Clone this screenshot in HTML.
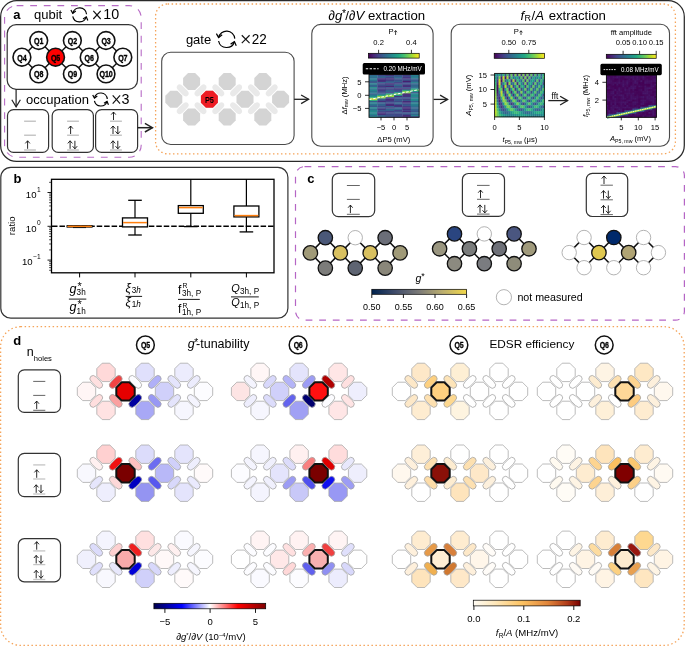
<!DOCTYPE html>
<html><head><meta charset="utf-8"><style>
html,body{margin:0;padding:0;background:#fff;}
svg{display:block;will-change:transform;}
text{font-family:"Liberation Sans", sans-serif;}
</style></head><body>
<svg width="685" height="646" viewBox="0 0 685 646" font-family='"Liberation Sans", sans-serif'>
<defs>
<linearGradient id="gvir" x1="0" y1="0" x2="1" y2="0"><stop offset="0" stop-color="#440154"/><stop offset="0.1" stop-color="#482475"/><stop offset="0.2" stop-color="#414487"/><stop offset="0.3" stop-color="#355f8d"/><stop offset="0.4" stop-color="#2a788e"/><stop offset="0.5" stop-color="#21918c"/><stop offset="0.6" stop-color="#22a884"/><stop offset="0.7" stop-color="#44bf70"/><stop offset="0.8" stop-color="#7ad151"/><stop offset="0.9" stop-color="#bddf26"/><stop offset="1" stop-color="#fde725"/></linearGradient>
<linearGradient id="gseis" x1="0" y1="0" x2="1" y2="0"><stop offset="0" stop-color="#00004c"/><stop offset="0.25" stop-color="#0000ff"/><stop offset="0.5" stop-color="#ffffff"/><stop offset="0.75" stop-color="#ff0000"/><stop offset="1" stop-color="#800000"/></linearGradient>
<linearGradient id="gciv" x1="0" y1="0" x2="1" y2="0"><stop offset="0" stop-color="#00224e"/><stop offset="0.25" stop-color="#414d6b"/><stop offset="0.5" stop-color="#7c7b78"/><stop offset="0.75" stop-color="#bcaf6f"/><stop offset="1" stop-color="#f2d84a"/></linearGradient>
<linearGradient id="gorb" x1="0" y1="0" x2="1" y2="0"><stop offset="0" stop-color="#fffcf4"/><stop offset="0.2" stop-color="#fee8bc"/><stop offset="0.45" stop-color="#fdc464"/><stop offset="0.7" stop-color="#e0843a"/><stop offset="0.88" stop-color="#b03a18"/><stop offset="1" stop-color="#7a0000"/></linearGradient>
</defs>
<rect width="685" height="646" fill="#fff"/>
<rect x="0.65" y="0.65" width="683.65" height="160.75" rx="16" fill="none" stroke="#2a2a2a" stroke-width="1.25"/>
<rect x="4.6" y="5.6" width="136.6" height="151.6" rx="12" fill="none" stroke="#b86cc6" stroke-width="1.1" stroke-dasharray="6.8 6.8"/>
<text x="13.3" y="18.7" font-size="13" font-weight="bold" fill="#000">a</text>
<text x="34" y="19.3" font-size="13" fill="#000">qubit</text>
<path d="M86.57,14.19 A7.0,7.0 0 0 0 72.75,13.34" stroke="#000" stroke-width="1.2" fill="none"/>
<path d="M70.9,9.94 L72.75,13.34 L75.83,10.99" stroke="#000" stroke-width="1.2" fill="none"/>
<path d="M72.75,16.26 A7.0,7.0 0 0 0 86.29,16.85" stroke="#000" stroke-width="1.2" fill="none"/>
<path d="M87.84,20.39 L86.29,16.85 L83.02,18.92" stroke="#000" stroke-width="1.2" fill="none"/>
<line x1="93.3" y1="10.8" x2="100.7" y2="19" stroke="#111" stroke-width="1.15"/>
<line x1="93.3" y1="19" x2="100.7" y2="10.8" stroke="#111" stroke-width="1.15"/>
<text x="103.3" y="18.9" font-size="14.3" fill="#000">10</text>
<rect x="7.2" y="24.6" width="130.3" height="64.7" rx="9" fill="none" stroke="#333" stroke-width="1.2"/>
<line x1="21.9" y1="57.2" x2="38.72" y2="40.5" stroke="#111" stroke-width="1.4"/>
<line x1="21.9" y1="57.2" x2="38.72" y2="73.9" stroke="#111" stroke-width="1.4"/>
<line x1="38.72" y1="40.5" x2="55.54" y2="57.2" stroke="#111" stroke-width="1.4"/>
<line x1="38.72" y1="73.9" x2="55.54" y2="57.2" stroke="#111" stroke-width="1.4"/>
<line x1="55.54" y1="57.2" x2="72.36" y2="40.5" stroke="#111" stroke-width="1.4"/>
<line x1="55.54" y1="57.2" x2="72.36" y2="73.9" stroke="#111" stroke-width="1.4"/>
<line x1="72.36" y1="40.5" x2="89.18" y2="57.2" stroke="#111" stroke-width="1.4"/>
<line x1="72.36" y1="73.9" x2="89.18" y2="57.2" stroke="#111" stroke-width="1.4"/>
<line x1="89.18" y1="57.2" x2="106" y2="40.5" stroke="#111" stroke-width="1.4"/>
<line x1="89.18" y1="57.2" x2="106" y2="73.9" stroke="#111" stroke-width="1.4"/>
<line x1="106" y1="40.5" x2="122.82" y2="57.2" stroke="#111" stroke-width="1.4"/>
<line x1="106" y1="73.9" x2="122.82" y2="57.2" stroke="#111" stroke-width="1.4"/>
<circle cx="21.9" cy="57.2" r="8.9" fill="#fff" stroke="#111" stroke-width="1.6"/>
<text x="21.9" y="60.6" font-size="9.6" font-weight="bold" text-anchor="middle" stroke="#000" stroke-width="0.35" transform="translate(21.9 0) scale(0.74 1) translate(-21.9 0)" letter-spacing="-0.2">Q4</text>
<circle cx="38.72" cy="40.5" r="8.9" fill="#fff" stroke="#111" stroke-width="1.6"/>
<text x="38.72" y="43.9" font-size="9.6" font-weight="bold" text-anchor="middle" stroke="#000" stroke-width="0.35" transform="translate(38.72 0) scale(0.74 1) translate(-38.72 0)" letter-spacing="-0.2">Q1</text>
<circle cx="38.72" cy="73.9" r="8.9" fill="#fff" stroke="#111" stroke-width="1.6"/>
<text x="38.72" y="77.3" font-size="9.6" font-weight="bold" text-anchor="middle" stroke="#000" stroke-width="0.35" transform="translate(38.72 0) scale(0.74 1) translate(-38.72 0)" letter-spacing="-0.2">Q8</text>
<circle cx="55.54" cy="57.2" r="8.9" fill="#ff0000" stroke="#111" stroke-width="1.6"/>
<text x="55.54" y="60.6" font-size="9.6" font-weight="bold" text-anchor="middle" stroke="#000" stroke-width="0.35" transform="translate(55.54 0) scale(0.74 1) translate(-55.54 0)" letter-spacing="-0.2">Q5</text>
<circle cx="72.36" cy="40.5" r="8.9" fill="#fff" stroke="#111" stroke-width="1.6"/>
<text x="72.36" y="43.9" font-size="9.6" font-weight="bold" text-anchor="middle" stroke="#000" stroke-width="0.35" transform="translate(72.36 0) scale(0.74 1) translate(-72.36 0)" letter-spacing="-0.2">Q2</text>
<circle cx="72.36" cy="73.9" r="8.9" fill="#fff" stroke="#111" stroke-width="1.6"/>
<text x="72.36" y="77.3" font-size="9.6" font-weight="bold" text-anchor="middle" stroke="#000" stroke-width="0.35" transform="translate(72.36 0) scale(0.74 1) translate(-72.36 0)" letter-spacing="-0.2">Q9</text>
<circle cx="89.18" cy="57.2" r="8.9" fill="#fff" stroke="#111" stroke-width="1.6"/>
<text x="89.18" y="60.6" font-size="9.6" font-weight="bold" text-anchor="middle" stroke="#000" stroke-width="0.35" transform="translate(89.18 0) scale(0.74 1) translate(-89.18 0)" letter-spacing="-0.2">Q6</text>
<circle cx="106" cy="40.5" r="8.9" fill="#fff" stroke="#111" stroke-width="1.6"/>
<text x="106" y="43.9" font-size="9.6" font-weight="bold" text-anchor="middle" stroke="#000" stroke-width="0.35" transform="translate(106 0) scale(0.74 1) translate(-106 0)" letter-spacing="-0.2">Q3</text>
<circle cx="106" cy="73.9" r="8.9" fill="#fff" stroke="#111" stroke-width="1.6"/>
<text x="106" y="77.3" font-size="9.6" font-weight="bold" text-anchor="middle" stroke="#000" stroke-width="0.35" transform="translate(106 0) scale(0.74 1) translate(-106 0)" letter-spacing="-0.2">Q10</text>
<circle cx="122.82" cy="57.2" r="8.9" fill="#fff" stroke="#111" stroke-width="1.6"/>
<text x="122.82" y="60.6" font-size="9.6" font-weight="bold" text-anchor="middle" stroke="#000" stroke-width="0.35" transform="translate(122.82 0) scale(0.74 1) translate(-122.82 0)" letter-spacing="-0.2">Q7</text>
<line x1="16.1" y1="89.3" x2="16.1" y2="106.8" stroke="#222" stroke-width="1.2"/>
<path d="M11.8,99.8 L16.1,106.8 L20.4,99.8" stroke="#222" stroke-width="1.2" fill="none"/>
<text x="26" y="103.6" font-size="13" fill="#000">occupation</text>
<path d="M107.28,98.93 A6.5,6.5 0 0 0 94.44,98.15" stroke="#000" stroke-width="1.2" fill="none"/>
<path d="M92.72,94.99 L94.44,98.15 L97.3,95.96" stroke="#000" stroke-width="1.2" fill="none"/>
<path d="M94.44,100.85 A6.5,6.5 0 0 0 107.02,101.4" stroke="#000" stroke-width="1.2" fill="none"/>
<path d="M108.46,104.7 L107.02,101.4 L103.98,103.33" stroke="#000" stroke-width="1.2" fill="none"/>
<line x1="112.7" y1="95.4" x2="120.1" y2="103.6" stroke="#111" stroke-width="1.15"/>
<line x1="112.7" y1="103.6" x2="120.1" y2="95.4" stroke="#111" stroke-width="1.15"/>
<text x="121.5" y="103.7" font-size="14.3" fill="#000">3</text>
<rect x="7.5" y="109.6" width="41.1" height="42.8" rx="6" fill="none" stroke="#333" stroke-width="1.2"/>
<line x1="24.1" y1="121.2" x2="35.9" y2="121.2" stroke="#b8b8b8" stroke-width="1.2"/>
<line x1="24.1" y1="135.2" x2="35.9" y2="135.2" stroke="#b8b8b8" stroke-width="1.2"/>
<line x1="24.1" y1="150" x2="35.9" y2="150" stroke="#b8b8b8" stroke-width="1.2"/>
<line x1="27.6" y1="140.8" x2="27.6" y2="148.8" stroke="#111" stroke-width="0.9"/>
<path d="M25.3,143.4 L27.6,140.8 L29.9,143.4" stroke="#111" stroke-width="0.9" fill="none"/>
<rect x="52.2" y="109.6" width="41.2" height="42.8" rx="6" fill="none" stroke="#333" stroke-width="1.2"/>
<line x1="67.1" y1="121.2" x2="78.9" y2="121.2" stroke="#b8b8b8" stroke-width="1.2"/>
<line x1="67.1" y1="135.2" x2="78.9" y2="135.2" stroke="#b8b8b8" stroke-width="1.2"/>
<line x1="70.6" y1="126" x2="70.6" y2="134" stroke="#111" stroke-width="0.9"/>
<path d="M68.3,128.6 L70.6,126 L72.9,128.6" stroke="#111" stroke-width="0.9" fill="none"/>
<line x1="67.1" y1="150" x2="78.9" y2="150" stroke="#b8b8b8" stroke-width="1.2"/>
<line x1="70.1" y1="140.8" x2="70.1" y2="148.8" stroke="#111" stroke-width="0.9"/>
<path d="M67.8,143.4 L70.1,140.8 L72.4,143.4" stroke="#111" stroke-width="0.9" fill="none"/>
<line x1="74.9" y1="140.8" x2="74.9" y2="148.8" stroke="#111" stroke-width="0.9"/>
<path d="M72.6,146.2 L74.9,148.8 L77.2,146.2" stroke="#111" stroke-width="0.9" fill="none"/>
<rect x="95.6" y="109.6" width="42" height="42.8" rx="6" fill="none" stroke="#333" stroke-width="1.2"/>
<line x1="110" y1="121.2" x2="121.9" y2="121.2" stroke="#b8b8b8" stroke-width="1.2"/>
<line x1="113.5" y1="112" x2="113.5" y2="120" stroke="#111" stroke-width="0.9"/>
<path d="M111.2,114.6 L113.5,112 L115.8,114.6" stroke="#111" stroke-width="0.9" fill="none"/>
<line x1="110" y1="135.2" x2="121.9" y2="135.2" stroke="#b8b8b8" stroke-width="1.2"/>
<line x1="113" y1="126" x2="113" y2="134" stroke="#111" stroke-width="0.9"/>
<path d="M110.7,128.6 L113,126 L115.3,128.6" stroke="#111" stroke-width="0.9" fill="none"/>
<line x1="117.8" y1="126" x2="117.8" y2="134" stroke="#111" stroke-width="0.9"/>
<path d="M115.5,131.4 L117.8,134 L120.1,131.4" stroke="#111" stroke-width="0.9" fill="none"/>
<line x1="110" y1="150" x2="121.9" y2="150" stroke="#b8b8b8" stroke-width="1.2"/>
<line x1="113" y1="140.8" x2="113" y2="148.8" stroke="#111" stroke-width="0.9"/>
<path d="M110.7,143.4 L113,140.8 L115.3,143.4" stroke="#111" stroke-width="0.9" fill="none"/>
<line x1="117.8" y1="140.8" x2="117.8" y2="148.8" stroke="#111" stroke-width="0.9"/>
<path d="M115.5,146.2 L117.8,148.8 L120.1,146.2" stroke="#111" stroke-width="0.9" fill="none"/>
<line x1="137.6" y1="127.7" x2="152.4" y2="127.7" stroke="#222" stroke-width="1.5"/>
<path d="M144.9,123.4 L152.4,127.7 L144.9,132" stroke="#222" stroke-width="1.5" fill="none"/>
<rect x="155.6" y="4" width="519.8" height="149.8" rx="12" fill="none" stroke="#f5a45a" stroke-width="1.3" stroke-dasharray="1.5 2.5"/>
<text x="185.9" y="44" font-size="13" fill="#000">gate</text>
<path d="M234.77,38.59 A8.2,8.2 0 0 0 218.58,37.6" stroke="#000" stroke-width="1.2" fill="none"/>
<path d="M216.41,33.61 L218.58,37.6 L222.18,34.84" stroke="#000" stroke-width="1.2" fill="none"/>
<path d="M218.58,41 A8.2,8.2 0 0 0 234.44,41.7" stroke="#000" stroke-width="1.2" fill="none"/>
<path d="M236.26,45.85 L234.44,41.7 L230.61,44.13" stroke="#000" stroke-width="1.2" fill="none"/>
<line x1="241.8" y1="35.25" x2="249.6" y2="43.15" stroke="#111" stroke-width="1.15"/>
<line x1="241.8" y1="43.15" x2="249.6" y2="35.25" stroke="#111" stroke-width="1.15"/>
<text x="251.7" y="43.9" font-size="14.3" fill="#000" textLength="15" lengthAdjust="spacingAndGlyphs">22</text>
<rect x="161.7" y="52.3" width="132.4" height="92.2" rx="9" fill="none" stroke="#4a4a4a" stroke-width="1.1"/>
<rect x="175.4" y="87.3" width="14.6" height="6.2" rx="4.38" ry="3.1" fill="#e9e9e9" stroke="none" stroke-width="0" transform="rotate(45 182.7 90.4)"/>
<rect x="175.4" y="105.1" width="14.6" height="6.2" rx="4.38" ry="3.1" fill="#e9e9e9" stroke="none" stroke-width="0" transform="rotate(-45 182.7 108.2)"/>
<rect x="193.2" y="87.3" width="14.6" height="6.2" rx="4.38" ry="3.1" fill="#e9e9e9" stroke="none" stroke-width="0" transform="rotate(-45 200.5 90.4)"/>
<rect x="193.2" y="105.1" width="14.6" height="6.2" rx="4.38" ry="3.1" fill="#e9e9e9" stroke="none" stroke-width="0" transform="rotate(45 200.5 108.2)"/>
<rect x="211" y="87.3" width="14.6" height="6.2" rx="4.38" ry="3.1" fill="#e9e9e9" stroke="none" stroke-width="0" transform="rotate(45 218.3 90.4)"/>
<rect x="211" y="105.1" width="14.6" height="6.2" rx="4.38" ry="3.1" fill="#e9e9e9" stroke="none" stroke-width="0" transform="rotate(-45 218.3 108.2)"/>
<rect x="228.8" y="87.3" width="14.6" height="6.2" rx="4.38" ry="3.1" fill="#e9e9e9" stroke="none" stroke-width="0" transform="rotate(-45 236.1 90.4)"/>
<rect x="228.8" y="105.1" width="14.6" height="6.2" rx="4.38" ry="3.1" fill="#e9e9e9" stroke="none" stroke-width="0" transform="rotate(45 236.1 108.2)"/>
<rect x="246.6" y="87.3" width="14.6" height="6.2" rx="4.38" ry="3.1" fill="#e9e9e9" stroke="none" stroke-width="0" transform="rotate(45 253.9 90.4)"/>
<rect x="246.6" y="105.1" width="14.6" height="6.2" rx="4.38" ry="3.1" fill="#e9e9e9" stroke="none" stroke-width="0" transform="rotate(-45 253.9 108.2)"/>
<rect x="264.4" y="87.3" width="14.6" height="6.2" rx="4.38" ry="3.1" fill="#e9e9e9" stroke="none" stroke-width="0" transform="rotate(-45 271.7 90.4)"/>
<rect x="264.4" y="105.1" width="14.6" height="6.2" rx="4.38" ry="3.1" fill="#e9e9e9" stroke="none" stroke-width="0" transform="rotate(45 271.7 108.2)"/>
<polygon points="177.32,90.8 182.3,95.78 182.3,102.82 177.32,107.8 170.28,107.8 165.3,102.82 165.3,95.78 170.28,90.8" fill="#d4d4d4" stroke="none" stroke-width="0" stroke-linejoin="round"/>
<polygon points="195.12,73 200.1,77.98 200.1,85.02 195.12,90 188.08,90 183.1,85.02 183.1,77.98 188.08,73" fill="#d4d4d4" stroke="none" stroke-width="0" stroke-linejoin="round"/>
<polygon points="195.12,108.6 200.1,113.58 200.1,120.62 195.12,125.6 188.08,125.6 183.1,120.62 183.1,113.58 188.08,108.6" fill="#d4d4d4" stroke="none" stroke-width="0" stroke-linejoin="round"/>
<polygon points="212.92,90.8 217.9,95.78 217.9,102.82 212.92,107.8 205.88,107.8 200.9,102.82 200.9,95.78 205.88,90.8" fill="#d4d4d4" stroke="none" stroke-width="0" stroke-linejoin="round"/>
<polygon points="230.72,73 235.7,77.98 235.7,85.02 230.72,90 223.68,90 218.7,85.02 218.7,77.98 223.68,73" fill="#d4d4d4" stroke="none" stroke-width="0" stroke-linejoin="round"/>
<polygon points="230.72,108.6 235.7,113.58 235.7,120.62 230.72,125.6 223.68,125.6 218.7,120.62 218.7,113.58 223.68,108.6" fill="#d4d4d4" stroke="none" stroke-width="0" stroke-linejoin="round"/>
<polygon points="248.52,90.8 253.5,95.78 253.5,102.82 248.52,107.8 241.48,107.8 236.5,102.82 236.5,95.78 241.48,90.8" fill="#d4d4d4" stroke="none" stroke-width="0" stroke-linejoin="round"/>
<polygon points="266.32,73 271.3,77.98 271.3,85.02 266.32,90 259.28,90 254.3,85.02 254.3,77.98 259.28,73" fill="#d4d4d4" stroke="none" stroke-width="0" stroke-linejoin="round"/>
<polygon points="266.32,108.6 271.3,113.58 271.3,120.62 266.32,125.6 259.28,125.6 254.3,120.62 254.3,113.58 259.28,108.6" fill="#d4d4d4" stroke="none" stroke-width="0" stroke-linejoin="round"/>
<polygon points="284.12,90.8 289.1,95.78 289.1,102.82 284.12,107.8 277.08,107.8 272.1,102.82 272.1,95.78 277.08,90.8" fill="#d4d4d4" stroke="none" stroke-width="0" stroke-linejoin="round"/>
<polygon points="212.92,90.8 217.9,95.78 217.9,102.82 212.92,107.8 205.88,107.8 200.9,102.82 200.9,95.78 205.88,90.8" fill="#ee1c24" stroke="none" stroke-width="0" stroke-linejoin="round"/>
<text x="209.4" y="102.8" font-size="9.2" font-weight="bold" text-anchor="middle" fill="#000" transform="translate(209.4 0) scale(0.8 1) translate(-209.4 0)">P5</text>
<line x1="294.1" y1="99.3" x2="308.6" y2="99.3" stroke="#222" stroke-width="1.3"/>
<path d="M301.1,95 L308.6,99.3 L301.1,103.6" stroke="#222" stroke-width="1.3" fill="none"/>
<text x="328.5" y="19.5" font-size="13.2">∂<tspan font-style="italic">g</tspan><tspan font-size="10.5" dy="-3" dx="-0.3">*</tspan><tspan dy="3" dx="-0.8">/∂</tspan><tspan font-style="italic">V</tspan> extraction</text>
<rect x="311.8" y="24.4" width="121.3" height="121.8" rx="9" fill="none" stroke="#4a4a4a" stroke-width="1.1"/>
<text x="388.5" y="33.6" font-size="7.6">P</text>
<line x1="395.6" y1="30.6" x2="395.6" y2="35" stroke="#111" stroke-width="0.8"/>
<path d="M394.2,32.2 L395.6,30.6 L397,32.2" stroke="#111" stroke-width="0.8" fill="none"/>
<text x="378.6" y="44.8" font-size="7.6" text-anchor="middle" fill="#000">0.2</text>
<text x="411.4" y="44.8" font-size="7.6" text-anchor="middle" fill="#000">0.4</text>
<line x1="378.6" y1="49.8" x2="378.6" y2="53.3" stroke="#000" stroke-width="0.8"/>
<line x1="411.4" y1="49.8" x2="411.4" y2="53.3" stroke="#000" stroke-width="0.8"/>
<rect x="368.4" y="53.3" width="50.8" height="4.8" fill="url(#gvir)" stroke="#000" stroke-width="0.7"/>
<rect x="369" y="74.5" width="8.65" height="1.56" fill="#33648d"/>
<rect x="369" y="75.76" width="8.65" height="1.56" fill="#2b768e"/>
<rect x="369" y="77.02" width="8.65" height="1.56" fill="#2f6c8e"/>
<rect x="369" y="78.28" width="8.65" height="1.56" fill="#2a798e"/>
<rect x="369" y="79.54" width="8.65" height="1.56" fill="#297a8e"/>
<rect x="369" y="80.79" width="8.65" height="1.56" fill="#375a8c"/>
<rect x="369" y="82.05" width="8.65" height="1.56" fill="#39578b"/>
<rect x="369" y="83.31" width="8.65" height="1.56" fill="#25868d"/>
<rect x="369" y="84.57" width="8.65" height="1.56" fill="#32668d"/>
<rect x="369" y="85.83" width="8.65" height="1.56" fill="#33648d"/>
<rect x="369" y="87.09" width="8.65" height="1.56" fill="#228f8c"/>
<rect x="369" y="88.35" width="8.65" height="1.56" fill="#2d718e"/>
<rect x="369" y="89.61" width="8.65" height="1.56" fill="#25868d"/>
<rect x="369" y="90.86" width="8.65" height="1.56" fill="#2d728e"/>
<rect x="369" y="92.12" width="8.65" height="1.56" fill="#297b8e"/>
<rect x="369" y="93.38" width="8.65" height="1.56" fill="#355f8d"/>
<rect x="369" y="94.64" width="8.65" height="1.56" fill="#297b8e"/>
<rect x="369" y="95.9" width="8.65" height="1.56" fill="#24888d"/>
<rect x="369" y="97.16" width="8.65" height="1.56" fill="#31b27b"/>
<rect x="369" y="98.42" width="8.65" height="1.56" fill="#fde725"/>
<rect x="369" y="99.68" width="8.65" height="1.56" fill="#31b27b"/>
<rect x="369" y="100.94" width="8.65" height="1.56" fill="#375a8c"/>
<rect x="369" y="102.19" width="8.65" height="1.56" fill="#26828d"/>
<rect x="369" y="103.45" width="8.65" height="1.56" fill="#2a788e"/>
<rect x="369" y="104.71" width="8.65" height="1.56" fill="#31688d"/>
<rect x="369" y="105.97" width="8.65" height="1.56" fill="#38588b"/>
<rect x="369" y="107.23" width="8.65" height="1.56" fill="#24888d"/>
<rect x="369" y="108.49" width="8.65" height="1.56" fill="#2d728e"/>
<rect x="369" y="109.75" width="8.65" height="1.56" fill="#27808d"/>
<rect x="369" y="111.01" width="8.65" height="1.56" fill="#24898d"/>
<rect x="369" y="112.26" width="8.65" height="1.56" fill="#277f8d"/>
<rect x="369" y="113.52" width="8.65" height="1.56" fill="#238b8c"/>
<rect x="369" y="114.78" width="8.65" height="1.56" fill="#2f6d8e"/>
<rect x="369" y="116.04" width="8.65" height="1.56" fill="#26848d"/>
<rect x="377.35" y="74.5" width="8.65" height="1.56" fill="#414386"/>
<rect x="377.35" y="75.76" width="8.65" height="1.56" fill="#34618d"/>
<rect x="377.35" y="77.02" width="8.65" height="1.56" fill="#365e8d"/>
<rect x="377.35" y="78.28" width="8.65" height="1.56" fill="#472a78"/>
<rect x="377.35" y="79.54" width="8.65" height="1.56" fill="#462d7a"/>
<rect x="377.35" y="80.79" width="8.65" height="1.56" fill="#45337d"/>
<rect x="377.35" y="82.05" width="8.65" height="1.56" fill="#33638d"/>
<rect x="377.35" y="83.31" width="8.65" height="1.56" fill="#414286"/>
<rect x="377.35" y="84.57" width="8.65" height="1.56" fill="#3c4e89"/>
<rect x="377.35" y="85.83" width="8.65" height="1.56" fill="#433981"/>
<rect x="377.35" y="87.09" width="8.65" height="1.56" fill="#404788"/>
<rect x="377.35" y="88.35" width="8.65" height="1.56" fill="#423f84"/>
<rect x="377.35" y="89.61" width="8.65" height="1.56" fill="#433c83"/>
<rect x="377.35" y="90.86" width="8.65" height="1.56" fill="#3e4c89"/>
<rect x="377.35" y="92.12" width="8.65" height="1.56" fill="#3e4c89"/>
<rect x="377.35" y="93.38" width="8.65" height="1.56" fill="#355f8d"/>
<rect x="377.35" y="94.64" width="8.65" height="1.56" fill="#219c88"/>
<rect x="377.35" y="95.9" width="8.65" height="1.56" fill="#94d640"/>
<rect x="377.35" y="97.16" width="8.65" height="1.56" fill="#94d640"/>
<rect x="377.35" y="98.42" width="8.65" height="1.56" fill="#33648d"/>
<rect x="377.35" y="99.68" width="8.65" height="1.56" fill="#3b518a"/>
<rect x="377.35" y="100.94" width="8.65" height="1.56" fill="#462f7b"/>
<rect x="377.35" y="102.19" width="8.65" height="1.56" fill="#365d8c"/>
<rect x="377.35" y="103.45" width="8.65" height="1.56" fill="#33638d"/>
<rect x="377.35" y="104.71" width="8.65" height="1.56" fill="#355f8d"/>
<rect x="377.35" y="105.97" width="8.65" height="1.56" fill="#3e4b89"/>
<rect x="377.35" y="107.23" width="8.65" height="1.56" fill="#3a548a"/>
<rect x="377.35" y="108.49" width="8.65" height="1.56" fill="#45327d"/>
<rect x="377.35" y="109.75" width="8.65" height="1.56" fill="#375b8c"/>
<rect x="377.35" y="111.01" width="8.65" height="1.56" fill="#3e4b89"/>
<rect x="377.35" y="112.26" width="8.65" height="1.56" fill="#443880"/>
<rect x="377.35" y="113.52" width="8.65" height="1.56" fill="#472877"/>
<rect x="377.35" y="114.78" width="8.65" height="1.56" fill="#365c8c"/>
<rect x="377.35" y="116.04" width="8.65" height="1.56" fill="#33648d"/>
<rect x="385.7" y="74.5" width="8.65" height="1.56" fill="#462c7a"/>
<rect x="385.7" y="75.76" width="8.65" height="1.56" fill="#375c8c"/>
<rect x="385.7" y="77.02" width="8.65" height="1.56" fill="#414487"/>
<rect x="385.7" y="78.28" width="8.65" height="1.56" fill="#45317c"/>
<rect x="385.7" y="79.54" width="8.65" height="1.56" fill="#433b82"/>
<rect x="385.7" y="80.79" width="8.65" height="1.56" fill="#375a8c"/>
<rect x="385.7" y="82.05" width="8.65" height="1.56" fill="#35608d"/>
<rect x="385.7" y="83.31" width="8.65" height="1.56" fill="#472978"/>
<rect x="385.7" y="84.57" width="8.65" height="1.56" fill="#3c508a"/>
<rect x="385.7" y="85.83" width="8.65" height="1.56" fill="#472978"/>
<rect x="385.7" y="87.09" width="8.65" height="1.56" fill="#39578b"/>
<rect x="385.7" y="88.35" width="8.65" height="1.56" fill="#423e84"/>
<rect x="385.7" y="89.61" width="8.65" height="1.56" fill="#34608d"/>
<rect x="385.7" y="90.86" width="8.65" height="1.56" fill="#32668d"/>
<rect x="385.7" y="92.12" width="8.65" height="1.56" fill="#3f4a88"/>
<rect x="385.7" y="93.38" width="8.65" height="1.56" fill="#219c88"/>
<rect x="385.7" y="94.64" width="8.65" height="1.56" fill="#94d640"/>
<rect x="385.7" y="95.9" width="8.65" height="1.56" fill="#94d640"/>
<rect x="385.7" y="97.16" width="8.65" height="1.56" fill="#3c4f8a"/>
<rect x="385.7" y="98.42" width="8.65" height="1.56" fill="#472877"/>
<rect x="385.7" y="99.68" width="8.65" height="1.56" fill="#44347e"/>
<rect x="385.7" y="100.94" width="8.65" height="1.56" fill="#414487"/>
<rect x="385.7" y="102.19" width="8.65" height="1.56" fill="#3c508a"/>
<rect x="385.7" y="103.45" width="8.65" height="1.56" fill="#45317d"/>
<rect x="385.7" y="104.71" width="8.65" height="1.56" fill="#472978"/>
<rect x="385.7" y="105.97" width="8.65" height="1.56" fill="#35608d"/>
<rect x="385.7" y="107.23" width="8.65" height="1.56" fill="#433d83"/>
<rect x="385.7" y="108.49" width="8.65" height="1.56" fill="#32658d"/>
<rect x="385.7" y="109.75" width="8.65" height="1.56" fill="#34618d"/>
<rect x="385.7" y="111.01" width="8.65" height="1.56" fill="#424186"/>
<rect x="385.7" y="112.26" width="8.65" height="1.56" fill="#404788"/>
<rect x="385.7" y="113.52" width="8.65" height="1.56" fill="#3e4a88"/>
<rect x="385.7" y="114.78" width="8.65" height="1.56" fill="#3b528a"/>
<rect x="385.7" y="116.04" width="8.65" height="1.56" fill="#3c4f89"/>
<rect x="394.05" y="74.5" width="8.65" height="1.56" fill="#39568b"/>
<rect x="394.05" y="75.76" width="8.65" height="1.56" fill="#38598c"/>
<rect x="394.05" y="77.02" width="8.65" height="1.56" fill="#2f6c8e"/>
<rect x="394.05" y="78.28" width="8.65" height="1.56" fill="#3b528a"/>
<rect x="394.05" y="79.54" width="8.65" height="1.56" fill="#3d4e89"/>
<rect x="394.05" y="80.79" width="8.65" height="1.56" fill="#355f8d"/>
<rect x="394.05" y="82.05" width="8.65" height="1.56" fill="#424286"/>
<rect x="394.05" y="83.31" width="8.65" height="1.56" fill="#404687"/>
<rect x="394.05" y="84.57" width="8.65" height="1.56" fill="#2e6e8e"/>
<rect x="394.05" y="85.83" width="8.65" height="1.56" fill="#3a538a"/>
<rect x="394.05" y="87.09" width="8.65" height="1.56" fill="#39558b"/>
<rect x="394.05" y="88.35" width="8.65" height="1.56" fill="#45317c"/>
<rect x="394.05" y="89.61" width="8.65" height="1.56" fill="#3d4d89"/>
<rect x="394.05" y="90.86" width="8.65" height="1.56" fill="#39578b"/>
<rect x="394.05" y="92.12" width="8.65" height="1.56" fill="#21958b"/>
<rect x="394.05" y="93.38" width="8.65" height="1.56" fill="#7ed24e"/>
<rect x="394.05" y="94.64" width="8.65" height="1.56" fill="#21958b"/>
<rect x="394.05" y="95.9" width="8.65" height="1.56" fill="#44357e"/>
<rect x="394.05" y="97.16" width="8.65" height="1.56" fill="#375a8c"/>
<rect x="394.05" y="98.42" width="8.65" height="1.56" fill="#3c508a"/>
<rect x="394.05" y="99.68" width="8.65" height="1.56" fill="#365d8d"/>
<rect x="394.05" y="100.94" width="8.65" height="1.56" fill="#3f4988"/>
<rect x="394.05" y="102.19" width="8.65" height="1.56" fill="#355f8d"/>
<rect x="394.05" y="103.45" width="8.65" height="1.56" fill="#34608d"/>
<rect x="394.05" y="104.71" width="8.65" height="1.56" fill="#45327d"/>
<rect x="394.05" y="105.97" width="8.65" height="1.56" fill="#44357e"/>
<rect x="394.05" y="107.23" width="8.65" height="1.56" fill="#365d8c"/>
<rect x="394.05" y="108.49" width="8.65" height="1.56" fill="#2f6d8e"/>
<rect x="394.05" y="109.75" width="8.65" height="1.56" fill="#414386"/>
<rect x="394.05" y="111.01" width="8.65" height="1.56" fill="#3c4f8a"/>
<rect x="394.05" y="112.26" width="8.65" height="1.56" fill="#38588b"/>
<rect x="394.05" y="113.52" width="8.65" height="1.56" fill="#404788"/>
<rect x="394.05" y="114.78" width="8.65" height="1.56" fill="#3e4a88"/>
<rect x="394.05" y="116.04" width="8.65" height="1.56" fill="#404788"/>
<rect x="402.4" y="74.5" width="8.65" height="1.56" fill="#443881"/>
<rect x="402.4" y="75.76" width="8.65" height="1.56" fill="#3f4888"/>
<rect x="402.4" y="77.02" width="8.65" height="1.56" fill="#45347e"/>
<rect x="402.4" y="78.28" width="8.65" height="1.56" fill="#433981"/>
<rect x="402.4" y="79.54" width="8.65" height="1.56" fill="#3a538a"/>
<rect x="402.4" y="80.79" width="8.65" height="1.56" fill="#471f71"/>
<rect x="402.4" y="82.05" width="8.65" height="1.56" fill="#404688"/>
<rect x="402.4" y="83.31" width="8.65" height="1.56" fill="#3b518a"/>
<rect x="402.4" y="84.57" width="8.65" height="1.56" fill="#44347e"/>
<rect x="402.4" y="85.83" width="8.65" height="1.56" fill="#462e7b"/>
<rect x="402.4" y="87.09" width="8.65" height="1.56" fill="#3a558b"/>
<rect x="402.4" y="88.35" width="8.65" height="1.56" fill="#462f7b"/>
<rect x="402.4" y="89.61" width="8.65" height="1.56" fill="#21958b"/>
<rect x="402.4" y="90.86" width="8.65" height="1.56" fill="#7ed24e"/>
<rect x="402.4" y="92.12" width="8.65" height="1.56" fill="#7ed24e"/>
<rect x="402.4" y="93.38" width="8.65" height="1.56" fill="#482576"/>
<rect x="402.4" y="94.64" width="8.65" height="1.56" fill="#44357f"/>
<rect x="402.4" y="95.9" width="8.65" height="1.56" fill="#44367f"/>
<rect x="402.4" y="97.16" width="8.65" height="1.56" fill="#39578b"/>
<rect x="402.4" y="98.42" width="8.65" height="1.56" fill="#423d83"/>
<rect x="402.4" y="99.68" width="8.65" height="1.56" fill="#38588b"/>
<rect x="402.4" y="100.94" width="8.65" height="1.56" fill="#472a78"/>
<rect x="402.4" y="102.19" width="8.65" height="1.56" fill="#44367f"/>
<rect x="402.4" y="103.45" width="8.65" height="1.56" fill="#3e4b89"/>
<rect x="402.4" y="104.71" width="8.65" height="1.56" fill="#375a8c"/>
<rect x="402.4" y="105.97" width="8.65" height="1.56" fill="#423e84"/>
<rect x="402.4" y="107.23" width="8.65" height="1.56" fill="#462e7b"/>
<rect x="402.4" y="108.49" width="8.65" height="1.56" fill="#472776"/>
<rect x="402.4" y="109.75" width="8.65" height="1.56" fill="#414487"/>
<rect x="402.4" y="111.01" width="8.65" height="1.56" fill="#462c79"/>
<rect x="402.4" y="112.26" width="8.65" height="1.56" fill="#39558b"/>
<rect x="402.4" y="113.52" width="8.65" height="1.56" fill="#39578b"/>
<rect x="402.4" y="114.78" width="8.65" height="1.56" fill="#462b79"/>
<rect x="402.4" y="116.04" width="8.65" height="1.56" fill="#45327d"/>
<rect x="410.75" y="74.5" width="8.65" height="1.56" fill="#27808d"/>
<rect x="410.75" y="75.76" width="8.65" height="1.56" fill="#2b768e"/>
<rect x="410.75" y="77.02" width="8.65" height="1.56" fill="#27808d"/>
<rect x="410.75" y="78.28" width="8.65" height="1.56" fill="#32668d"/>
<rect x="410.75" y="79.54" width="8.65" height="1.56" fill="#38598c"/>
<rect x="410.75" y="80.79" width="8.65" height="1.56" fill="#33638d"/>
<rect x="410.75" y="82.05" width="8.65" height="1.56" fill="#287f8d"/>
<rect x="410.75" y="83.31" width="8.65" height="1.56" fill="#34618d"/>
<rect x="410.75" y="84.57" width="8.65" height="1.56" fill="#32668d"/>
<rect x="410.75" y="85.83" width="8.65" height="1.56" fill="#306a8d"/>
<rect x="410.75" y="87.09" width="8.65" height="1.56" fill="#306a8d"/>
<rect x="410.75" y="88.35" width="8.65" height="1.56" fill="#21958b"/>
<rect x="410.75" y="89.61" width="8.65" height="1.56" fill="#5bc763"/>
<rect x="410.75" y="90.86" width="8.65" height="1.56" fill="#21958b"/>
<rect x="410.75" y="92.12" width="8.65" height="1.56" fill="#3b518a"/>
<rect x="410.75" y="93.38" width="8.65" height="1.56" fill="#24878d"/>
<rect x="410.75" y="94.64" width="8.65" height="1.56" fill="#26848d"/>
<rect x="410.75" y="95.9" width="8.65" height="1.56" fill="#248a8d"/>
<rect x="410.75" y="97.16" width="8.65" height="1.56" fill="#306b8d"/>
<rect x="410.75" y="98.42" width="8.65" height="1.56" fill="#24888d"/>
<rect x="410.75" y="99.68" width="8.65" height="1.56" fill="#25868d"/>
<rect x="410.75" y="100.94" width="8.65" height="1.56" fill="#355f8d"/>
<rect x="410.75" y="102.19" width="8.65" height="1.56" fill="#287c8e"/>
<rect x="410.75" y="103.45" width="8.65" height="1.56" fill="#27818d"/>
<rect x="410.75" y="104.71" width="8.65" height="1.56" fill="#2a788e"/>
<rect x="410.75" y="105.97" width="8.65" height="1.56" fill="#2e6f8e"/>
<rect x="410.75" y="107.23" width="8.65" height="1.56" fill="#33628d"/>
<rect x="410.75" y="108.49" width="8.65" height="1.56" fill="#32658d"/>
<rect x="410.75" y="109.75" width="8.65" height="1.56" fill="#355f8d"/>
<rect x="410.75" y="111.01" width="8.65" height="1.56" fill="#39558b"/>
<rect x="410.75" y="112.26" width="8.65" height="1.56" fill="#2c738e"/>
<rect x="410.75" y="113.52" width="8.65" height="1.56" fill="#34628d"/>
<rect x="410.75" y="114.78" width="8.65" height="1.56" fill="#27808d"/>
<rect x="410.75" y="116.04" width="8.65" height="1.56" fill="#3a548b"/>
<line x1="369" y1="99.6" x2="419.1" y2="89.6" stroke="#fff" stroke-width="1.0" stroke-dasharray="2.6 1.6"/>
<rect x="369.0" y="74.5" width="50.1" height="42.8" fill="none" stroke="#111" stroke-width="0.9"/>
<rect x="362.7" y="63.1" width="62.3" height="11.4" rx="1.6" fill="#000"/>
<line x1="365.8" y1="68.8" x2="378.6" y2="68.8" stroke="#fff" stroke-width="1.1" stroke-dasharray="2.4 1.4"/>
<text x="383.5" y="71.3" font-size="7.4" fill="#fff" textLength="38.2" lengthAdjust="spacingAndGlyphs">0.20 MHz/mV</text>
<line x1="365" y1="81.8" x2="369" y2="81.8" stroke="#000" stroke-width="0.8"/>
<text x="361.4" y="84.6" font-size="7.6" text-anchor="end" fill="#000">5</text>
<line x1="365" y1="95.3" x2="369" y2="95.3" stroke="#000" stroke-width="0.8"/>
<text x="361.4" y="98.1" font-size="7.6" text-anchor="end" fill="#000">0</text>
<line x1="365" y1="108.4" x2="369" y2="108.4" stroke="#000" stroke-width="0.8"/>
<text x="361.4" y="111.2" font-size="7.6" text-anchor="end" fill="#000">−5</text>
<line x1="381" y1="117.3" x2="381" y2="120.4" stroke="#000" stroke-width="0.8"/>
<text x="381" y="130.1" font-size="7.6" text-anchor="middle" fill="#000">−5</text>
<line x1="394" y1="117.3" x2="394" y2="120.4" stroke="#000" stroke-width="0.8"/>
<text x="394" y="130.1" font-size="7.6" text-anchor="middle" fill="#000">0</text>
<line x1="407" y1="117.3" x2="407" y2="120.4" stroke="#000" stroke-width="0.8"/>
<text x="407" y="130.1" font-size="7.6" text-anchor="middle" fill="#000">5</text>
<text x="393.8" y="141.8" font-size="7.6" text-anchor="middle" fill="#000">ΔP5 (mV)</text>
<text transform="translate(346.6 95.5) rotate(-90)" font-size="7.6" text-anchor="middle">Δ<tspan font-style="italic">f</tspan><tspan font-size="5.2" dy="1.8">mw</tspan><tspan dy="-1.8"> (MHz)</tspan></text>
<line x1="433.6" y1="99.4" x2="447.6" y2="99.4" stroke="#222" stroke-width="1.3"/>
<path d="M440.1,95.1 L447.6,99.4 L440.1,103.7" stroke="#222" stroke-width="1.3" fill="none"/>
<text x="520.5" y="19.5" font-size="13.2"><tspan font-style="italic">f</tspan><tspan font-size="9" dy="1.6" dx="0.3">R</tspan><tspan dy="-1.6" dx="0.6">/</tspan><tspan font-style="italic">A</tspan><tspan dx="1"> extraction</tspan></text>
<rect x="451.2" y="24.3" width="218.3" height="121.9" rx="9" fill="none" stroke="#4a4a4a" stroke-width="1.1"/>
<text x="513.7" y="33.6" font-size="7.6">P</text>
<line x1="521" y1="30.8" x2="521" y2="35" stroke="#111" stroke-width="0.8"/>
<path d="M519.6,32.4 L521,30.8 L522.4,32.4" stroke="#111" stroke-width="0.8" fill="none"/>
<text x="508.8" y="44.6" font-size="7.6" text-anchor="middle" fill="#000">0.50</text>
<text x="528.8" y="44.6" font-size="7.6" text-anchor="middle" fill="#000">0.75</text>
<line x1="508.8" y1="49.8" x2="508.8" y2="53.3" stroke="#000" stroke-width="0.8"/>
<line x1="528.8" y1="49.8" x2="528.8" y2="53.3" stroke="#000" stroke-width="0.8"/>
<rect x="494.2" y="53.3" width="50.3" height="5.0" fill="url(#gvir)" stroke="#000" stroke-width="0.7"/>
<rect x="494.6" y="73.4" width="2.24" height="3.15" fill="#21948b"/>
<rect x="496.59" y="73.4" width="2.24" height="3.15" fill="#287d8e"/>
<rect x="498.58" y="73.4" width="2.24" height="3.15" fill="#22a884"/>
<rect x="500.58" y="73.4" width="2.24" height="3.15" fill="#31688d"/>
<rect x="502.57" y="73.4" width="2.24" height="3.15" fill="#3ab876"/>
<rect x="504.56" y="73.4" width="2.24" height="3.15" fill="#39568b"/>
<rect x="506.55" y="73.4" width="2.24" height="3.15" fill="#54c467"/>
<rect x="508.54" y="73.4" width="2.24" height="3.15" fill="#3f4888"/>
<rect x="510.54" y="73.4" width="2.24" height="3.15" fill="#6bcc5a"/>
<rect x="512.53" y="73.4" width="2.24" height="3.15" fill="#423e84"/>
<rect x="514.52" y="73.4" width="2.24" height="3.15" fill="#79d152"/>
<rect x="516.51" y="73.4" width="2.24" height="3.15" fill="#443880"/>
<rect x="518.5" y="73.4" width="2.24" height="3.15" fill="#80d24d"/>
<rect x="520.5" y="73.4" width="2.24" height="3.15" fill="#443780"/>
<rect x="522.49" y="73.4" width="2.24" height="3.15" fill="#7dd24f"/>
<rect x="524.48" y="73.4" width="2.24" height="3.15" fill="#433a81"/>
<rect x="526.47" y="73.4" width="2.24" height="3.15" fill="#74cf54"/>
<rect x="528.46" y="73.4" width="2.24" height="3.15" fill="#424185"/>
<rect x="530.46" y="73.4" width="2.24" height="3.15" fill="#66ca5c"/>
<rect x="532.45" y="73.4" width="2.24" height="3.15" fill="#3f4988"/>
<rect x="534.44" y="73.4" width="2.24" height="3.15" fill="#53c467"/>
<rect x="536.43" y="73.4" width="2.24" height="3.15" fill="#3a548a"/>
<rect x="538.42" y="73.4" width="2.24" height="3.15" fill="#40bc72"/>
<rect x="540.42" y="73.4" width="2.24" height="3.15" fill="#355f8d"/>
<rect x="542.41" y="73.4" width="2.24" height="3.15" fill="#31b27b"/>
<rect x="494.6" y="76.3" width="2.24" height="3.15" fill="#229f87"/>
<rect x="496.59" y="76.3" width="2.24" height="3.15" fill="#375b8c"/>
<rect x="498.58" y="76.3" width="2.24" height="3.15" fill="#78d052"/>
<rect x="500.58" y="76.3" width="2.24" height="3.15" fill="#482576"/>
<rect x="502.57" y="76.3" width="2.24" height="3.15" fill="#c0df26"/>
<rect x="504.56" y="76.3" width="2.24" height="3.15" fill="#47196a"/>
<rect x="506.55" y="76.3" width="2.24" height="3.15" fill="#a5da35"/>
<rect x="508.54" y="76.3" width="2.24" height="3.15" fill="#433b82"/>
<rect x="510.54" y="76.3" width="2.24" height="3.15" fill="#46c06f"/>
<rect x="512.53" y="76.3" width="2.24" height="3.15" fill="#2d718e"/>
<rect x="514.52" y="76.3" width="2.24" height="3.15" fill="#228e8c"/>
<rect x="516.51" y="76.3" width="2.24" height="3.15" fill="#22a485"/>
<rect x="518.5" y="76.3" width="2.24" height="3.15" fill="#365d8d"/>
<rect x="520.5" y="76.3" width="2.24" height="3.15" fill="#5ac663"/>
<rect x="522.49" y="76.3" width="2.24" height="3.15" fill="#423f84"/>
<rect x="524.48" y="76.3" width="2.24" height="3.15" fill="#78d052"/>
<rect x="526.47" y="76.3" width="2.24" height="3.15" fill="#423f84"/>
<rect x="528.46" y="76.3" width="2.24" height="3.15" fill="#5bc763"/>
<rect x="530.46" y="76.3" width="2.24" height="3.15" fill="#375a8c"/>
<rect x="532.45" y="76.3" width="2.24" height="3.15" fill="#26aa82"/>
<rect x="534.44" y="76.3" width="2.24" height="3.15" fill="#27818d"/>
<rect x="536.43" y="76.3" width="2.24" height="3.15" fill="#26848d"/>
<rect x="538.42" y="76.3" width="2.24" height="3.15" fill="#22a685"/>
<rect x="540.42" y="76.3" width="2.24" height="3.15" fill="#33638d"/>
<rect x="542.41" y="76.3" width="2.24" height="3.15" fill="#41bd72"/>
<rect x="494.6" y="79.2" width="2.24" height="3.15" fill="#25aa82"/>
<rect x="496.59" y="79.2" width="2.24" height="3.15" fill="#433b82"/>
<rect x="498.58" y="79.2" width="2.24" height="3.15" fill="#c9e126"/>
<rect x="500.58" y="79.2" width="2.24" height="3.15" fill="#461365"/>
<rect x="502.57" y="79.2" width="2.24" height="3.15" fill="#8ad447"/>
<rect x="504.56" y="79.2" width="2.24" height="3.15" fill="#33648d"/>
<rect x="506.55" y="79.2" width="2.24" height="3.15" fill="#26848d"/>
<rect x="508.54" y="79.2" width="2.24" height="3.15" fill="#45bf6f"/>
<rect x="510.54" y="79.2" width="2.24" height="3.15" fill="#45337d"/>
<rect x="512.53" y="79.2" width="2.24" height="3.15" fill="#a0d939"/>
<rect x="514.52" y="79.2" width="2.24" height="3.15" fill="#433a81"/>
<rect x="516.51" y="79.2" width="2.24" height="3.15" fill="#3bb975"/>
<rect x="518.5" y="79.2" width="2.24" height="3.15" fill="#25878d"/>
<rect x="520.5" y="79.2" width="2.24" height="3.15" fill="#306b8d"/>
<rect x="522.49" y="79.2" width="2.24" height="3.15" fill="#5ac663"/>
<rect x="524.48" y="79.2" width="2.24" height="3.15" fill="#433b82"/>
<rect x="526.47" y="79.2" width="2.24" height="3.15" fill="#6acc5a"/>
<rect x="528.46" y="79.2" width="2.24" height="3.15" fill="#375b8c"/>
<rect x="530.46" y="79.2" width="2.24" height="3.15" fill="#219c88"/>
<rect x="532.45" y="79.2" width="2.24" height="3.15" fill="#229e87"/>
<rect x="534.44" y="79.2" width="2.24" height="3.15" fill="#365e8d"/>
<rect x="536.43" y="79.2" width="2.24" height="3.15" fill="#57c565"/>
<rect x="538.42" y="79.2" width="2.24" height="3.15" fill="#3d4c89"/>
<rect x="540.42" y="79.2" width="2.24" height="3.15" fill="#3cba75"/>
<rect x="542.41" y="79.2" width="2.24" height="3.15" fill="#2b768e"/>
<rect x="494.6" y="82.1" width="2.24" height="3.15" fill="#35b579"/>
<rect x="496.59" y="82.1" width="2.24" height="3.15" fill="#482071"/>
<rect x="498.58" y="82.1" width="2.24" height="3.15" fill="#d4e226"/>
<rect x="500.58" y="82.1" width="2.24" height="3.15" fill="#414487"/>
<rect x="502.57" y="82.1" width="2.24" height="3.15" fill="#228f8c"/>
<rect x="504.56" y="82.1" width="2.24" height="3.15" fill="#5ec861"/>
<rect x="506.55" y="82.1" width="2.24" height="3.15" fill="#482071"/>
<rect x="508.54" y="82.1" width="2.24" height="3.15" fill="#8dd545"/>
<rect x="510.54" y="82.1" width="2.24" height="3.15" fill="#306b8d"/>
<rect x="512.53" y="82.1" width="2.24" height="3.15" fill="#2e6f8e"/>
<rect x="514.52" y="82.1" width="2.24" height="3.15" fill="#75cf54"/>
<rect x="516.51" y="82.1" width="2.24" height="3.15" fill="#45307c"/>
<rect x="518.5" y="82.1" width="2.24" height="3.15" fill="#4ac16d"/>
<rect x="520.5" y="82.1" width="2.24" height="3.15" fill="#248a8d"/>
<rect x="522.49" y="82.1" width="2.24" height="3.15" fill="#375b8c"/>
<rect x="524.48" y="82.1" width="2.24" height="3.15" fill="#74cf54"/>
<rect x="526.47" y="82.1" width="2.24" height="3.15" fill="#3f4888"/>
<rect x="528.46" y="82.1" width="2.24" height="3.15" fill="#22a784"/>
<rect x="530.46" y="82.1" width="2.24" height="3.15" fill="#22a187"/>
<rect x="532.45" y="82.1" width="2.24" height="3.15" fill="#3b518a"/>
<rect x="534.44" y="82.1" width="2.24" height="3.15" fill="#60c860"/>
<rect x="536.43" y="82.1" width="2.24" height="3.15" fill="#35608d"/>
<rect x="538.42" y="82.1" width="2.24" height="3.15" fill="#21918c"/>
<rect x="540.42" y="82.1" width="2.24" height="3.15" fill="#2daf7e"/>
<rect x="542.41" y="82.1" width="2.24" height="3.15" fill="#3b518a"/>
<rect x="494.6" y="85" width="2.24" height="3.15" fill="#45bf70"/>
<rect x="496.59" y="85" width="2.24" height="3.15" fill="#460f61"/>
<rect x="498.58" y="85" width="2.24" height="3.15" fill="#98d73e"/>
<rect x="500.58" y="85" width="2.24" height="3.15" fill="#238d8c"/>
<rect x="502.57" y="85" width="2.24" height="3.15" fill="#443780"/>
<rect x="504.56" y="85" width="2.24" height="3.15" fill="#b7de2a"/>
<rect x="506.55" y="85" width="2.24" height="3.15" fill="#35608d"/>
<rect x="508.54" y="85" width="2.24" height="3.15" fill="#32668d"/>
<rect x="510.54" y="85" width="2.24" height="3.15" fill="#9dd83b"/>
<rect x="512.53" y="85" width="2.24" height="3.15" fill="#424085"/>
<rect x="514.52" y="85" width="2.24" height="3.15" fill="#21918c"/>
<rect x="516.51" y="85" width="2.24" height="3.15" fill="#5dc762"/>
<rect x="518.5" y="85" width="2.24" height="3.15" fill="#44347e"/>
<rect x="520.5" y="85" width="2.24" height="3.15" fill="#30b27c"/>
<rect x="522.49" y="85" width="2.24" height="3.15" fill="#24a983"/>
<rect x="524.48" y="85" width="2.24" height="3.15" fill="#423f84"/>
<rect x="526.47" y="85" width="2.24" height="3.15" fill="#55c566"/>
<rect x="528.46" y="85" width="2.24" height="3.15" fill="#24888d"/>
<rect x="530.46" y="85" width="2.24" height="3.15" fill="#38588b"/>
<rect x="532.45" y="85" width="2.24" height="3.15" fill="#63c95e"/>
<rect x="534.44" y="85" width="2.24" height="3.15" fill="#306b8d"/>
<rect x="536.43" y="85" width="2.24" height="3.15" fill="#2b768e"/>
<rect x="538.42" y="85" width="2.24" height="3.15" fill="#52c468"/>
<rect x="540.42" y="85" width="2.24" height="3.15" fill="#38598c"/>
<rect x="542.41" y="85" width="2.24" height="3.15" fill="#21938b"/>
<rect x="494.6" y="87.9" width="2.24" height="3.15" fill="#5bc763"/>
<rect x="496.59" y="87.9" width="2.24" height="3.15" fill="#450d5f"/>
<rect x="498.58" y="87.9" width="2.24" height="3.15" fill="#3ab876"/>
<rect x="500.58" y="87.9" width="2.24" height="3.15" fill="#66ca5d"/>
<rect x="502.57" y="87.9" width="2.24" height="3.15" fill="#471b6c"/>
<rect x="504.56" y="87.9" width="2.24" height="3.15" fill="#22a884"/>
<rect x="506.55" y="87.9" width="2.24" height="3.15" fill="#6dcd59"/>
<rect x="508.54" y="87.9" width="2.24" height="3.15" fill="#472a78"/>
<rect x="510.54" y="87.9" width="2.24" height="3.15" fill="#219b89"/>
<rect x="512.53" y="87.9" width="2.24" height="3.15" fill="#70ce57"/>
<rect x="514.52" y="87.9" width="2.24" height="3.15" fill="#433981"/>
<rect x="516.51" y="87.9" width="2.24" height="3.15" fill="#228f8c"/>
<rect x="518.5" y="87.9" width="2.24" height="3.15" fill="#6fcd57"/>
<rect x="520.5" y="87.9" width="2.24" height="3.15" fill="#3f4788"/>
<rect x="522.49" y="87.9" width="2.24" height="3.15" fill="#26848d"/>
<rect x="524.48" y="87.9" width="2.24" height="3.15" fill="#6bcc5a"/>
<rect x="526.47" y="87.9" width="2.24" height="3.15" fill="#3a548b"/>
<rect x="528.46" y="87.9" width="2.24" height="3.15" fill="#297b8e"/>
<rect x="530.46" y="87.9" width="2.24" height="3.15" fill="#64ca5e"/>
<rect x="532.45" y="87.9" width="2.24" height="3.15" fill="#35608d"/>
<rect x="534.44" y="87.9" width="2.24" height="3.15" fill="#2c748e"/>
<rect x="536.43" y="87.9" width="2.24" height="3.15" fill="#5bc763"/>
<rect x="538.42" y="87.9" width="2.24" height="3.15" fill="#306a8d"/>
<rect x="540.42" y="87.9" width="2.24" height="3.15" fill="#2e6f8e"/>
<rect x="542.41" y="87.9" width="2.24" height="3.15" fill="#50c369"/>
<rect x="494.6" y="90.8" width="2.24" height="3.15" fill="#71ce56"/>
<rect x="496.59" y="90.8" width="2.24" height="3.15" fill="#47196b"/>
<rect x="498.58" y="90.8" width="2.24" height="3.15" fill="#25878d"/>
<rect x="500.58" y="90.8" width="2.24" height="3.15" fill="#c5e026"/>
<rect x="502.57" y="90.8" width="2.24" height="3.15" fill="#365d8d"/>
<rect x="504.56" y="90.8" width="2.24" height="3.15" fill="#414386"/>
<rect x="506.55" y="90.8" width="2.24" height="3.15" fill="#8fd544"/>
<rect x="508.54" y="90.8" width="2.24" height="3.15" fill="#22a286"/>
<rect x="510.54" y="90.8" width="2.24" height="3.15" fill="#472877"/>
<rect x="512.53" y="90.8" width="2.24" height="3.15" fill="#23a983"/>
<rect x="514.52" y="90.8" width="2.24" height="3.15" fill="#6bcc59"/>
<rect x="516.51" y="90.8" width="2.24" height="3.15" fill="#3f4888"/>
<rect x="518.5" y="90.8" width="2.24" height="3.15" fill="#2f6d8e"/>
<rect x="520.5" y="90.8" width="2.24" height="3.15" fill="#7ed24e"/>
<rect x="522.49" y="90.8" width="2.24" height="3.15" fill="#277f8d"/>
<rect x="524.48" y="90.8" width="2.24" height="3.15" fill="#404688"/>
<rect x="526.47" y="90.8" width="2.24" height="3.15" fill="#3fbb73"/>
<rect x="528.46" y="90.8" width="2.24" height="3.15" fill="#2eb07d"/>
<rect x="530.46" y="90.8" width="2.24" height="3.15" fill="#404788"/>
<rect x="532.45" y="90.8" width="2.24" height="3.15" fill="#228e8c"/>
<rect x="534.44" y="90.8" width="2.24" height="3.15" fill="#58c665"/>
<rect x="536.43" y="90.8" width="2.24" height="3.15" fill="#30698d"/>
<rect x="538.42" y="90.8" width="2.24" height="3.15" fill="#33648d"/>
<rect x="540.42" y="90.8" width="2.24" height="3.15" fill="#47c06e"/>
<rect x="542.41" y="90.8" width="2.24" height="3.15" fill="#21958b"/>
<rect x="494.6" y="93.7" width="2.24" height="3.15" fill="#86d449"/>
<rect x="496.59" y="93.7" width="2.24" height="3.15" fill="#45317d"/>
<rect x="498.58" y="93.7" width="2.24" height="3.15" fill="#3a548b"/>
<rect x="500.58" y="93.7" width="2.24" height="3.15" fill="#a9db33"/>
<rect x="502.57" y="93.7" width="2.24" height="3.15" fill="#33b37a"/>
<rect x="504.56" y="93.7" width="2.24" height="3.15" fill="#482676"/>
<rect x="506.55" y="93.7" width="2.24" height="3.15" fill="#2a798e"/>
<rect x="508.54" y="93.7" width="2.24" height="3.15" fill="#a4da36"/>
<rect x="510.54" y="93.7" width="2.24" height="3.15" fill="#21928c"/>
<rect x="512.53" y="93.7" width="2.24" height="3.15" fill="#462d7a"/>
<rect x="514.52" y="93.7" width="2.24" height="3.15" fill="#21988a"/>
<rect x="516.51" y="93.7" width="2.24" height="3.15" fill="#84d34a"/>
<rect x="518.5" y="93.7" width="2.24" height="3.15" fill="#2c748e"/>
<rect x="520.5" y="93.7" width="2.24" height="3.15" fill="#424085"/>
<rect x="522.49" y="93.7" width="2.24" height="3.15" fill="#2bae7f"/>
<rect x="524.48" y="93.7" width="2.24" height="3.15" fill="#59c664"/>
<rect x="526.47" y="93.7" width="2.24" height="3.15" fill="#34608d"/>
<rect x="528.46" y="93.7" width="2.24" height="3.15" fill="#38588b"/>
<rect x="530.46" y="93.7" width="2.24" height="3.15" fill="#40bc72"/>
<rect x="532.45" y="93.7" width="2.24" height="3.15" fill="#32b37a"/>
<rect x="534.44" y="93.7" width="2.24" height="3.15" fill="#39558b"/>
<rect x="536.43" y="93.7" width="2.24" height="3.15" fill="#2e6f8e"/>
<rect x="538.42" y="93.7" width="2.24" height="3.15" fill="#4ac16c"/>
<rect x="540.42" y="93.7" width="2.24" height="3.15" fill="#229e88"/>
<rect x="542.41" y="93.7" width="2.24" height="3.15" fill="#3a538a"/>
<rect x="494.6" y="96.6" width="2.24" height="3.15" fill="#9bd83c"/>
<rect x="496.59" y="96.6" width="2.24" height="3.15" fill="#3c508a"/>
<rect x="498.58" y="96.6" width="2.24" height="3.15" fill="#462c7a"/>
<rect x="500.58" y="96.6" width="2.24" height="3.15" fill="#37b677"/>
<rect x="502.57" y="96.6" width="2.24" height="3.15" fill="#b0dc2e"/>
<rect x="504.56" y="96.6" width="2.24" height="3.15" fill="#297b8e"/>
<rect x="506.55" y="96.6" width="2.24" height="3.15" fill="#482676"/>
<rect x="508.54" y="96.6" width="2.24" height="3.15" fill="#238c8c"/>
<rect x="510.54" y="96.6" width="2.24" height="3.15" fill="#99d73d"/>
<rect x="512.53" y="96.6" width="2.24" height="3.15" fill="#22a087"/>
<rect x="514.52" y="96.6" width="2.24" height="3.15" fill="#443880"/>
<rect x="516.51" y="96.6" width="2.24" height="3.15" fill="#30698d"/>
<rect x="518.5" y="96.6" width="2.24" height="3.15" fill="#64ca5d"/>
<rect x="520.5" y="96.6" width="2.24" height="3.15" fill="#3cba75"/>
<rect x="522.49" y="96.6" width="2.24" height="3.15" fill="#39558b"/>
<rect x="524.48" y="96.6" width="2.24" height="3.15" fill="#3a538a"/>
<rect x="526.47" y="96.6" width="2.24" height="3.15" fill="#31b27b"/>
<rect x="528.46" y="96.6" width="2.24" height="3.15" fill="#55c566"/>
<rect x="530.46" y="96.6" width="2.24" height="3.15" fill="#2c748e"/>
<rect x="532.45" y="96.6" width="2.24" height="3.15" fill="#3e4c89"/>
<rect x="534.44" y="96.6" width="2.24" height="3.15" fill="#21978a"/>
<rect x="536.43" y="96.6" width="2.24" height="3.15" fill="#56c566"/>
<rect x="538.42" y="96.6" width="2.24" height="3.15" fill="#21908c"/>
<rect x="540.42" y="96.6" width="2.24" height="3.15" fill="#3b528a"/>
<rect x="542.41" y="96.6" width="2.24" height="3.15" fill="#287e8e"/>
<rect x="494.6" y="99.5" width="2.24" height="3.15" fill="#addc30"/>
<rect x="496.59" y="99.5" width="2.24" height="3.15" fill="#2d708e"/>
<rect x="498.58" y="99.5" width="2.24" height="3.15" fill="#471f70"/>
<rect x="500.58" y="99.5" width="2.24" height="3.15" fill="#2b778e"/>
<rect x="502.57" y="99.5" width="2.24" height="3.15" fill="#8fd544"/>
<rect x="504.56" y="99.5" width="2.24" height="3.15" fill="#72ce56"/>
<rect x="506.55" y="99.5" width="2.24" height="3.15" fill="#30698d"/>
<rect x="508.54" y="99.5" width="2.24" height="3.15" fill="#462d7a"/>
<rect x="510.54" y="99.5" width="2.24" height="3.15" fill="#287e8e"/>
<rect x="512.53" y="99.5" width="2.24" height="3.15" fill="#75cf54"/>
<rect x="514.52" y="99.5" width="2.24" height="3.15" fill="#50c369"/>
<rect x="516.51" y="99.5" width="2.24" height="3.15" fill="#31678d"/>
<rect x="518.5" y="99.5" width="2.24" height="3.15" fill="#433c83"/>
<rect x="520.5" y="99.5" width="2.24" height="3.15" fill="#25858d"/>
<rect x="522.49" y="99.5" width="2.24" height="3.15" fill="#63c95e"/>
<rect x="524.48" y="99.5" width="2.24" height="3.15" fill="#3bb976"/>
<rect x="526.47" y="99.5" width="2.24" height="3.15" fill="#31688d"/>
<rect x="528.46" y="99.5" width="2.24" height="3.15" fill="#3f4988"/>
<rect x="530.46" y="99.5" width="2.24" height="3.15" fill="#238a8d"/>
<rect x="532.45" y="99.5" width="2.24" height="3.15" fill="#53c468"/>
<rect x="534.44" y="99.5" width="2.24" height="3.15" fill="#2daf7e"/>
<rect x="536.43" y="99.5" width="2.24" height="3.15" fill="#31698d"/>
<rect x="538.42" y="99.5" width="2.24" height="3.15" fill="#3a548b"/>
<rect x="540.42" y="99.5" width="2.24" height="3.15" fill="#228f8c"/>
<rect x="542.41" y="99.5" width="2.24" height="3.15" fill="#44bf70"/>
<rect x="494.6" y="102.4" width="2.24" height="3.15" fill="#bcdf27"/>
<rect x="496.59" y="102.4" width="2.24" height="3.15" fill="#21918c"/>
<rect x="498.58" y="102.4" width="2.24" height="3.15" fill="#45347e"/>
<rect x="500.58" y="102.4" width="2.24" height="3.15" fill="#414286"/>
<rect x="502.57" y="102.4" width="2.24" height="3.15" fill="#229f87"/>
<rect x="504.56" y="102.4" width="2.24" height="3.15" fill="#98d73e"/>
<rect x="506.55" y="102.4" width="2.24" height="3.15" fill="#61c95f"/>
<rect x="508.54" y="102.4" width="2.24" height="3.15" fill="#2a788e"/>
<rect x="510.54" y="102.4" width="2.24" height="3.15" fill="#443780"/>
<rect x="512.53" y="102.4" width="2.24" height="3.15" fill="#38588b"/>
<rect x="514.52" y="102.4" width="2.24" height="3.15" fill="#23a983"/>
<rect x="516.51" y="102.4" width="2.24" height="3.15" fill="#77d053"/>
<rect x="518.5" y="102.4" width="2.24" height="3.15" fill="#35b579"/>
<rect x="520.5" y="102.4" width="2.24" height="3.15" fill="#306b8d"/>
<rect x="522.49" y="102.4" width="2.24" height="3.15" fill="#414487"/>
<rect x="524.48" y="102.4" width="2.24" height="3.15" fill="#2f6c8e"/>
<rect x="526.47" y="102.4" width="2.24" height="3.15" fill="#2db07d"/>
<rect x="528.46" y="102.4" width="2.24" height="3.15" fill="#5cc762"/>
<rect x="530.46" y="102.4" width="2.24" height="3.15" fill="#22a386"/>
<rect x="532.45" y="102.4" width="2.24" height="3.15" fill="#32658d"/>
<rect x="534.44" y="102.4" width="2.24" height="3.15" fill="#3b518a"/>
<rect x="536.43" y="102.4" width="2.24" height="3.15" fill="#287d8e"/>
<rect x="538.42" y="102.4" width="2.24" height="3.15" fill="#32b37b"/>
<rect x="540.42" y="102.4" width="2.24" height="3.15" fill="#42bd71"/>
<rect x="542.41" y="102.4" width="2.24" height="3.15" fill="#21968a"/>
<rect x="494.6" y="105.3" width="2.24" height="3.15" fill="#c4e026"/>
<rect x="496.59" y="105.3" width="2.24" height="3.15" fill="#2aad7f"/>
<rect x="498.58" y="105.3" width="2.24" height="3.15" fill="#365d8d"/>
<rect x="500.58" y="105.3" width="2.24" height="3.15" fill="#44357f"/>
<rect x="502.57" y="105.3" width="2.24" height="3.15" fill="#365d8c"/>
<rect x="504.56" y="105.3" width="2.24" height="3.15" fill="#22a485"/>
<rect x="506.55" y="105.3" width="2.24" height="3.15" fill="#79d151"/>
<rect x="508.54" y="105.3" width="2.24" height="3.15" fill="#71ce56"/>
<rect x="510.54" y="105.3" width="2.24" height="3.15" fill="#229e87"/>
<rect x="512.53" y="105.3" width="2.24" height="3.15" fill="#355e8d"/>
<rect x="514.52" y="105.3" width="2.24" height="3.15" fill="#424186"/>
<rect x="516.51" y="105.3" width="2.24" height="3.15" fill="#34628d"/>
<rect x="518.5" y="105.3" width="2.24" height="3.15" fill="#229d88"/>
<rect x="520.5" y="105.3" width="2.24" height="3.15" fill="#56c566"/>
<rect x="522.49" y="105.3" width="2.24" height="3.15" fill="#4fc36a"/>
<rect x="524.48" y="105.3" width="2.24" height="3.15" fill="#219989"/>
<rect x="526.47" y="105.3" width="2.24" height="3.15" fill="#32658d"/>
<rect x="528.46" y="105.3" width="2.24" height="3.15" fill="#3c4f89"/>
<rect x="530.46" y="105.3" width="2.24" height="3.15" fill="#306a8d"/>
<rect x="532.45" y="105.3" width="2.24" height="3.15" fill="#219b89"/>
<rect x="534.44" y="105.3" width="2.24" height="3.15" fill="#40bc73"/>
<rect x="536.43" y="105.3" width="2.24" height="3.15" fill="#3cb975"/>
<rect x="538.42" y="105.3" width="2.24" height="3.15" fill="#21968a"/>
<rect x="540.42" y="105.3" width="2.24" height="3.15" fill="#2f6c8e"/>
<rect x="542.41" y="105.3" width="2.24" height="3.15" fill="#375b8c"/>
<rect x="494.6" y="108.2" width="2.24" height="3.15" fill="#c6e026"/>
<rect x="496.59" y="108.2" width="2.24" height="3.15" fill="#51c369"/>
<rect x="498.58" y="108.2" width="2.24" height="3.15" fill="#248a8d"/>
<rect x="500.58" y="108.2" width="2.24" height="3.15" fill="#38598c"/>
<rect x="502.57" y="108.2" width="2.24" height="3.15" fill="#3f4988"/>
<rect x="504.56" y="108.2" width="2.24" height="3.15" fill="#33638d"/>
<rect x="506.55" y="108.2" width="2.24" height="3.15" fill="#21928c"/>
<rect x="508.54" y="108.2" width="2.24" height="3.15" fill="#3fbc73"/>
<rect x="510.54" y="108.2" width="2.24" height="3.15" fill="#68cb5b"/>
<rect x="512.53" y="108.2" width="2.24" height="3.15" fill="#4ac16d"/>
<rect x="514.52" y="108.2" width="2.24" height="3.15" fill="#229d88"/>
<rect x="516.51" y="108.2" width="2.24" height="3.15" fill="#2d718e"/>
<rect x="518.5" y="108.2" width="2.24" height="3.15" fill="#3a558b"/>
<rect x="520.5" y="108.2" width="2.24" height="3.15" fill="#39568b"/>
<rect x="522.49" y="108.2" width="2.24" height="3.15" fill="#2c738e"/>
<rect x="524.48" y="108.2" width="2.24" height="3.15" fill="#219a89"/>
<rect x="526.47" y="108.2" width="2.24" height="3.15" fill="#37b677"/>
<rect x="528.46" y="108.2" width="2.24" height="3.15" fill="#42bd71"/>
<rect x="530.46" y="108.2" width="2.24" height="3.15" fill="#29ad80"/>
<rect x="532.45" y="108.2" width="2.24" height="3.15" fill="#228d8c"/>
<rect x="534.44" y="108.2" width="2.24" height="3.15" fill="#2f6d8e"/>
<rect x="536.43" y="108.2" width="2.24" height="3.15" fill="#355e8d"/>
<rect x="538.42" y="108.2" width="2.24" height="3.15" fill="#31678d"/>
<rect x="540.42" y="108.2" width="2.24" height="3.15" fill="#26828d"/>
<rect x="542.41" y="108.2" width="2.24" height="3.15" fill="#22a087"/>
<rect x="494.6" y="111.1" width="2.24" height="3.15" fill="#bedf26"/>
<rect x="496.59" y="111.1" width="2.24" height="3.15" fill="#6fcd57"/>
<rect x="498.58" y="111.1" width="2.24" height="3.15" fill="#2aae7f"/>
<rect x="500.58" y="111.1" width="2.24" height="3.15" fill="#238a8d"/>
<rect x="502.57" y="111.1" width="2.24" height="3.15" fill="#2e6f8e"/>
<rect x="504.56" y="111.1" width="2.24" height="3.15" fill="#33638d"/>
<rect x="506.55" y="111.1" width="2.24" height="3.15" fill="#306a8d"/>
<rect x="508.54" y="111.1" width="2.24" height="3.15" fill="#287e8e"/>
<rect x="510.54" y="111.1" width="2.24" height="3.15" fill="#21988a"/>
<rect x="512.53" y="111.1" width="2.24" height="3.15" fill="#29ad80"/>
<rect x="514.52" y="111.1" width="2.24" height="3.15" fill="#3bb976"/>
<rect x="516.51" y="111.1" width="2.24" height="3.15" fill="#39b777"/>
<rect x="518.5" y="111.1" width="2.24" height="3.15" fill="#25aa82"/>
<rect x="520.5" y="111.1" width="2.24" height="3.15" fill="#21958a"/>
<rect x="522.49" y="111.1" width="2.24" height="3.15" fill="#287e8e"/>
<rect x="524.48" y="111.1" width="2.24" height="3.15" fill="#2f6d8e"/>
<rect x="526.47" y="111.1" width="2.24" height="3.15" fill="#32668d"/>
<rect x="528.46" y="111.1" width="2.24" height="3.15" fill="#2f6d8e"/>
<rect x="530.46" y="111.1" width="2.24" height="3.15" fill="#287c8e"/>
<rect x="532.45" y="111.1" width="2.24" height="3.15" fill="#21908c"/>
<rect x="534.44" y="111.1" width="2.24" height="3.15" fill="#22a186"/>
<rect x="536.43" y="111.1" width="2.24" height="3.15" fill="#26ab82"/>
<rect x="538.42" y="111.1" width="2.24" height="3.15" fill="#26ab82"/>
<rect x="540.42" y="111.1" width="2.24" height="3.15" fill="#22a286"/>
<rect x="542.41" y="111.1" width="2.24" height="3.15" fill="#21938b"/>
<rect x="494.6" y="114" width="2.24" height="3.15" fill="#aadb32"/>
<rect x="496.59" y="114" width="2.24" height="3.15" fill="#70ce57"/>
<rect x="498.58" y="114" width="2.24" height="3.15" fill="#42be71"/>
<rect x="500.58" y="114" width="2.24" height="3.15" fill="#27ab81"/>
<rect x="502.57" y="114" width="2.24" height="3.15" fill="#219b88"/>
<rect x="504.56" y="114" width="2.24" height="3.15" fill="#228f8c"/>
<rect x="506.55" y="114" width="2.24" height="3.15" fill="#24878d"/>
<rect x="508.54" y="114" width="2.24" height="3.15" fill="#26848d"/>
<rect x="510.54" y="114" width="2.24" height="3.15" fill="#25868d"/>
<rect x="512.53" y="114" width="2.24" height="3.15" fill="#238b8c"/>
<rect x="514.52" y="114" width="2.24" height="3.15" fill="#21928c"/>
<rect x="516.51" y="114" width="2.24" height="3.15" fill="#21988a"/>
<rect x="518.5" y="114" width="2.24" height="3.15" fill="#229d88"/>
<rect x="520.5" y="114" width="2.24" height="3.15" fill="#229f87"/>
<rect x="522.49" y="114" width="2.24" height="3.15" fill="#229e88"/>
<rect x="524.48" y="114" width="2.24" height="3.15" fill="#219a89"/>
<rect x="526.47" y="114" width="2.24" height="3.15" fill="#21948b"/>
<rect x="528.46" y="114" width="2.24" height="3.15" fill="#228d8c"/>
<rect x="530.46" y="114" width="2.24" height="3.15" fill="#25878d"/>
<rect x="532.45" y="114" width="2.24" height="3.15" fill="#26828d"/>
<rect x="534.44" y="114" width="2.24" height="3.15" fill="#27808d"/>
<rect x="536.43" y="114" width="2.24" height="3.15" fill="#27808d"/>
<rect x="538.42" y="114" width="2.24" height="3.15" fill="#26838d"/>
<rect x="540.42" y="114" width="2.24" height="3.15" fill="#24888d"/>
<rect x="542.41" y="114" width="2.24" height="3.15" fill="#228d8c"/>
<rect x="494.6" y="73.4" width="49.8" height="43.5" fill="none" stroke="#111" stroke-width="0.9"/>
<line x1="490.5" y1="75" x2="494.6" y2="75" stroke="#000" stroke-width="0.8"/>
<text x="486.9" y="77.8" font-size="7.6" text-anchor="end" fill="#000">15</text>
<line x1="490.5" y1="89.5" x2="494.6" y2="89.5" stroke="#000" stroke-width="0.8"/>
<text x="486.9" y="92.3" font-size="7.6" text-anchor="end" fill="#000">10</text>
<line x1="490.5" y1="104.1" x2="494.6" y2="104.1" stroke="#000" stroke-width="0.8"/>
<text x="486.9" y="106.9" font-size="7.6" text-anchor="end" fill="#000">5</text>
<line x1="494.6" y1="116.9" x2="494.6" y2="120" stroke="#000" stroke-width="0.8"/>
<text x="494.6" y="130" font-size="7.6" text-anchor="middle" fill="#000">0</text>
<line x1="519.4" y1="116.9" x2="519.4" y2="120" stroke="#000" stroke-width="0.8"/>
<text x="519.4" y="130" font-size="7.6" text-anchor="middle" fill="#000">5</text>
<line x1="544.4" y1="116.9" x2="544.4" y2="120" stroke="#000" stroke-width="0.8"/>
<text x="544.4" y="130" font-size="7.6" text-anchor="middle" fill="#000">10</text>
<text x="519.9" y="141.8" font-size="7.6" text-anchor="middle"><tspan font-style="italic">t</tspan><tspan font-size="5.2" dy="1.8">P5, mw</tspan><tspan dy="-1.8"> (μs)</tspan></text>
<text transform="translate(471.4 95.2) rotate(-90)" font-size="7.6" text-anchor="middle"><tspan font-style="italic">A</tspan><tspan font-size="5.2" dy="1.8">P5, mw</tspan><tspan dy="-1.8"> (mV)</tspan></text>
<line x1="548.3" y1="100.6" x2="567.6" y2="100.6" stroke="#222" stroke-width="1.3"/>
<path d="M560.1,96.2 L567.6,100.6 L560.1,105" stroke="#222" stroke-width="1.3" fill="none"/>
<text x="551.6" y="98.6" font-size="8.2" fill="#000">fft</text>
<text x="631.4" y="35.3" font-size="7.6" text-anchor="middle" fill="#000">fft amplitude</text>
<text x="623.1" y="45.1" font-size="7.6" text-anchor="middle" fill="#000">0.05</text>
<line x1="623.1" y1="50.8" x2="623.1" y2="54.3" stroke="#000" stroke-width="0.8"/>
<text x="639.6" y="45.1" font-size="7.6" text-anchor="middle" fill="#000">0.10</text>
<line x1="639.6" y1="50.8" x2="639.6" y2="54.3" stroke="#000" stroke-width="0.8"/>
<text x="656.2" y="45.1" font-size="7.6" text-anchor="middle" fill="#000">0.15</text>
<line x1="656.2" y1="50.8" x2="656.2" y2="54.3" stroke="#000" stroke-width="0.8"/>
<rect x="606.3" y="54.3" width="49.9" height="4.0" fill="url(#gvir)" stroke="#000" stroke-width="0.7"/>
<rect x="606.4" y="75.0" width="50" height="42.3" fill="#450b5c"/>
<rect x="606.4" y="75" width="2.25" height="2.01" fill="#471769"/>
<rect x="606.4" y="76.76" width="2.25" height="2.01" fill="#461264"/>
<rect x="606.4" y="78.53" width="2.25" height="2.01" fill="#471869"/>
<rect x="606.4" y="80.29" width="2.25" height="2.01" fill="#471769"/>
<rect x="606.4" y="82.05" width="2.25" height="2.01" fill="#471769"/>
<rect x="606.4" y="83.81" width="2.25" height="2.01" fill="#460f61"/>
<rect x="606.4" y="85.58" width="2.25" height="2.01" fill="#440154"/>
<rect x="606.4" y="87.34" width="2.25" height="2.01" fill="#461365"/>
<rect x="606.4" y="89.1" width="2.25" height="2.01" fill="#440558"/>
<rect x="606.4" y="90.86" width="2.25" height="2.01" fill="#45085b"/>
<rect x="606.4" y="92.62" width="2.25" height="2.01" fill="#461163"/>
<rect x="606.4" y="94.39" width="2.25" height="2.01" fill="#450e60"/>
<rect x="606.4" y="96.15" width="2.25" height="2.01" fill="#450b5e"/>
<rect x="606.4" y="97.91" width="2.25" height="2.01" fill="#47186a"/>
<rect x="606.4" y="99.67" width="2.25" height="2.01" fill="#461062"/>
<rect x="606.4" y="101.44" width="2.25" height="2.01" fill="#45095c"/>
<rect x="606.4" y="103.2" width="2.25" height="2.01" fill="#45075a"/>
<rect x="606.4" y="104.96" width="2.25" height="2.01" fill="#461668"/>
<rect x="606.4" y="106.72" width="2.25" height="2.01" fill="#450d5f"/>
<rect x="606.4" y="108.49" width="2.25" height="2.01" fill="#461466"/>
<rect x="606.4" y="110.25" width="2.25" height="2.01" fill="#450a5c"/>
<rect x="606.4" y="112.01" width="2.25" height="2.01" fill="#450659"/>
<rect x="606.4" y="113.78" width="2.25" height="2.01" fill="#450e60"/>
<rect x="606.4" y="115.54" width="2.25" height="2.01" fill="#3f4988"/>
<rect x="608.4" y="75" width="2.25" height="2.01" fill="#440558"/>
<rect x="608.4" y="76.76" width="2.25" height="2.01" fill="#461466"/>
<rect x="608.4" y="78.53" width="2.25" height="2.01" fill="#471869"/>
<rect x="608.4" y="80.29" width="2.25" height="2.01" fill="#461567"/>
<rect x="608.4" y="82.05" width="2.25" height="2.01" fill="#461567"/>
<rect x="608.4" y="83.81" width="2.25" height="2.01" fill="#440154"/>
<rect x="608.4" y="85.58" width="2.25" height="2.01" fill="#461063"/>
<rect x="608.4" y="87.34" width="2.25" height="2.01" fill="#461668"/>
<rect x="608.4" y="89.1" width="2.25" height="2.01" fill="#440255"/>
<rect x="608.4" y="90.86" width="2.25" height="2.01" fill="#45085a"/>
<rect x="608.4" y="92.62" width="2.25" height="2.01" fill="#45085a"/>
<rect x="608.4" y="94.39" width="2.25" height="2.01" fill="#450e60"/>
<rect x="608.4" y="96.15" width="2.25" height="2.01" fill="#450b5e"/>
<rect x="608.4" y="97.91" width="2.25" height="2.01" fill="#450d5f"/>
<rect x="608.4" y="99.67" width="2.25" height="2.01" fill="#461466"/>
<rect x="608.4" y="101.44" width="2.25" height="2.01" fill="#440154"/>
<rect x="608.4" y="103.2" width="2.25" height="2.01" fill="#440255"/>
<rect x="608.4" y="104.96" width="2.25" height="2.01" fill="#440457"/>
<rect x="608.4" y="106.72" width="2.25" height="2.01" fill="#440457"/>
<rect x="608.4" y="108.49" width="2.25" height="2.01" fill="#440356"/>
<rect x="608.4" y="110.25" width="2.25" height="2.01" fill="#47196b"/>
<rect x="608.4" y="112.01" width="2.25" height="2.01" fill="#461668"/>
<rect x="608.4" y="113.78" width="2.25" height="2.01" fill="#3f4988"/>
<rect x="608.4" y="115.54" width="2.25" height="2.01" fill="#3f4988"/>
<rect x="610.4" y="75" width="2.25" height="2.01" fill="#45095b"/>
<rect x="610.4" y="76.76" width="2.25" height="2.01" fill="#45095b"/>
<rect x="610.4" y="78.53" width="2.25" height="2.01" fill="#450a5c"/>
<rect x="610.4" y="80.29" width="2.25" height="2.01" fill="#461163"/>
<rect x="610.4" y="82.05" width="2.25" height="2.01" fill="#460f62"/>
<rect x="610.4" y="83.81" width="2.25" height="2.01" fill="#450a5c"/>
<rect x="610.4" y="85.58" width="2.25" height="2.01" fill="#450658"/>
<rect x="610.4" y="87.34" width="2.25" height="2.01" fill="#45095c"/>
<rect x="610.4" y="89.1" width="2.25" height="2.01" fill="#440457"/>
<rect x="610.4" y="90.86" width="2.25" height="2.01" fill="#460f61"/>
<rect x="610.4" y="92.62" width="2.25" height="2.01" fill="#461365"/>
<rect x="610.4" y="94.39" width="2.25" height="2.01" fill="#450a5d"/>
<rect x="610.4" y="96.15" width="2.25" height="2.01" fill="#440356"/>
<rect x="610.4" y="97.91" width="2.25" height="2.01" fill="#440558"/>
<rect x="610.4" y="99.67" width="2.25" height="2.01" fill="#450a5d"/>
<rect x="610.4" y="101.44" width="2.25" height="2.01" fill="#461062"/>
<rect x="610.4" y="103.2" width="2.25" height="2.01" fill="#461466"/>
<rect x="610.4" y="104.96" width="2.25" height="2.01" fill="#450a5d"/>
<rect x="610.4" y="106.72" width="2.25" height="2.01" fill="#461567"/>
<rect x="610.4" y="108.49" width="2.25" height="2.01" fill="#461062"/>
<rect x="610.4" y="110.25" width="2.25" height="2.01" fill="#450c5e"/>
<rect x="610.4" y="112.01" width="2.25" height="2.01" fill="#450a5d"/>
<rect x="610.4" y="113.78" width="2.25" height="2.01" fill="#3f4988"/>
<rect x="610.4" y="115.54" width="2.25" height="2.01" fill="#3f4988"/>
<rect x="612.4" y="75" width="2.25" height="2.01" fill="#450b5e"/>
<rect x="612.4" y="76.76" width="2.25" height="2.01" fill="#461264"/>
<rect x="612.4" y="78.53" width="2.25" height="2.01" fill="#450c5f"/>
<rect x="612.4" y="80.29" width="2.25" height="2.01" fill="#45075a"/>
<rect x="612.4" y="82.05" width="2.25" height="2.01" fill="#460e60"/>
<rect x="612.4" y="83.81" width="2.25" height="2.01" fill="#461264"/>
<rect x="612.4" y="85.58" width="2.25" height="2.01" fill="#440356"/>
<rect x="612.4" y="87.34" width="2.25" height="2.01" fill="#450b5e"/>
<rect x="612.4" y="89.1" width="2.25" height="2.01" fill="#450b5e"/>
<rect x="612.4" y="90.86" width="2.25" height="2.01" fill="#461768"/>
<rect x="612.4" y="92.62" width="2.25" height="2.01" fill="#47186a"/>
<rect x="612.4" y="94.39" width="2.25" height="2.01" fill="#450a5d"/>
<rect x="612.4" y="96.15" width="2.25" height="2.01" fill="#471769"/>
<rect x="612.4" y="97.91" width="2.25" height="2.01" fill="#461466"/>
<rect x="612.4" y="99.67" width="2.25" height="2.01" fill="#45075a"/>
<rect x="612.4" y="101.44" width="2.25" height="2.01" fill="#450c5f"/>
<rect x="612.4" y="103.2" width="2.25" height="2.01" fill="#440457"/>
<rect x="612.4" y="104.96" width="2.25" height="2.01" fill="#461567"/>
<rect x="612.4" y="106.72" width="2.25" height="2.01" fill="#461163"/>
<rect x="612.4" y="108.49" width="2.25" height="2.01" fill="#461768"/>
<rect x="612.4" y="110.25" width="2.25" height="2.01" fill="#461466"/>
<rect x="612.4" y="112.01" width="2.25" height="2.01" fill="#461163"/>
<rect x="612.4" y="113.78" width="2.25" height="2.01" fill="#3f4988"/>
<rect x="612.4" y="115.54" width="2.25" height="2.01" fill="#3f4988"/>
<rect x="614.4" y="75" width="2.25" height="2.01" fill="#440456"/>
<rect x="614.4" y="76.76" width="2.25" height="2.01" fill="#460f62"/>
<rect x="614.4" y="78.53" width="2.25" height="2.01" fill="#440154"/>
<rect x="614.4" y="80.29" width="2.25" height="2.01" fill="#440557"/>
<rect x="614.4" y="82.05" width="2.25" height="2.01" fill="#461466"/>
<rect x="614.4" y="83.81" width="2.25" height="2.01" fill="#440255"/>
<rect x="614.4" y="85.58" width="2.25" height="2.01" fill="#440356"/>
<rect x="614.4" y="87.34" width="2.25" height="2.01" fill="#440356"/>
<rect x="614.4" y="89.1" width="2.25" height="2.01" fill="#461768"/>
<rect x="614.4" y="90.86" width="2.25" height="2.01" fill="#450558"/>
<rect x="614.4" y="92.62" width="2.25" height="2.01" fill="#440255"/>
<rect x="614.4" y="94.39" width="2.25" height="2.01" fill="#461667"/>
<rect x="614.4" y="96.15" width="2.25" height="2.01" fill="#440457"/>
<rect x="614.4" y="97.91" width="2.25" height="2.01" fill="#461667"/>
<rect x="614.4" y="99.67" width="2.25" height="2.01" fill="#461264"/>
<rect x="614.4" y="101.44" width="2.25" height="2.01" fill="#461567"/>
<rect x="614.4" y="103.2" width="2.25" height="2.01" fill="#47186a"/>
<rect x="614.4" y="104.96" width="2.25" height="2.01" fill="#460f61"/>
<rect x="614.4" y="106.72" width="2.25" height="2.01" fill="#461566"/>
<rect x="614.4" y="108.49" width="2.25" height="2.01" fill="#440255"/>
<rect x="614.4" y="110.25" width="2.25" height="2.01" fill="#461466"/>
<rect x="614.4" y="112.01" width="2.25" height="2.01" fill="#450e60"/>
<rect x="614.4" y="113.78" width="2.25" height="2.01" fill="#3f4988"/>
<rect x="614.4" y="115.54" width="2.25" height="2.01" fill="#3f4988"/>
<rect x="616.4" y="75" width="2.25" height="2.01" fill="#461365"/>
<rect x="616.4" y="76.76" width="2.25" height="2.01" fill="#47186a"/>
<rect x="616.4" y="78.53" width="2.25" height="2.01" fill="#440255"/>
<rect x="616.4" y="80.29" width="2.25" height="2.01" fill="#45095b"/>
<rect x="616.4" y="82.05" width="2.25" height="2.01" fill="#460f61"/>
<rect x="616.4" y="83.81" width="2.25" height="2.01" fill="#461567"/>
<rect x="616.4" y="85.58" width="2.25" height="2.01" fill="#45075a"/>
<rect x="616.4" y="87.34" width="2.25" height="2.01" fill="#450558"/>
<rect x="616.4" y="89.1" width="2.25" height="2.01" fill="#45075a"/>
<rect x="616.4" y="90.86" width="2.25" height="2.01" fill="#461062"/>
<rect x="616.4" y="92.62" width="2.25" height="2.01" fill="#461365"/>
<rect x="616.4" y="94.39" width="2.25" height="2.01" fill="#450b5d"/>
<rect x="616.4" y="96.15" width="2.25" height="2.01" fill="#450a5c"/>
<rect x="616.4" y="97.91" width="2.25" height="2.01" fill="#450b5d"/>
<rect x="616.4" y="99.67" width="2.25" height="2.01" fill="#450a5c"/>
<rect x="616.4" y="101.44" width="2.25" height="2.01" fill="#450b5e"/>
<rect x="616.4" y="103.2" width="2.25" height="2.01" fill="#440356"/>
<rect x="616.4" y="104.96" width="2.25" height="2.01" fill="#450d60"/>
<rect x="616.4" y="106.72" width="2.25" height="2.01" fill="#47196a"/>
<rect x="616.4" y="108.49" width="2.25" height="2.01" fill="#450b5e"/>
<rect x="616.4" y="110.25" width="2.25" height="2.01" fill="#461365"/>
<rect x="616.4" y="112.01" width="2.25" height="2.01" fill="#3f4988"/>
<rect x="616.4" y="113.78" width="2.25" height="2.01" fill="#3f4988"/>
<rect x="616.4" y="115.54" width="2.25" height="2.01" fill="#3f4988"/>
<rect x="618.4" y="75" width="2.25" height="2.01" fill="#461264"/>
<rect x="618.4" y="76.76" width="2.25" height="2.01" fill="#450e60"/>
<rect x="618.4" y="78.53" width="2.25" height="2.01" fill="#450d5f"/>
<rect x="618.4" y="80.29" width="2.25" height="2.01" fill="#461163"/>
<rect x="618.4" y="82.05" width="2.25" height="2.01" fill="#471769"/>
<rect x="618.4" y="83.81" width="2.25" height="2.01" fill="#440557"/>
<rect x="618.4" y="85.58" width="2.25" height="2.01" fill="#440356"/>
<rect x="618.4" y="87.34" width="2.25" height="2.01" fill="#461365"/>
<rect x="618.4" y="89.1" width="2.25" height="2.01" fill="#471769"/>
<rect x="618.4" y="90.86" width="2.25" height="2.01" fill="#450e60"/>
<rect x="618.4" y="92.62" width="2.25" height="2.01" fill="#450c5e"/>
<rect x="618.4" y="94.39" width="2.25" height="2.01" fill="#461365"/>
<rect x="618.4" y="96.15" width="2.25" height="2.01" fill="#450658"/>
<rect x="618.4" y="97.91" width="2.25" height="2.01" fill="#45085a"/>
<rect x="618.4" y="99.67" width="2.25" height="2.01" fill="#450659"/>
<rect x="618.4" y="101.44" width="2.25" height="2.01" fill="#460f62"/>
<rect x="618.4" y="103.2" width="2.25" height="2.01" fill="#45095b"/>
<rect x="618.4" y="104.96" width="2.25" height="2.01" fill="#450759"/>
<rect x="618.4" y="106.72" width="2.25" height="2.01" fill="#461264"/>
<rect x="618.4" y="108.49" width="2.25" height="2.01" fill="#47186a"/>
<rect x="618.4" y="110.25" width="2.25" height="2.01" fill="#45085b"/>
<rect x="618.4" y="112.01" width="2.25" height="2.01" fill="#3f4988"/>
<rect x="618.4" y="113.78" width="2.25" height="2.01" fill="#3f4988"/>
<rect x="618.4" y="115.54" width="2.25" height="2.01" fill="#3f4988"/>
<rect x="620.4" y="75" width="2.25" height="2.01" fill="#460f62"/>
<rect x="620.4" y="76.76" width="2.25" height="2.01" fill="#45085a"/>
<rect x="620.4" y="78.53" width="2.25" height="2.01" fill="#450659"/>
<rect x="620.4" y="80.29" width="2.25" height="2.01" fill="#440255"/>
<rect x="620.4" y="82.05" width="2.25" height="2.01" fill="#450d5f"/>
<rect x="620.4" y="83.81" width="2.25" height="2.01" fill="#450a5d"/>
<rect x="620.4" y="85.58" width="2.25" height="2.01" fill="#440558"/>
<rect x="620.4" y="87.34" width="2.25" height="2.01" fill="#450a5c"/>
<rect x="620.4" y="89.1" width="2.25" height="2.01" fill="#45095b"/>
<rect x="620.4" y="90.86" width="2.25" height="2.01" fill="#461466"/>
<rect x="620.4" y="92.62" width="2.25" height="2.01" fill="#440557"/>
<rect x="620.4" y="94.39" width="2.25" height="2.01" fill="#47196b"/>
<rect x="620.4" y="96.15" width="2.25" height="2.01" fill="#450d5f"/>
<rect x="620.4" y="97.91" width="2.25" height="2.01" fill="#461062"/>
<rect x="620.4" y="99.67" width="2.25" height="2.01" fill="#450c5f"/>
<rect x="620.4" y="101.44" width="2.25" height="2.01" fill="#461567"/>
<rect x="620.4" y="103.2" width="2.25" height="2.01" fill="#461567"/>
<rect x="620.4" y="104.96" width="2.25" height="2.01" fill="#460f61"/>
<rect x="620.4" y="106.72" width="2.25" height="2.01" fill="#450d5f"/>
<rect x="620.4" y="108.49" width="2.25" height="2.01" fill="#461365"/>
<rect x="620.4" y="110.25" width="2.25" height="2.01" fill="#461668"/>
<rect x="620.4" y="112.01" width="2.25" height="2.01" fill="#3f4988"/>
<rect x="620.4" y="113.78" width="2.25" height="2.01" fill="#3f4988"/>
<rect x="620.4" y="115.54" width="2.25" height="2.01" fill="#47196a"/>
<rect x="622.4" y="75" width="2.25" height="2.01" fill="#450c5f"/>
<rect x="622.4" y="76.76" width="2.25" height="2.01" fill="#450759"/>
<rect x="622.4" y="78.53" width="2.25" height="2.01" fill="#450759"/>
<rect x="622.4" y="80.29" width="2.25" height="2.01" fill="#461365"/>
<rect x="622.4" y="82.05" width="2.25" height="2.01" fill="#461264"/>
<rect x="622.4" y="83.81" width="2.25" height="2.01" fill="#47186a"/>
<rect x="622.4" y="85.58" width="2.25" height="2.01" fill="#461668"/>
<rect x="622.4" y="87.34" width="2.25" height="2.01" fill="#45075a"/>
<rect x="622.4" y="89.1" width="2.25" height="2.01" fill="#450658"/>
<rect x="622.4" y="90.86" width="2.25" height="2.01" fill="#45075a"/>
<rect x="622.4" y="92.62" width="2.25" height="2.01" fill="#450658"/>
<rect x="622.4" y="94.39" width="2.25" height="2.01" fill="#461264"/>
<rect x="622.4" y="96.15" width="2.25" height="2.01" fill="#461668"/>
<rect x="622.4" y="97.91" width="2.25" height="2.01" fill="#471769"/>
<rect x="622.4" y="99.67" width="2.25" height="2.01" fill="#45075a"/>
<rect x="622.4" y="101.44" width="2.25" height="2.01" fill="#461668"/>
<rect x="622.4" y="103.2" width="2.25" height="2.01" fill="#45095b"/>
<rect x="622.4" y="104.96" width="2.25" height="2.01" fill="#450b5e"/>
<rect x="622.4" y="106.72" width="2.25" height="2.01" fill="#461365"/>
<rect x="622.4" y="108.49" width="2.25" height="2.01" fill="#440356"/>
<rect x="622.4" y="110.25" width="2.25" height="2.01" fill="#440356"/>
<rect x="622.4" y="112.01" width="2.25" height="2.01" fill="#3f4988"/>
<rect x="622.4" y="113.78" width="2.25" height="2.01" fill="#3f4988"/>
<rect x="622.4" y="115.54" width="2.25" height="2.01" fill="#450a5c"/>
<rect x="624.4" y="75" width="2.25" height="2.01" fill="#460f61"/>
<rect x="624.4" y="76.76" width="2.25" height="2.01" fill="#461264"/>
<rect x="624.4" y="78.53" width="2.25" height="2.01" fill="#440154"/>
<rect x="624.4" y="80.29" width="2.25" height="2.01" fill="#45095c"/>
<rect x="624.4" y="82.05" width="2.25" height="2.01" fill="#450c5e"/>
<rect x="624.4" y="83.81" width="2.25" height="2.01" fill="#450d5f"/>
<rect x="624.4" y="85.58" width="2.25" height="2.01" fill="#450659"/>
<rect x="624.4" y="87.34" width="2.25" height="2.01" fill="#460f62"/>
<rect x="624.4" y="89.1" width="2.25" height="2.01" fill="#47186a"/>
<rect x="624.4" y="90.86" width="2.25" height="2.01" fill="#450b5d"/>
<rect x="624.4" y="92.62" width="2.25" height="2.01" fill="#460e61"/>
<rect x="624.4" y="94.39" width="2.25" height="2.01" fill="#440457"/>
<rect x="624.4" y="96.15" width="2.25" height="2.01" fill="#45085a"/>
<rect x="624.4" y="97.91" width="2.25" height="2.01" fill="#461163"/>
<rect x="624.4" y="99.67" width="2.25" height="2.01" fill="#440457"/>
<rect x="624.4" y="101.44" width="2.25" height="2.01" fill="#461768"/>
<rect x="624.4" y="103.2" width="2.25" height="2.01" fill="#471769"/>
<rect x="624.4" y="104.96" width="2.25" height="2.01" fill="#440356"/>
<rect x="624.4" y="106.72" width="2.25" height="2.01" fill="#47186a"/>
<rect x="624.4" y="108.49" width="2.25" height="2.01" fill="#450a5d"/>
<rect x="624.4" y="110.25" width="2.25" height="2.01" fill="#3f4988"/>
<rect x="624.4" y="112.01" width="2.25" height="2.01" fill="#3f4988"/>
<rect x="624.4" y="113.78" width="2.25" height="2.01" fill="#3f4988"/>
<rect x="624.4" y="115.54" width="2.25" height="2.01" fill="#461264"/>
<rect x="626.4" y="75" width="2.25" height="2.01" fill="#461163"/>
<rect x="626.4" y="76.76" width="2.25" height="2.01" fill="#461567"/>
<rect x="626.4" y="78.53" width="2.25" height="2.01" fill="#45085a"/>
<rect x="626.4" y="80.29" width="2.25" height="2.01" fill="#461365"/>
<rect x="626.4" y="82.05" width="2.25" height="2.01" fill="#47196a"/>
<rect x="626.4" y="83.81" width="2.25" height="2.01" fill="#461164"/>
<rect x="626.4" y="85.58" width="2.25" height="2.01" fill="#460e60"/>
<rect x="626.4" y="87.34" width="2.25" height="2.01" fill="#440457"/>
<rect x="626.4" y="89.1" width="2.25" height="2.01" fill="#450d5f"/>
<rect x="626.4" y="90.86" width="2.25" height="2.01" fill="#450a5c"/>
<rect x="626.4" y="92.62" width="2.25" height="2.01" fill="#461365"/>
<rect x="626.4" y="94.39" width="2.25" height="2.01" fill="#461264"/>
<rect x="626.4" y="96.15" width="2.25" height="2.01" fill="#460f61"/>
<rect x="626.4" y="97.91" width="2.25" height="2.01" fill="#450558"/>
<rect x="626.4" y="99.67" width="2.25" height="2.01" fill="#461163"/>
<rect x="626.4" y="101.44" width="2.25" height="2.01" fill="#461063"/>
<rect x="626.4" y="103.2" width="2.25" height="2.01" fill="#450558"/>
<rect x="626.4" y="104.96" width="2.25" height="2.01" fill="#461769"/>
<rect x="626.4" y="106.72" width="2.25" height="2.01" fill="#461163"/>
<rect x="626.4" y="108.49" width="2.25" height="2.01" fill="#440457"/>
<rect x="626.4" y="110.25" width="2.25" height="2.01" fill="#3f4988"/>
<rect x="626.4" y="112.01" width="2.25" height="2.01" fill="#3f4988"/>
<rect x="626.4" y="113.78" width="2.25" height="2.01" fill="#3f4988"/>
<rect x="626.4" y="115.54" width="2.25" height="2.01" fill="#461365"/>
<rect x="628.4" y="75" width="2.25" height="2.01" fill="#461062"/>
<rect x="628.4" y="76.76" width="2.25" height="2.01" fill="#460f61"/>
<rect x="628.4" y="78.53" width="2.25" height="2.01" fill="#461163"/>
<rect x="628.4" y="80.29" width="2.25" height="2.01" fill="#450c5f"/>
<rect x="628.4" y="82.05" width="2.25" height="2.01" fill="#45095b"/>
<rect x="628.4" y="83.81" width="2.25" height="2.01" fill="#440558"/>
<rect x="628.4" y="85.58" width="2.25" height="2.01" fill="#440356"/>
<rect x="628.4" y="87.34" width="2.25" height="2.01" fill="#461365"/>
<rect x="628.4" y="89.1" width="2.25" height="2.01" fill="#461365"/>
<rect x="628.4" y="90.86" width="2.25" height="2.01" fill="#460e61"/>
<rect x="628.4" y="92.62" width="2.25" height="2.01" fill="#461365"/>
<rect x="628.4" y="94.39" width="2.25" height="2.01" fill="#450a5c"/>
<rect x="628.4" y="96.15" width="2.25" height="2.01" fill="#45085a"/>
<rect x="628.4" y="97.91" width="2.25" height="2.01" fill="#450a5d"/>
<rect x="628.4" y="99.67" width="2.25" height="2.01" fill="#461668"/>
<rect x="628.4" y="101.44" width="2.25" height="2.01" fill="#440255"/>
<rect x="628.4" y="103.2" width="2.25" height="2.01" fill="#450d60"/>
<rect x="628.4" y="104.96" width="2.25" height="2.01" fill="#45075a"/>
<rect x="628.4" y="106.72" width="2.25" height="2.01" fill="#461466"/>
<rect x="628.4" y="108.49" width="2.25" height="2.01" fill="#450a5c"/>
<rect x="628.4" y="110.25" width="2.25" height="2.01" fill="#3f4988"/>
<rect x="628.4" y="112.01" width="2.25" height="2.01" fill="#3f4988"/>
<rect x="628.4" y="113.78" width="2.25" height="2.01" fill="#460e61"/>
<rect x="628.4" y="115.54" width="2.25" height="2.01" fill="#461466"/>
<rect x="630.4" y="75" width="2.25" height="2.01" fill="#450a5c"/>
<rect x="630.4" y="76.76" width="2.25" height="2.01" fill="#461668"/>
<rect x="630.4" y="78.53" width="2.25" height="2.01" fill="#440457"/>
<rect x="630.4" y="80.29" width="2.25" height="2.01" fill="#45085a"/>
<rect x="630.4" y="82.05" width="2.25" height="2.01" fill="#440356"/>
<rect x="630.4" y="83.81" width="2.25" height="2.01" fill="#440457"/>
<rect x="630.4" y="85.58" width="2.25" height="2.01" fill="#461466"/>
<rect x="630.4" y="87.34" width="2.25" height="2.01" fill="#461365"/>
<rect x="630.4" y="89.1" width="2.25" height="2.01" fill="#450658"/>
<rect x="630.4" y="90.86" width="2.25" height="2.01" fill="#450658"/>
<rect x="630.4" y="92.62" width="2.25" height="2.01" fill="#450b5e"/>
<rect x="630.4" y="94.39" width="2.25" height="2.01" fill="#461365"/>
<rect x="630.4" y="96.15" width="2.25" height="2.01" fill="#461567"/>
<rect x="630.4" y="97.91" width="2.25" height="2.01" fill="#461365"/>
<rect x="630.4" y="99.67" width="2.25" height="2.01" fill="#461062"/>
<rect x="630.4" y="101.44" width="2.25" height="2.01" fill="#440557"/>
<rect x="630.4" y="103.2" width="2.25" height="2.01" fill="#450b5d"/>
<rect x="630.4" y="104.96" width="2.25" height="2.01" fill="#450658"/>
<rect x="630.4" y="106.72" width="2.25" height="2.01" fill="#450e60"/>
<rect x="630.4" y="108.49" width="2.25" height="2.01" fill="#460f61"/>
<rect x="630.4" y="110.25" width="2.25" height="2.01" fill="#3f4988"/>
<rect x="630.4" y="112.01" width="2.25" height="2.01" fill="#3f4988"/>
<rect x="630.4" y="113.78" width="2.25" height="2.01" fill="#461466"/>
<rect x="630.4" y="115.54" width="2.25" height="2.01" fill="#440255"/>
<rect x="632.4" y="75" width="2.25" height="2.01" fill="#461567"/>
<rect x="632.4" y="76.76" width="2.25" height="2.01" fill="#461769"/>
<rect x="632.4" y="78.53" width="2.25" height="2.01" fill="#47186a"/>
<rect x="632.4" y="80.29" width="2.25" height="2.01" fill="#450a5d"/>
<rect x="632.4" y="82.05" width="2.25" height="2.01" fill="#460f61"/>
<rect x="632.4" y="83.81" width="2.25" height="2.01" fill="#460f61"/>
<rect x="632.4" y="85.58" width="2.25" height="2.01" fill="#461163"/>
<rect x="632.4" y="87.34" width="2.25" height="2.01" fill="#47196b"/>
<rect x="632.4" y="89.1" width="2.25" height="2.01" fill="#461264"/>
<rect x="632.4" y="90.86" width="2.25" height="2.01" fill="#45085b"/>
<rect x="632.4" y="92.62" width="2.25" height="2.01" fill="#461668"/>
<rect x="632.4" y="94.39" width="2.25" height="2.01" fill="#450d5f"/>
<rect x="632.4" y="96.15" width="2.25" height="2.01" fill="#461062"/>
<rect x="632.4" y="97.91" width="2.25" height="2.01" fill="#461365"/>
<rect x="632.4" y="99.67" width="2.25" height="2.01" fill="#440154"/>
<rect x="632.4" y="101.44" width="2.25" height="2.01" fill="#461466"/>
<rect x="632.4" y="103.2" width="2.25" height="2.01" fill="#461163"/>
<rect x="632.4" y="104.96" width="2.25" height="2.01" fill="#450d5f"/>
<rect x="632.4" y="106.72" width="2.25" height="2.01" fill="#450e60"/>
<rect x="632.4" y="108.49" width="2.25" height="2.01" fill="#3f4988"/>
<rect x="632.4" y="110.25" width="2.25" height="2.01" fill="#3f4988"/>
<rect x="632.4" y="112.01" width="2.25" height="2.01" fill="#3f4988"/>
<rect x="632.4" y="113.78" width="2.25" height="2.01" fill="#440255"/>
<rect x="632.4" y="115.54" width="2.25" height="2.01" fill="#450d60"/>
<rect x="634.4" y="75" width="2.25" height="2.01" fill="#461163"/>
<rect x="634.4" y="76.76" width="2.25" height="2.01" fill="#450c5e"/>
<rect x="634.4" y="78.53" width="2.25" height="2.01" fill="#460f61"/>
<rect x="634.4" y="80.29" width="2.25" height="2.01" fill="#47186a"/>
<rect x="634.4" y="82.05" width="2.25" height="2.01" fill="#461769"/>
<rect x="634.4" y="83.81" width="2.25" height="2.01" fill="#440457"/>
<rect x="634.4" y="85.58" width="2.25" height="2.01" fill="#461466"/>
<rect x="634.4" y="87.34" width="2.25" height="2.01" fill="#461062"/>
<rect x="634.4" y="89.1" width="2.25" height="2.01" fill="#440255"/>
<rect x="634.4" y="90.86" width="2.25" height="2.01" fill="#450a5c"/>
<rect x="634.4" y="92.62" width="2.25" height="2.01" fill="#450759"/>
<rect x="634.4" y="94.39" width="2.25" height="2.01" fill="#440356"/>
<rect x="634.4" y="96.15" width="2.25" height="2.01" fill="#460e60"/>
<rect x="634.4" y="97.91" width="2.25" height="2.01" fill="#471869"/>
<rect x="634.4" y="99.67" width="2.25" height="2.01" fill="#45095b"/>
<rect x="634.4" y="101.44" width="2.25" height="2.01" fill="#461668"/>
<rect x="634.4" y="103.2" width="2.25" height="2.01" fill="#461264"/>
<rect x="634.4" y="104.96" width="2.25" height="2.01" fill="#440457"/>
<rect x="634.4" y="106.72" width="2.25" height="2.01" fill="#461668"/>
<rect x="634.4" y="108.49" width="2.25" height="2.01" fill="#3f4988"/>
<rect x="634.4" y="110.25" width="2.25" height="2.01" fill="#3f4988"/>
<rect x="634.4" y="112.01" width="2.25" height="2.01" fill="#3f4988"/>
<rect x="634.4" y="113.78" width="2.25" height="2.01" fill="#461365"/>
<rect x="634.4" y="115.54" width="2.25" height="2.01" fill="#45095c"/>
<rect x="636.4" y="75" width="2.25" height="2.01" fill="#461567"/>
<rect x="636.4" y="76.76" width="2.25" height="2.01" fill="#47186a"/>
<rect x="636.4" y="78.53" width="2.25" height="2.01" fill="#461668"/>
<rect x="636.4" y="80.29" width="2.25" height="2.01" fill="#450c5e"/>
<rect x="636.4" y="82.05" width="2.25" height="2.01" fill="#461465"/>
<rect x="636.4" y="83.81" width="2.25" height="2.01" fill="#450d5f"/>
<rect x="636.4" y="85.58" width="2.25" height="2.01" fill="#440457"/>
<rect x="636.4" y="87.34" width="2.25" height="2.01" fill="#440255"/>
<rect x="636.4" y="89.1" width="2.25" height="2.01" fill="#440356"/>
<rect x="636.4" y="90.86" width="2.25" height="2.01" fill="#450659"/>
<rect x="636.4" y="92.62" width="2.25" height="2.01" fill="#440558"/>
<rect x="636.4" y="94.39" width="2.25" height="2.01" fill="#450d5f"/>
<rect x="636.4" y="96.15" width="2.25" height="2.01" fill="#461264"/>
<rect x="636.4" y="97.91" width="2.25" height="2.01" fill="#460e60"/>
<rect x="636.4" y="99.67" width="2.25" height="2.01" fill="#450b5e"/>
<rect x="636.4" y="101.44" width="2.25" height="2.01" fill="#461163"/>
<rect x="636.4" y="103.2" width="2.25" height="2.01" fill="#45085b"/>
<rect x="636.4" y="104.96" width="2.25" height="2.01" fill="#450c5f"/>
<rect x="636.4" y="106.72" width="2.25" height="2.01" fill="#461465"/>
<rect x="636.4" y="108.49" width="2.25" height="2.01" fill="#3f4988"/>
<rect x="636.4" y="110.25" width="2.25" height="2.01" fill="#3f4988"/>
<rect x="636.4" y="112.01" width="2.25" height="2.01" fill="#471769"/>
<rect x="636.4" y="113.78" width="2.25" height="2.01" fill="#461365"/>
<rect x="636.4" y="115.54" width="2.25" height="2.01" fill="#450a5c"/>
<rect x="638.4" y="75" width="2.25" height="2.01" fill="#450a5d"/>
<rect x="638.4" y="76.76" width="2.25" height="2.01" fill="#450e60"/>
<rect x="638.4" y="78.53" width="2.25" height="2.01" fill="#461062"/>
<rect x="638.4" y="80.29" width="2.25" height="2.01" fill="#450659"/>
<rect x="638.4" y="82.05" width="2.25" height="2.01" fill="#440154"/>
<rect x="638.4" y="83.81" width="2.25" height="2.01" fill="#450659"/>
<rect x="638.4" y="85.58" width="2.25" height="2.01" fill="#461466"/>
<rect x="638.4" y="87.34" width="2.25" height="2.01" fill="#440557"/>
<rect x="638.4" y="89.1" width="2.25" height="2.01" fill="#450c5f"/>
<rect x="638.4" y="90.86" width="2.25" height="2.01" fill="#450659"/>
<rect x="638.4" y="92.62" width="2.25" height="2.01" fill="#450659"/>
<rect x="638.4" y="94.39" width="2.25" height="2.01" fill="#440558"/>
<rect x="638.4" y="96.15" width="2.25" height="2.01" fill="#450b5d"/>
<rect x="638.4" y="97.91" width="2.25" height="2.01" fill="#440558"/>
<rect x="638.4" y="99.67" width="2.25" height="2.01" fill="#440255"/>
<rect x="638.4" y="101.44" width="2.25" height="2.01" fill="#440457"/>
<rect x="638.4" y="103.2" width="2.25" height="2.01" fill="#440558"/>
<rect x="638.4" y="104.96" width="2.25" height="2.01" fill="#450d5f"/>
<rect x="638.4" y="106.72" width="2.25" height="2.01" fill="#440255"/>
<rect x="638.4" y="108.49" width="2.25" height="2.01" fill="#3f4988"/>
<rect x="638.4" y="110.25" width="2.25" height="2.01" fill="#3f4988"/>
<rect x="638.4" y="112.01" width="2.25" height="2.01" fill="#450b5d"/>
<rect x="638.4" y="113.78" width="2.25" height="2.01" fill="#461264"/>
<rect x="638.4" y="115.54" width="2.25" height="2.01" fill="#440255"/>
<rect x="640.4" y="75" width="2.25" height="2.01" fill="#450b5d"/>
<rect x="640.4" y="76.76" width="2.25" height="2.01" fill="#450b5d"/>
<rect x="640.4" y="78.53" width="2.25" height="2.01" fill="#440255"/>
<rect x="640.4" y="80.29" width="2.25" height="2.01" fill="#47196a"/>
<rect x="640.4" y="82.05" width="2.25" height="2.01" fill="#450659"/>
<rect x="640.4" y="83.81" width="2.25" height="2.01" fill="#440356"/>
<rect x="640.4" y="85.58" width="2.25" height="2.01" fill="#450d5f"/>
<rect x="640.4" y="87.34" width="2.25" height="2.01" fill="#440558"/>
<rect x="640.4" y="89.1" width="2.25" height="2.01" fill="#461062"/>
<rect x="640.4" y="90.86" width="2.25" height="2.01" fill="#45095c"/>
<rect x="640.4" y="92.62" width="2.25" height="2.01" fill="#440457"/>
<rect x="640.4" y="94.39" width="2.25" height="2.01" fill="#440255"/>
<rect x="640.4" y="96.15" width="2.25" height="2.01" fill="#461365"/>
<rect x="640.4" y="97.91" width="2.25" height="2.01" fill="#45085a"/>
<rect x="640.4" y="99.67" width="2.25" height="2.01" fill="#461466"/>
<rect x="640.4" y="101.44" width="2.25" height="2.01" fill="#450c5f"/>
<rect x="640.4" y="103.2" width="2.25" height="2.01" fill="#47186a"/>
<rect x="640.4" y="104.96" width="2.25" height="2.01" fill="#45085b"/>
<rect x="640.4" y="106.72" width="2.25" height="2.01" fill="#3f4988"/>
<rect x="640.4" y="108.49" width="2.25" height="2.01" fill="#3f4988"/>
<rect x="640.4" y="110.25" width="2.25" height="2.01" fill="#3f4988"/>
<rect x="640.4" y="112.01" width="2.25" height="2.01" fill="#461063"/>
<rect x="640.4" y="113.78" width="2.25" height="2.01" fill="#45095c"/>
<rect x="640.4" y="115.54" width="2.25" height="2.01" fill="#440356"/>
<rect x="642.4" y="75" width="2.25" height="2.01" fill="#461264"/>
<rect x="642.4" y="76.76" width="2.25" height="2.01" fill="#47196a"/>
<rect x="642.4" y="78.53" width="2.25" height="2.01" fill="#461062"/>
<rect x="642.4" y="80.29" width="2.25" height="2.01" fill="#440154"/>
<rect x="642.4" y="82.05" width="2.25" height="2.01" fill="#440255"/>
<rect x="642.4" y="83.81" width="2.25" height="2.01" fill="#440356"/>
<rect x="642.4" y="85.58" width="2.25" height="2.01" fill="#440558"/>
<rect x="642.4" y="87.34" width="2.25" height="2.01" fill="#440255"/>
<rect x="642.4" y="89.1" width="2.25" height="2.01" fill="#440255"/>
<rect x="642.4" y="90.86" width="2.25" height="2.01" fill="#461163"/>
<rect x="642.4" y="92.62" width="2.25" height="2.01" fill="#471769"/>
<rect x="642.4" y="94.39" width="2.25" height="2.01" fill="#450659"/>
<rect x="642.4" y="96.15" width="2.25" height="2.01" fill="#47196a"/>
<rect x="642.4" y="97.91" width="2.25" height="2.01" fill="#450d5f"/>
<rect x="642.4" y="99.67" width="2.25" height="2.01" fill="#461567"/>
<rect x="642.4" y="101.44" width="2.25" height="2.01" fill="#471769"/>
<rect x="642.4" y="103.2" width="2.25" height="2.01" fill="#47186a"/>
<rect x="642.4" y="104.96" width="2.25" height="2.01" fill="#440255"/>
<rect x="642.4" y="106.72" width="2.25" height="2.01" fill="#3f4988"/>
<rect x="642.4" y="108.49" width="2.25" height="2.01" fill="#3f4988"/>
<rect x="642.4" y="110.25" width="2.25" height="2.01" fill="#3f4988"/>
<rect x="642.4" y="112.01" width="2.25" height="2.01" fill="#440356"/>
<rect x="642.4" y="113.78" width="2.25" height="2.01" fill="#45085b"/>
<rect x="642.4" y="115.54" width="2.25" height="2.01" fill="#461668"/>
<rect x="644.4" y="75" width="2.25" height="2.01" fill="#440457"/>
<rect x="644.4" y="76.76" width="2.25" height="2.01" fill="#450b5d"/>
<rect x="644.4" y="78.53" width="2.25" height="2.01" fill="#45095c"/>
<rect x="644.4" y="80.29" width="2.25" height="2.01" fill="#461264"/>
<rect x="644.4" y="82.05" width="2.25" height="2.01" fill="#471869"/>
<rect x="644.4" y="83.81" width="2.25" height="2.01" fill="#440558"/>
<rect x="644.4" y="85.58" width="2.25" height="2.01" fill="#461365"/>
<rect x="644.4" y="87.34" width="2.25" height="2.01" fill="#461365"/>
<rect x="644.4" y="89.1" width="2.25" height="2.01" fill="#461567"/>
<rect x="644.4" y="90.86" width="2.25" height="2.01" fill="#460f61"/>
<rect x="644.4" y="92.62" width="2.25" height="2.01" fill="#471869"/>
<rect x="644.4" y="94.39" width="2.25" height="2.01" fill="#450a5c"/>
<rect x="644.4" y="96.15" width="2.25" height="2.01" fill="#450b5e"/>
<rect x="644.4" y="97.91" width="2.25" height="2.01" fill="#450759"/>
<rect x="644.4" y="99.67" width="2.25" height="2.01" fill="#461466"/>
<rect x="644.4" y="101.44" width="2.25" height="2.01" fill="#450d5f"/>
<rect x="644.4" y="103.2" width="2.25" height="2.01" fill="#45085a"/>
<rect x="644.4" y="104.96" width="2.25" height="2.01" fill="#440558"/>
<rect x="644.4" y="106.72" width="2.25" height="2.01" fill="#3f4988"/>
<rect x="644.4" y="108.49" width="2.25" height="2.01" fill="#3f4988"/>
<rect x="644.4" y="110.25" width="2.25" height="2.01" fill="#461264"/>
<rect x="644.4" y="112.01" width="2.25" height="2.01" fill="#450a5d"/>
<rect x="644.4" y="113.78" width="2.25" height="2.01" fill="#450d5f"/>
<rect x="644.4" y="115.54" width="2.25" height="2.01" fill="#440558"/>
<rect x="646.4" y="75" width="2.25" height="2.01" fill="#461264"/>
<rect x="646.4" y="76.76" width="2.25" height="2.01" fill="#440255"/>
<rect x="646.4" y="78.53" width="2.25" height="2.01" fill="#450c5f"/>
<rect x="646.4" y="80.29" width="2.25" height="2.01" fill="#461466"/>
<rect x="646.4" y="82.05" width="2.25" height="2.01" fill="#461264"/>
<rect x="646.4" y="83.81" width="2.25" height="2.01" fill="#440356"/>
<rect x="646.4" y="85.58" width="2.25" height="2.01" fill="#450759"/>
<rect x="646.4" y="87.34" width="2.25" height="2.01" fill="#461667"/>
<rect x="646.4" y="89.1" width="2.25" height="2.01" fill="#461163"/>
<rect x="646.4" y="90.86" width="2.25" height="2.01" fill="#461768"/>
<rect x="646.4" y="92.62" width="2.25" height="2.01" fill="#461668"/>
<rect x="646.4" y="94.39" width="2.25" height="2.01" fill="#450c5e"/>
<rect x="646.4" y="96.15" width="2.25" height="2.01" fill="#471769"/>
<rect x="646.4" y="97.91" width="2.25" height="2.01" fill="#461365"/>
<rect x="646.4" y="99.67" width="2.25" height="2.01" fill="#45095c"/>
<rect x="646.4" y="101.44" width="2.25" height="2.01" fill="#450a5d"/>
<rect x="646.4" y="103.2" width="2.25" height="2.01" fill="#440356"/>
<rect x="646.4" y="104.96" width="2.25" height="2.01" fill="#450b5d"/>
<rect x="646.4" y="106.72" width="2.25" height="2.01" fill="#3f4988"/>
<rect x="646.4" y="108.49" width="2.25" height="2.01" fill="#3f4988"/>
<rect x="646.4" y="110.25" width="2.25" height="2.01" fill="#460f61"/>
<rect x="646.4" y="112.01" width="2.25" height="2.01" fill="#440457"/>
<rect x="646.4" y="113.78" width="2.25" height="2.01" fill="#440356"/>
<rect x="646.4" y="115.54" width="2.25" height="2.01" fill="#461163"/>
<rect x="648.4" y="75" width="2.25" height="2.01" fill="#45075a"/>
<rect x="648.4" y="76.76" width="2.25" height="2.01" fill="#440255"/>
<rect x="648.4" y="78.53" width="2.25" height="2.01" fill="#440558"/>
<rect x="648.4" y="80.29" width="2.25" height="2.01" fill="#461163"/>
<rect x="648.4" y="82.05" width="2.25" height="2.01" fill="#460f62"/>
<rect x="648.4" y="83.81" width="2.25" height="2.01" fill="#440154"/>
<rect x="648.4" y="85.58" width="2.25" height="2.01" fill="#450759"/>
<rect x="648.4" y="87.34" width="2.25" height="2.01" fill="#47196a"/>
<rect x="648.4" y="89.1" width="2.25" height="2.01" fill="#450659"/>
<rect x="648.4" y="90.86" width="2.25" height="2.01" fill="#460f61"/>
<rect x="648.4" y="92.62" width="2.25" height="2.01" fill="#450b5e"/>
<rect x="648.4" y="94.39" width="2.25" height="2.01" fill="#461466"/>
<rect x="648.4" y="96.15" width="2.25" height="2.01" fill="#461062"/>
<rect x="648.4" y="97.91" width="2.25" height="2.01" fill="#461466"/>
<rect x="648.4" y="99.67" width="2.25" height="2.01" fill="#450e60"/>
<rect x="648.4" y="101.44" width="2.25" height="2.01" fill="#450658"/>
<rect x="648.4" y="103.2" width="2.25" height="2.01" fill="#440558"/>
<rect x="648.4" y="104.96" width="2.25" height="2.01" fill="#3f4988"/>
<rect x="648.4" y="106.72" width="2.25" height="2.01" fill="#3f4988"/>
<rect x="648.4" y="108.49" width="2.25" height="2.01" fill="#3f4988"/>
<rect x="648.4" y="110.25" width="2.25" height="2.01" fill="#440255"/>
<rect x="648.4" y="112.01" width="2.25" height="2.01" fill="#47196a"/>
<rect x="648.4" y="113.78" width="2.25" height="2.01" fill="#450659"/>
<rect x="648.4" y="115.54" width="2.25" height="2.01" fill="#471769"/>
<rect x="650.4" y="75" width="2.25" height="2.01" fill="#440356"/>
<rect x="650.4" y="76.76" width="2.25" height="2.01" fill="#450c5f"/>
<rect x="650.4" y="78.53" width="2.25" height="2.01" fill="#450659"/>
<rect x="650.4" y="80.29" width="2.25" height="2.01" fill="#461567"/>
<rect x="650.4" y="82.05" width="2.25" height="2.01" fill="#461062"/>
<rect x="650.4" y="83.81" width="2.25" height="2.01" fill="#461163"/>
<rect x="650.4" y="85.58" width="2.25" height="2.01" fill="#461466"/>
<rect x="650.4" y="87.34" width="2.25" height="2.01" fill="#461668"/>
<rect x="650.4" y="89.1" width="2.25" height="2.01" fill="#45095c"/>
<rect x="650.4" y="90.86" width="2.25" height="2.01" fill="#461062"/>
<rect x="650.4" y="92.62" width="2.25" height="2.01" fill="#450c5e"/>
<rect x="650.4" y="94.39" width="2.25" height="2.01" fill="#440457"/>
<rect x="650.4" y="96.15" width="2.25" height="2.01" fill="#461567"/>
<rect x="650.4" y="97.91" width="2.25" height="2.01" fill="#461062"/>
<rect x="650.4" y="99.67" width="2.25" height="2.01" fill="#461567"/>
<rect x="650.4" y="101.44" width="2.25" height="2.01" fill="#450659"/>
<rect x="650.4" y="103.2" width="2.25" height="2.01" fill="#460e60"/>
<rect x="650.4" y="104.96" width="2.25" height="2.01" fill="#3f4988"/>
<rect x="650.4" y="106.72" width="2.25" height="2.01" fill="#3f4988"/>
<rect x="650.4" y="108.49" width="2.25" height="2.01" fill="#3f4988"/>
<rect x="650.4" y="110.25" width="2.25" height="2.01" fill="#45095c"/>
<rect x="650.4" y="112.01" width="2.25" height="2.01" fill="#450d5f"/>
<rect x="650.4" y="113.78" width="2.25" height="2.01" fill="#440356"/>
<rect x="650.4" y="115.54" width="2.25" height="2.01" fill="#460f61"/>
<rect x="652.4" y="75" width="2.25" height="2.01" fill="#461365"/>
<rect x="652.4" y="76.76" width="2.25" height="2.01" fill="#450b5e"/>
<rect x="652.4" y="78.53" width="2.25" height="2.01" fill="#461163"/>
<rect x="652.4" y="80.29" width="2.25" height="2.01" fill="#461062"/>
<rect x="652.4" y="82.05" width="2.25" height="2.01" fill="#450659"/>
<rect x="652.4" y="83.81" width="2.25" height="2.01" fill="#450a5c"/>
<rect x="652.4" y="85.58" width="2.25" height="2.01" fill="#47196b"/>
<rect x="652.4" y="87.34" width="2.25" height="2.01" fill="#45095c"/>
<rect x="652.4" y="89.1" width="2.25" height="2.01" fill="#450c5e"/>
<rect x="652.4" y="90.86" width="2.25" height="2.01" fill="#440356"/>
<rect x="652.4" y="92.62" width="2.25" height="2.01" fill="#450659"/>
<rect x="652.4" y="94.39" width="2.25" height="2.01" fill="#440558"/>
<rect x="652.4" y="96.15" width="2.25" height="2.01" fill="#47186a"/>
<rect x="652.4" y="97.91" width="2.25" height="2.01" fill="#461365"/>
<rect x="652.4" y="99.67" width="2.25" height="2.01" fill="#461668"/>
<rect x="652.4" y="101.44" width="2.25" height="2.01" fill="#47196b"/>
<rect x="652.4" y="103.2" width="2.25" height="2.01" fill="#461062"/>
<rect x="652.4" y="104.96" width="2.25" height="2.01" fill="#3f4988"/>
<rect x="652.4" y="106.72" width="2.25" height="2.01" fill="#3f4988"/>
<rect x="652.4" y="108.49" width="2.25" height="2.01" fill="#450b5e"/>
<rect x="652.4" y="110.25" width="2.25" height="2.01" fill="#47186a"/>
<rect x="652.4" y="112.01" width="2.25" height="2.01" fill="#471769"/>
<rect x="652.4" y="113.78" width="2.25" height="2.01" fill="#47186a"/>
<rect x="652.4" y="115.54" width="2.25" height="2.01" fill="#450d5f"/>
<rect x="654.4" y="75" width="2.25" height="2.01" fill="#461466"/>
<rect x="654.4" y="76.76" width="2.25" height="2.01" fill="#450b5d"/>
<rect x="654.4" y="78.53" width="2.25" height="2.01" fill="#47196b"/>
<rect x="654.4" y="80.29" width="2.25" height="2.01" fill="#471869"/>
<rect x="654.4" y="82.05" width="2.25" height="2.01" fill="#45085b"/>
<rect x="654.4" y="83.81" width="2.25" height="2.01" fill="#47186a"/>
<rect x="654.4" y="85.58" width="2.25" height="2.01" fill="#450658"/>
<rect x="654.4" y="87.34" width="2.25" height="2.01" fill="#440356"/>
<rect x="654.4" y="89.1" width="2.25" height="2.01" fill="#461365"/>
<rect x="654.4" y="90.86" width="2.25" height="2.01" fill="#45085b"/>
<rect x="654.4" y="92.62" width="2.25" height="2.01" fill="#450e60"/>
<rect x="654.4" y="94.39" width="2.25" height="2.01" fill="#461163"/>
<rect x="654.4" y="96.15" width="2.25" height="2.01" fill="#440255"/>
<rect x="654.4" y="97.91" width="2.25" height="2.01" fill="#461365"/>
<rect x="654.4" y="99.67" width="2.25" height="2.01" fill="#45085a"/>
<rect x="654.4" y="101.44" width="2.25" height="2.01" fill="#450c5e"/>
<rect x="654.4" y="103.2" width="2.25" height="2.01" fill="#45095c"/>
<rect x="654.4" y="104.96" width="2.25" height="2.01" fill="#3f4988"/>
<rect x="654.4" y="106.72" width="2.25" height="2.01" fill="#3f4988"/>
<rect x="654.4" y="108.49" width="2.25" height="2.01" fill="#45085b"/>
<rect x="654.4" y="110.25" width="2.25" height="2.01" fill="#440456"/>
<rect x="654.4" y="112.01" width="2.25" height="2.01" fill="#45085b"/>
<rect x="654.4" y="113.78" width="2.25" height="2.01" fill="#450b5d"/>
<rect x="654.4" y="115.54" width="2.25" height="2.01" fill="#440356"/>
<line x1="606.8" y1="117.6" x2="656.4" y2="106.6" stroke="#2f9c88" stroke-width="2.6"/>
<line x1="606.8" y1="117.6" x2="656.4" y2="106.6" stroke="#c8e020" stroke-width="1.3"/>
<line x1="607" y1="117.3" x2="656.4" y2="106.4" stroke="#fff" stroke-width="0.8" stroke-dasharray="1.4 1.0"/>
<rect x="606.4" y="75.0" width="50" height="42.3" fill="none" stroke="#111" stroke-width="0.9"/>
<rect x="600.4" y="63.8" width="61.4" height="11.4" rx="1.6" fill="#000"/>
<line x1="603.6" y1="69.6" x2="615.8" y2="69.6" stroke="#fff" stroke-width="0.9" stroke-dasharray="1.6 1.0"/>
<text x="620.9" y="72" font-size="7.4" fill="#fff" textLength="37.8" lengthAdjust="spacingAndGlyphs">0.08 MHz/mV</text>
<line x1="602.4" y1="82.3" x2="606.4" y2="82.3" stroke="#000" stroke-width="0.8"/>
<text x="598.9" y="85.1" font-size="7.6" text-anchor="end" fill="#000">4</text>
<line x1="602.4" y1="100.1" x2="606.4" y2="100.1" stroke="#000" stroke-width="0.8"/>
<text x="598.9" y="102.9" font-size="7.6" text-anchor="end" fill="#000">2</text>
<line x1="621.3" y1="117.3" x2="621.3" y2="120.4" stroke="#000" stroke-width="0.8"/>
<text x="621.3" y="130.2" font-size="7.6" text-anchor="middle" fill="#000">5</text>
<line x1="638.3" y1="117.3" x2="638.3" y2="120.4" stroke="#000" stroke-width="0.8"/>
<text x="638.3" y="130.2" font-size="7.6" text-anchor="middle" fill="#000">10</text>
<line x1="655.1" y1="117.3" x2="655.1" y2="120.4" stroke="#000" stroke-width="0.8"/>
<text x="655.1" y="130.2" font-size="7.6" text-anchor="middle" fill="#000">15</text>
<text x="630.5" y="141.2" font-size="7.6" text-anchor="middle"><tspan font-style="italic">A</tspan><tspan font-size="5.2" dy="1.8">P5, mw</tspan><tspan dy="-1.8"> (mV)</tspan></text>
<text transform="translate(588.0 96.0) rotate(-90)" font-size="7.6" text-anchor="middle"><tspan font-style="italic">f</tspan><tspan font-size="5.2" dy="1.8">P5, mw</tspan><tspan dy="-1.8"> (MHz)</tspan></text>
<rect x="0.8" y="167.3" width="287.1" height="150.9" rx="10" fill="none" stroke="#333" stroke-width="1.2"/>
<text x="13.4" y="182.9" font-size="13" font-weight="bold" fill="#000">b</text>
<rect x="51.5" y="179.3" width="222.5" height="93.5" fill="none" stroke="#000" stroke-width="1.3"/>
<line x1="49.1" y1="270.27" x2="51.5" y2="270.27" stroke="#000" stroke-width="0.7"/>
<line x1="49.1" y1="267.6" x2="51.5" y2="267.6" stroke="#000" stroke-width="0.7"/>
<line x1="49.1" y1="265.34" x2="51.5" y2="265.34" stroke="#000" stroke-width="0.7"/>
<line x1="49.1" y1="263.38" x2="51.5" y2="263.38" stroke="#000" stroke-width="0.7"/>
<line x1="49.1" y1="261.65" x2="51.5" y2="261.65" stroke="#000" stroke-width="0.7"/>
<line x1="47.5" y1="260.1" x2="51.5" y2="260.1" stroke="#000" stroke-width="0.9"/>
<line x1="49.1" y1="249.93" x2="51.5" y2="249.93" stroke="#000" stroke-width="0.7"/>
<line x1="49.1" y1="243.97" x2="51.5" y2="243.97" stroke="#000" stroke-width="0.7"/>
<line x1="49.1" y1="239.75" x2="51.5" y2="239.75" stroke="#000" stroke-width="0.7"/>
<line x1="49.1" y1="236.47" x2="51.5" y2="236.47" stroke="#000" stroke-width="0.7"/>
<line x1="49.1" y1="233.8" x2="51.5" y2="233.8" stroke="#000" stroke-width="0.7"/>
<line x1="49.1" y1="231.54" x2="51.5" y2="231.54" stroke="#000" stroke-width="0.7"/>
<line x1="49.1" y1="229.58" x2="51.5" y2="229.58" stroke="#000" stroke-width="0.7"/>
<line x1="49.1" y1="227.85" x2="51.5" y2="227.85" stroke="#000" stroke-width="0.7"/>
<line x1="47.5" y1="226.3" x2="51.5" y2="226.3" stroke="#000" stroke-width="0.9"/>
<line x1="49.1" y1="216.13" x2="51.5" y2="216.13" stroke="#000" stroke-width="0.7"/>
<line x1="49.1" y1="210.17" x2="51.5" y2="210.17" stroke="#000" stroke-width="0.7"/>
<line x1="49.1" y1="205.95" x2="51.5" y2="205.95" stroke="#000" stroke-width="0.7"/>
<line x1="49.1" y1="202.67" x2="51.5" y2="202.67" stroke="#000" stroke-width="0.7"/>
<line x1="49.1" y1="200" x2="51.5" y2="200" stroke="#000" stroke-width="0.7"/>
<line x1="49.1" y1="197.74" x2="51.5" y2="197.74" stroke="#000" stroke-width="0.7"/>
<line x1="49.1" y1="195.78" x2="51.5" y2="195.78" stroke="#000" stroke-width="0.7"/>
<line x1="49.1" y1="194.05" x2="51.5" y2="194.05" stroke="#000" stroke-width="0.7"/>
<line x1="47.5" y1="192.5" x2="51.5" y2="192.5" stroke="#000" stroke-width="0.9"/>
<line x1="49.1" y1="182.33" x2="51.5" y2="182.33" stroke="#000" stroke-width="0.7"/>
<text x="40.7" y="197.8" font-size="9.6" text-anchor="end">10<tspan font-size="6.6" dy="-6.2" dx="0.5">1</tspan></text>
<text x="40.7" y="231.6" font-size="9.6" text-anchor="end">10<tspan font-size="6.6" dy="-6.2" dx="0.5">0</tspan></text>
<text x="40.7" y="265.4" font-size="9.6" text-anchor="end">10<tspan font-size="6.6" dy="-6.2" dx="0.5">−1</tspan></text>
<text transform="translate(15.0 225.8) rotate(-90)" font-size="9.6" text-anchor="middle">ratio</text>
<line x1="52" y1="226.3" x2="274" y2="226.3" stroke="#000" stroke-width="1.5" stroke-dasharray="5.5 1.95"/>
<rect x="67.0" y="225.6" width="25.2" height="1.6" fill="#fff" stroke="#000" stroke-width="0.9"/>
<line x1="67.6" y1="226.4" x2="91.6" y2="226.4" stroke="#ff7f0e" stroke-width="1.5"/>
<line x1="73" y1="227.6" x2="86" y2="227.6" stroke="#000" stroke-width="0.8"/>
<line x1="135" y1="200.3" x2="135" y2="217.9" stroke="#000" stroke-width="1.2"/>
<line x1="135" y1="226.9" x2="135" y2="235" stroke="#000" stroke-width="1.2"/>
<line x1="128.2" y1="235" x2="141.8" y2="235" stroke="#000" stroke-width="1.3"/>
<line x1="128.2" y1="200.3" x2="141.8" y2="200.3" stroke="#000" stroke-width="1.3"/>
<rect x="122.5" y="217.9" width="25" height="9" fill="#fff" stroke="#000" stroke-width="1.3"/>
<line x1="123.1" y1="222.6" x2="146.9" y2="222.6" stroke="#ff7f0e" stroke-width="1.5"/>
<line x1="190.8" y1="179.3" x2="190.8" y2="205.6" stroke="#000" stroke-width="1.2"/>
<line x1="190.8" y1="213.3" x2="190.8" y2="226.6" stroke="#000" stroke-width="1.2"/>
<line x1="184" y1="226.6" x2="197.6" y2="226.6" stroke="#000" stroke-width="1.3"/>
<rect x="178.3" y="205.6" width="25" height="7.7" fill="#fff" stroke="#000" stroke-width="1.3"/>
<line x1="178.9" y1="207.6" x2="202.7" y2="207.6" stroke="#ff7f0e" stroke-width="1.5"/>
<line x1="246.4" y1="179.3" x2="246.4" y2="206" stroke="#000" stroke-width="1.2"/>
<line x1="246.4" y1="216.9" x2="246.4" y2="231.9" stroke="#000" stroke-width="1.2"/>
<line x1="239.6" y1="231.9" x2="253.2" y2="231.9" stroke="#000" stroke-width="1.3"/>
<rect x="233.9" y="206" width="25" height="10.9" fill="#fff" stroke="#000" stroke-width="1.3"/>
<line x1="234.5" y1="215.6" x2="258.3" y2="215.6" stroke="#ff7f0e" stroke-width="1.5"/>
<line x1="79.6" y1="272.8" x2="79.6" y2="277.4" stroke="#000" stroke-width="1.0"/>
<line x1="135" y1="272.8" x2="135" y2="277.4" stroke="#000" stroke-width="1.0"/>
<line x1="190.8" y1="272.8" x2="190.8" y2="277.4" stroke="#000" stroke-width="1.0"/>
<line x1="246.4" y1="272.8" x2="246.4" y2="277.4" stroke="#000" stroke-width="1.0"/>
<line x1="68.9" y1="299.1" x2="86.3" y2="299.1" stroke="#000" stroke-width="0.9"/>
<text x="69.4" y="293.1" font-size="12.5"><tspan font-style="italic">g</tspan></text>
<text x="77.4" y="289.5" font-size="11">*</text>
<text x="76.6" y="295.4" font-size="8.2">3h</text>
<text x="69.4" y="311.3" font-size="12.5"><tspan font-style="italic">g</tspan></text>
<text x="77.4" y="307.7" font-size="11">*</text>
<text x="76.6" y="313.6" font-size="8.2">1h</text>
<line x1="125.7" y1="296.4" x2="142.1" y2="296.4" stroke="#000" stroke-width="0.9"/>
<text x="125.4" y="292.2" font-size="12"><tspan font-style="italic">ξ</tspan></text>
<text x="131.8" y="293" font-size="8.2">3<tspan font-style="italic">h</tspan></text>
<text x="125.4" y="305.9" font-size="12"><tspan font-style="italic">ξ</tspan></text>
<text x="131.8" y="306.7" font-size="8.2">1<tspan font-style="italic">h</tspan></text>
<line x1="178" y1="299.4" x2="199.8" y2="299.4" stroke="#000" stroke-width="0.9"/>
<text x="177.9" y="293.9" font-size="12">f</text>
<text x="182.4" y="288.2" font-size="6.8">R</text>
<text x="182" y="295.5" font-size="8.2">3h, P</text>
<text x="177.9" y="313.3" font-size="12">f</text>
<text x="182.4" y="307.6" font-size="6.8">R</text>
<text x="182" y="314.9" font-size="8.2">1h, P</text>
<line x1="231" y1="296.9" x2="258.8" y2="296.9" stroke="#000" stroke-width="0.9"/>
<text x="231.2" y="291.8" font-size="11"><tspan font-style="italic">Q</tspan></text>
<text x="240" y="293.6" font-size="8.2">3h, P</text>
<text x="231.2" y="306.4" font-size="11"><tspan font-style="italic">Q</tspan></text>
<text x="240" y="308.2" font-size="8.2">1h, P</text>
<rect x="295.5" y="166.6" width="388.9" height="153.6" rx="9" fill="none" stroke="#b565c5" stroke-width="1.2" stroke-dasharray="6.8 6.8"/>
<text x="307.3" y="183" font-size="13" font-weight="bold" fill="#000">c</text>
<rect x="332.3" y="173.4" width="42.4" height="43.2" rx="6" fill="none" stroke="#333" stroke-width="1.2"/>
<line x1="346.9" y1="185.5" x2="359.8" y2="185.5" stroke="#555" stroke-width="0.9"/>
<line x1="346.9" y1="199.4" x2="359.8" y2="199.4" stroke="#555" stroke-width="0.9"/>
<line x1="346.9" y1="214.3" x2="359.8" y2="214.3" stroke="#555" stroke-width="0.9"/>
<line x1="350.4" y1="205.1" x2="350.4" y2="213.1" stroke="#111" stroke-width="0.9"/>
<path d="M348.1,207.7 L350.4,205.1 L352.7,207.7" stroke="#111" stroke-width="0.9" fill="none"/>
<rect x="462.4" y="173.5" width="42.1" height="42.9" rx="6" fill="none" stroke="#333" stroke-width="1.2"/>
<line x1="477" y1="185.4" x2="489.6" y2="185.4" stroke="#555" stroke-width="0.9"/>
<line x1="477" y1="199.3" x2="489.6" y2="199.3" stroke="#555" stroke-width="0.9"/>
<line x1="480.5" y1="190.1" x2="480.5" y2="198.1" stroke="#111" stroke-width="0.9"/>
<path d="M478.2,192.7 L480.5,190.1 L482.8,192.7" stroke="#111" stroke-width="0.9" fill="none"/>
<line x1="477" y1="214.1" x2="489.6" y2="214.1" stroke="#555" stroke-width="0.9"/>
<line x1="480" y1="204.9" x2="480" y2="212.9" stroke="#111" stroke-width="0.9"/>
<path d="M477.7,207.5 L480,204.9 L482.3,207.5" stroke="#111" stroke-width="0.9" fill="none"/>
<line x1="484.8" y1="204.9" x2="484.8" y2="212.9" stroke="#111" stroke-width="0.9"/>
<path d="M482.5,210.3 L484.8,212.9 L487.1,210.3" stroke="#111" stroke-width="0.9" fill="none"/>
<rect x="586.3" y="173.4" width="41.4" height="43.1" rx="6" fill="none" stroke="#333" stroke-width="1.2"/>
<line x1="600.5" y1="185.2" x2="612.9" y2="185.2" stroke="#555" stroke-width="0.9"/>
<line x1="604" y1="176" x2="604" y2="184" stroke="#111" stroke-width="0.9"/>
<path d="M601.7,178.6 L604,176 L606.3,178.6" stroke="#111" stroke-width="0.9" fill="none"/>
<line x1="600.5" y1="199.8" x2="612.9" y2="199.8" stroke="#555" stroke-width="0.9"/>
<line x1="603.5" y1="190.6" x2="603.5" y2="198.6" stroke="#111" stroke-width="0.9"/>
<path d="M601.2,193.2 L603.5,190.6 L605.8,193.2" stroke="#111" stroke-width="0.9" fill="none"/>
<line x1="608.3" y1="190.6" x2="608.3" y2="198.6" stroke="#111" stroke-width="0.9"/>
<path d="M606,196 L608.3,198.6 L610.6,196" stroke="#111" stroke-width="0.9" fill="none"/>
<line x1="600.5" y1="214.6" x2="612.9" y2="214.6" stroke="#555" stroke-width="0.9"/>
<line x1="603.5" y1="205.4" x2="603.5" y2="213.4" stroke="#111" stroke-width="0.9"/>
<path d="M601.2,208 L603.5,205.4 L605.8,208" stroke="#111" stroke-width="0.9" fill="none"/>
<line x1="608.3" y1="205.4" x2="608.3" y2="213.4" stroke="#111" stroke-width="0.9"/>
<path d="M606,210.8 L608.3,213.4 L610.6,210.8" stroke="#111" stroke-width="0.9" fill="none"/>
<line x1="310.4" y1="252.9" x2="325.35" y2="237.7" stroke="#111" stroke-width="1.5"/>
<line x1="310.4" y1="252.9" x2="325.35" y2="268.1" stroke="#111" stroke-width="1.5"/>
<line x1="325.35" y1="237.7" x2="340.3" y2="252.9" stroke="#111" stroke-width="1.5"/>
<line x1="325.35" y1="268.1" x2="340.3" y2="252.9" stroke="#111" stroke-width="1.5"/>
<line x1="340.3" y1="252.9" x2="355.25" y2="237.7" stroke="#111" stroke-width="1.5"/>
<line x1="340.3" y1="252.9" x2="355.25" y2="268.1" stroke="#111" stroke-width="1.5"/>
<line x1="355.25" y1="237.7" x2="370.2" y2="252.9" stroke="#111" stroke-width="1.5"/>
<line x1="355.25" y1="268.1" x2="370.2" y2="252.9" stroke="#111" stroke-width="1.5"/>
<line x1="370.2" y1="252.9" x2="385.15" y2="237.7" stroke="#111" stroke-width="1.5"/>
<line x1="370.2" y1="252.9" x2="385.15" y2="268.1" stroke="#111" stroke-width="1.5"/>
<line x1="385.15" y1="237.7" x2="400.1" y2="252.9" stroke="#111" stroke-width="1.5"/>
<line x1="385.15" y1="268.1" x2="400.1" y2="252.9" stroke="#111" stroke-width="1.5"/>
<circle cx="325.35" cy="237.7" r="7.2" fill="#4a5878" stroke="#111" stroke-width="1.3"/>
<circle cx="355.25" cy="237.7" r="7.2" fill="#fff" stroke="#a0a0a0" stroke-width="0.8"/>
<circle cx="385.15" cy="237.7" r="7.2" fill="#6b6e78" stroke="#111" stroke-width="1.3"/>
<circle cx="310.4" cy="252.9" r="7.2" fill="#a09a78" stroke="#111" stroke-width="1.3"/>
<circle cx="340.3" cy="252.9" r="7.2" fill="#d8c060" stroke="#111" stroke-width="1.3"/>
<circle cx="370.2" cy="252.9" r="7.2" fill="#d8c060" stroke="#111" stroke-width="1.3"/>
<circle cx="400.1" cy="252.9" r="7.2" fill="#a09a78" stroke="#111" stroke-width="1.3"/>
<circle cx="325.35" cy="268.1" r="7.2" fill="#7c7c7a" stroke="#111" stroke-width="1.3"/>
<circle cx="355.25" cy="268.1" r="7.2" fill="#5e6472" stroke="#111" stroke-width="1.3"/>
<circle cx="385.15" cy="268.1" r="7.2" fill="#8a877a" stroke="#111" stroke-width="1.3"/>
<line x1="439.6" y1="248.8" x2="454.5" y2="233.9" stroke="#111" stroke-width="1.5"/>
<line x1="439.6" y1="248.8" x2="454.5" y2="263.7" stroke="#111" stroke-width="1.5"/>
<line x1="454.5" y1="233.9" x2="469.4" y2="248.8" stroke="#111" stroke-width="1.5"/>
<line x1="454.5" y1="263.7" x2="469.4" y2="248.8" stroke="#111" stroke-width="1.5"/>
<line x1="469.4" y1="248.8" x2="484.3" y2="233.9" stroke="#111" stroke-width="1.5"/>
<line x1="469.4" y1="248.8" x2="484.3" y2="263.7" stroke="#111" stroke-width="1.5"/>
<line x1="484.3" y1="233.9" x2="499.2" y2="248.8" stroke="#111" stroke-width="1.5"/>
<line x1="484.3" y1="263.7" x2="499.2" y2="248.8" stroke="#111" stroke-width="1.5"/>
<line x1="499.2" y1="248.8" x2="514.1" y2="233.9" stroke="#111" stroke-width="1.5"/>
<line x1="499.2" y1="248.8" x2="514.1" y2="263.7" stroke="#111" stroke-width="1.5"/>
<line x1="514.1" y1="233.9" x2="529" y2="248.8" stroke="#111" stroke-width="1.5"/>
<line x1="514.1" y1="263.7" x2="529" y2="248.8" stroke="#111" stroke-width="1.5"/>
<circle cx="454.5" cy="233.9" r="7.2" fill="#2a4580" stroke="#111" stroke-width="1.3"/>
<circle cx="484.3" cy="233.9" r="7.2" fill="#fff" stroke="#a0a0a0" stroke-width="0.8"/>
<circle cx="514.1" cy="233.9" r="7.2" fill="#4a5680" stroke="#111" stroke-width="1.3"/>
<circle cx="439.6" cy="248.8" r="7.2" fill="#9a9680" stroke="#111" stroke-width="1.3"/>
<circle cx="469.4" cy="248.8" r="7.2" fill="#7a7c7c" stroke="#111" stroke-width="1.3"/>
<circle cx="499.2" cy="248.8" r="7.2" fill="#6e7078" stroke="#111" stroke-width="1.3"/>
<circle cx="529" cy="248.8" r="7.2" fill="#a09a7c" stroke="#111" stroke-width="1.3"/>
<circle cx="454.5" cy="263.7" r="7.2" fill="#8c8a80" stroke="#111" stroke-width="1.3"/>
<circle cx="484.3" cy="263.7" r="7.2" fill="#7a7c80" stroke="#111" stroke-width="1.3"/>
<circle cx="514.1" cy="263.7" r="7.2" fill="#8e8c7a" stroke="#111" stroke-width="1.3"/>
<line x1="569.2" y1="252.6" x2="584.07" y2="237.5" stroke="#111" stroke-width="1.5"/>
<line x1="569.2" y1="252.6" x2="584.07" y2="267.7" stroke="#111" stroke-width="1.5"/>
<line x1="584.07" y1="237.5" x2="598.94" y2="252.6" stroke="#111" stroke-width="1.5"/>
<line x1="584.07" y1="267.7" x2="598.94" y2="252.6" stroke="#111" stroke-width="1.5"/>
<line x1="598.94" y1="252.6" x2="613.81" y2="237.5" stroke="#111" stroke-width="1.5"/>
<line x1="598.94" y1="252.6" x2="613.81" y2="267.7" stroke="#111" stroke-width="1.5"/>
<line x1="613.81" y1="237.5" x2="628.68" y2="252.6" stroke="#111" stroke-width="1.5"/>
<line x1="613.81" y1="267.7" x2="628.68" y2="252.6" stroke="#111" stroke-width="1.5"/>
<line x1="628.68" y1="252.6" x2="643.55" y2="237.5" stroke="#111" stroke-width="1.5"/>
<line x1="628.68" y1="252.6" x2="643.55" y2="267.7" stroke="#111" stroke-width="1.5"/>
<line x1="643.55" y1="237.5" x2="658.42" y2="252.6" stroke="#111" stroke-width="1.5"/>
<line x1="643.55" y1="267.7" x2="658.42" y2="252.6" stroke="#111" stroke-width="1.5"/>
<circle cx="584.07" cy="237.5" r="7.2" fill="#fff" stroke="#a0a0a0" stroke-width="0.8"/>
<circle cx="613.81" cy="237.5" r="7.2" fill="#00296b" stroke="#111" stroke-width="1.3"/>
<circle cx="643.55" cy="237.5" r="7.2" fill="#fff" stroke="#a0a0a0" stroke-width="0.8"/>
<circle cx="569.2" cy="252.6" r="7.2" fill="#fff" stroke="#a0a0a0" stroke-width="0.8"/>
<circle cx="598.94" cy="252.6" r="7.2" fill="#e0c850" stroke="#111" stroke-width="1.3"/>
<circle cx="628.68" cy="252.6" r="7.2" fill="#b0a474" stroke="#111" stroke-width="1.3"/>
<circle cx="658.42" cy="252.6" r="7.2" fill="#fff" stroke="#a0a0a0" stroke-width="0.8"/>
<circle cx="584.07" cy="267.7" r="7.2" fill="#fff" stroke="#a0a0a0" stroke-width="0.8"/>
<circle cx="613.81" cy="267.7" r="7.2" fill="#fff" stroke="#a0a0a0" stroke-width="0.8"/>
<circle cx="643.55" cy="267.7" r="7.2" fill="#fff" stroke="#a0a0a0" stroke-width="0.8"/>
<text x="415.5" y="282.0" font-size="10.5"><tspan font-style="italic">g</tspan><tspan font-size="9" dy="-3">*</tspan></text>
<rect x="371.8" y="289.3" width="94.8" height="5.0" fill="url(#gciv)" stroke="#000" stroke-width="0.7"/>
<line x1="371.8" y1="294.3" x2="371.8" y2="298" stroke="#000" stroke-width="0.9"/>
<text x="371.8" y="309.5" font-size="9" text-anchor="middle" fill="#000">0.50</text>
<line x1="403.4" y1="294.3" x2="403.4" y2="298" stroke="#000" stroke-width="0.9"/>
<text x="403.4" y="309.5" font-size="9" text-anchor="middle" fill="#000">0.55</text>
<line x1="435" y1="294.3" x2="435" y2="298" stroke="#000" stroke-width="0.9"/>
<text x="435" y="309.5" font-size="9" text-anchor="middle" fill="#000">0.60</text>
<line x1="466.6" y1="294.3" x2="466.6" y2="298" stroke="#000" stroke-width="0.9"/>
<text x="466.6" y="309.5" font-size="9" text-anchor="middle" fill="#000">0.65</text>
<circle cx="503.9" cy="297.2" r="7.6" fill="#fff" stroke="#a0a0a0" stroke-width="0.8"/>
<text x="517.4" y="300.8" font-size="10.7" fill="#000">not measured</text>
<rect x="0.6" y="326.7" width="683.6" height="318.7" rx="20" fill="none" stroke="#f5a45a" stroke-width="1.3" stroke-dasharray="1.5 2.5"/>
<text x="13.2" y="344.7" font-size="13" font-weight="bold" fill="#000">d</text>
<text x="26.8" y="356.4" font-size="12.5">n<tspan font-size="7.6" dy="4.4">holes</tspan></text>
<rect x="18.3" y="369.8" width="42.2" height="42.6" rx="6" fill="none" stroke="#333" stroke-width="1.2"/>
<line x1="33.2" y1="381.4" x2="45.3" y2="381.4" stroke="#555" stroke-width="0.9"/>
<line x1="33.2" y1="395.4" x2="45.3" y2="395.4" stroke="#555" stroke-width="0.9"/>
<line x1="33.2" y1="410.3" x2="45.3" y2="410.3" stroke="#555" stroke-width="0.9"/>
<line x1="36.7" y1="401.1" x2="36.7" y2="409.1" stroke="#111" stroke-width="0.9"/>
<path d="M34.4,403.7 L36.7,401.1 L39,403.7" stroke="#111" stroke-width="0.9" fill="none"/>
<rect x="18.3" y="453.3" width="42.2" height="43.3" rx="6" fill="none" stroke="#333" stroke-width="1.2"/>
<line x1="33.2" y1="464.9" x2="45.3" y2="464.9" stroke="#c4c4c4" stroke-width="1.3"/>
<line x1="33.2" y1="479" x2="45.3" y2="479" stroke="#c4c4c4" stroke-width="1.3"/>
<line x1="36.7" y1="469.8" x2="36.7" y2="477.8" stroke="#111" stroke-width="0.9"/>
<path d="M34.4,472.4 L36.7,469.8 L39,472.4" stroke="#111" stroke-width="0.9" fill="none"/>
<line x1="33.2" y1="494" x2="45.3" y2="494" stroke="#c4c4c4" stroke-width="1.3"/>
<line x1="36.2" y1="484.8" x2="36.2" y2="492.8" stroke="#111" stroke-width="0.9"/>
<path d="M33.9,487.4 L36.2,484.8 L38.5,487.4" stroke="#111" stroke-width="0.9" fill="none"/>
<line x1="41" y1="484.8" x2="41" y2="492.8" stroke="#111" stroke-width="0.9"/>
<path d="M38.7,490.2 L41,492.8 L43.3,490.2" stroke="#111" stroke-width="0.9" fill="none"/>
<rect x="18.3" y="538.7" width="42.2" height="43.1" rx="6" fill="none" stroke="#333" stroke-width="1.2"/>
<line x1="33.2" y1="550.9" x2="45.3" y2="550.9" stroke="#c4c4c4" stroke-width="1.3"/>
<line x1="36.7" y1="541.7" x2="36.7" y2="549.7" stroke="#111" stroke-width="0.9"/>
<path d="M34.4,544.3 L36.7,541.7 L39,544.3" stroke="#111" stroke-width="0.9" fill="none"/>
<line x1="33.2" y1="564.6" x2="45.3" y2="564.6" stroke="#c4c4c4" stroke-width="1.3"/>
<line x1="36.2" y1="555.4" x2="36.2" y2="563.4" stroke="#111" stroke-width="0.9"/>
<path d="M33.9,558 L36.2,555.4 L38.5,558" stroke="#111" stroke-width="0.9" fill="none"/>
<line x1="41" y1="555.4" x2="41" y2="563.4" stroke="#111" stroke-width="0.9"/>
<path d="M38.7,560.8 L41,563.4 L43.3,560.8" stroke="#111" stroke-width="0.9" fill="none"/>
<line x1="33.2" y1="579.5" x2="45.3" y2="579.5" stroke="#c4c4c4" stroke-width="1.3"/>
<line x1="36.2" y1="570.3" x2="36.2" y2="578.3" stroke="#111" stroke-width="0.9"/>
<path d="M33.9,572.9 L36.2,570.3 L38.5,572.9" stroke="#111" stroke-width="0.9" fill="none"/>
<line x1="41" y1="570.3" x2="41" y2="578.3" stroke="#111" stroke-width="0.9"/>
<path d="M38.7,575.7 L41,578.3 L43.3,575.7" stroke="#111" stroke-width="0.9" fill="none"/>
<circle cx="145.4" cy="344.9" r="8.9" fill="#fff" stroke="#111" stroke-width="1.5"/>
<text x="145.4" y="348.1" font-size="9" font-weight="bold" text-anchor="middle" stroke="#000" stroke-width="0.3" transform="translate(145.4 0) scale(0.78 1) translate(-145.4 0)" letter-spacing="-0.3">Q5</text>
<circle cx="298.1" cy="344.9" r="8.9" fill="#fff" stroke="#111" stroke-width="1.5"/>
<text x="298.1" y="348.1" font-size="9" font-weight="bold" text-anchor="middle" stroke="#000" stroke-width="0.3" transform="translate(298.1 0) scale(0.78 1) translate(-298.1 0)" letter-spacing="-0.3">Q6</text>
<circle cx="458.9" cy="345" r="8.9" fill="#fff" stroke="#111" stroke-width="1.5"/>
<text x="458.9" y="348.2" font-size="9" font-weight="bold" text-anchor="middle" stroke="#000" stroke-width="0.3" transform="translate(458.9 0) scale(0.78 1) translate(-458.9 0)" letter-spacing="-0.3">Q5</text>
<circle cx="604.2" cy="345" r="8.9" fill="#fff" stroke="#111" stroke-width="1.5"/>
<text x="604.2" y="348.2" font-size="9" font-weight="bold" text-anchor="middle" stroke="#000" stroke-width="0.3" transform="translate(604.2 0) scale(0.78 1) translate(-604.2 0)" letter-spacing="-0.3">Q6</text>
<text x="187.7" y="348.0" font-size="12.5"><tspan font-style="italic">g</tspan><tspan font-size="10" dy="-2.5" dx="-0.5">*</tspan><tspan dy="2.5" dx="-2">-tunability</tspan></text>
<text x="489.4" y="347.9" font-size="11.6" fill="#000" textLength="85" lengthAdjust="spacingAndGlyphs">EDSR efficiency</text>
<rect x="88.45" y="378.5" width="15.6" height="6.8" rx="4.68" ry="3.4" fill="#ffe0e0" stroke="#a6a6a6" stroke-width="0.75" transform="rotate(45 96.25 381.9)"/>
<rect x="88.45" y="397.5" width="15.6" height="6.8" rx="4.68" ry="3.4" fill="#ffdede" stroke="#a6a6a6" stroke-width="0.75" transform="rotate(-45 96.25 400.9)"/>
<rect x="107.95" y="378.5" width="15.6" height="6.8" rx="4.68" ry="3.4" fill="#f04444" stroke="#a6a6a6" stroke-width="0.75" transform="rotate(-45 115.75 381.9)"/>
<rect x="107.95" y="397.5" width="15.6" height="6.8" rx="4.68" ry="3.4" fill="#faa0a0" stroke="#a6a6a6" stroke-width="0.75" transform="rotate(45 115.75 400.9)"/>
<rect x="127.45" y="378.5" width="15.6" height="6.8" rx="4.68" ry="3.4" fill="#fcfcff" stroke="#a6a6a6" stroke-width="0.75" transform="rotate(45 135.25 381.9)"/>
<rect x="127.45" y="397.5" width="15.6" height="6.8" rx="4.68" ry="3.4" fill="#0000a0" stroke="#a6a6a6" stroke-width="0.75" transform="rotate(-45 135.25 400.9)"/>
<rect x="146.95" y="378.5" width="15.6" height="6.8" rx="4.68" ry="3.4" fill="#b0b0f8" stroke="#a6a6a6" stroke-width="0.75" transform="rotate(-45 154.75 381.9)"/>
<rect x="146.95" y="397.5" width="15.6" height="6.8" rx="4.68" ry="3.4" fill="#9898f4" stroke="#a6a6a6" stroke-width="0.75" transform="rotate(45 154.75 400.9)"/>
<rect x="166.45" y="378.5" width="15.6" height="6.8" rx="4.68" ry="3.4" fill="#e4e4fc" stroke="#a6a6a6" stroke-width="0.75" transform="rotate(45 174.25 381.9)"/>
<rect x="166.45" y="397.5" width="15.6" height="6.8" rx="4.68" ry="3.4" fill="#e4e4fc" stroke="#a6a6a6" stroke-width="0.75" transform="rotate(-45 174.25 400.9)"/>
<rect x="185.95" y="378.5" width="15.6" height="6.8" rx="4.68" ry="3.4" fill="#ececfd" stroke="#a6a6a6" stroke-width="0.75" transform="rotate(-45 193.75 381.9)"/>
<rect x="185.95" y="397.5" width="15.6" height="6.8" rx="4.68" ry="3.4" fill="#f4f4fe" stroke="#a6a6a6" stroke-width="0.75" transform="rotate(45 193.75 400.9)"/>
<polygon points="90.31,382.2 95.7,387.59 95.7,395.21 90.31,400.6 82.69,400.6 77.3,395.21 77.3,387.59 82.69,382.2" fill="#fff5f5" stroke="#a6a6a6" stroke-width="0.75" stroke-linejoin="round"/>
<polygon points="109.81,363.2 115.2,368.59 115.2,376.21 109.81,381.6 102.19,381.6 96.8,376.21 96.8,368.59 102.19,363.2" fill="#ffd9d9" stroke="#a6a6a6" stroke-width="0.75" stroke-linejoin="round"/>
<polygon points="109.81,401.2 115.2,406.59 115.2,414.21 109.81,419.6 102.19,419.6 96.8,414.21 96.8,406.59 102.19,401.2" fill="#ffe2e2" stroke="#a6a6a6" stroke-width="0.75" stroke-linejoin="round"/>
<polygon points="148.81,363.2 154.2,368.59 154.2,376.21 148.81,381.6 141.19,381.6 135.8,376.21 135.8,368.59 141.19,363.2" fill="#e0e0fc" stroke="#a6a6a6" stroke-width="0.75" stroke-linejoin="round"/>
<polygon points="148.81,401.2 154.2,406.59 154.2,414.21 148.81,419.6 141.19,419.6 135.8,414.21 135.8,406.59 141.19,401.2" fill="#a8a8f6" stroke="#a6a6a6" stroke-width="0.75" stroke-linejoin="round"/>
<polygon points="168.31,382.2 173.7,387.59 173.7,395.21 168.31,400.6 160.69,400.6 155.3,395.21 155.3,387.59 160.69,382.2" fill="#d0d0fa" stroke="#a6a6a6" stroke-width="0.75" stroke-linejoin="round"/>
<polygon points="187.81,363.2 193.2,368.59 193.2,376.21 187.81,381.6 180.19,381.6 174.8,376.21 174.8,368.59 180.19,363.2" fill="#ececfd" stroke="#a6a6a6" stroke-width="0.75" stroke-linejoin="round"/>
<polygon points="187.81,401.2 193.2,406.59 193.2,414.21 187.81,419.6 180.19,419.6 174.8,414.21 174.8,406.59 180.19,401.2" fill="#f6f6fe" stroke="#a6a6a6" stroke-width="0.75" stroke-linejoin="round"/>
<polygon points="207.31,382.2 212.7,387.59 212.7,395.21 207.31,400.6 199.69,400.6 194.3,395.21 194.3,387.59 199.69,382.2" fill="#fcfcff" stroke="#a6a6a6" stroke-width="0.75" stroke-linejoin="round"/>
<polygon points="129.31,382.2 134.7,387.59 134.7,395.21 129.31,400.6 121.69,400.6 116.3,395.21 116.3,387.59 121.69,382.2" fill="#e60000" stroke="#111" stroke-width="2.0" stroke-linejoin="round"/>
<rect x="242.55" y="378.5" width="15.6" height="6.8" rx="4.68" ry="3.4" fill="#f4f4fe" stroke="#a6a6a6" stroke-width="0.75" transform="rotate(45 250.35 381.9)"/>
<rect x="242.55" y="397.5" width="15.6" height="6.8" rx="4.68" ry="3.4" fill="#eeeefd" stroke="#a6a6a6" stroke-width="0.75" transform="rotate(-45 250.35 400.9)"/>
<rect x="262.05" y="378.5" width="15.6" height="6.8" rx="4.68" ry="3.4" fill="#d8d8fb" stroke="#a6a6a6" stroke-width="0.75" transform="rotate(-45 269.85 381.9)"/>
<rect x="262.05" y="397.5" width="15.6" height="6.8" rx="4.68" ry="3.4" fill="#dcdcfb" stroke="#a6a6a6" stroke-width="0.75" transform="rotate(45 269.85 400.9)"/>
<rect x="281.55" y="378.5" width="15.6" height="6.8" rx="4.68" ry="3.4" fill="#b4b4f8" stroke="#a6a6a6" stroke-width="0.75" transform="rotate(45 289.35 381.9)"/>
<rect x="281.55" y="397.5" width="15.6" height="6.8" rx="4.68" ry="3.4" fill="#6464ee" stroke="#a6a6a6" stroke-width="0.75" transform="rotate(-45 289.35 400.9)"/>
<rect x="301.05" y="378.5" width="15.6" height="6.8" rx="4.68" ry="3.4" fill="#9c9cf4" stroke="#a6a6a6" stroke-width="0.75" transform="rotate(-45 308.85 381.9)"/>
<rect x="301.05" y="397.5" width="15.6" height="6.8" rx="4.68" ry="3.4" fill="#000070" stroke="#a6a6a6" stroke-width="0.75" transform="rotate(45 308.85 400.9)"/>
<rect x="320.55" y="378.5" width="15.6" height="6.8" rx="4.68" ry="3.4" fill="#b00000" stroke="#a6a6a6" stroke-width="0.75" transform="rotate(45 328.35 381.9)"/>
<rect x="320.55" y="397.5" width="15.6" height="6.8" rx="4.68" ry="3.4" fill="#fcfcff" stroke="#a6a6a6" stroke-width="0.75" transform="rotate(-45 328.35 400.9)"/>
<rect x="340.05" y="378.5" width="15.6" height="6.8" rx="4.68" ry="3.4" fill="#ffe0e0" stroke="#a6a6a6" stroke-width="0.75" transform="rotate(-45 347.85 381.9)"/>
<rect x="340.05" y="397.5" width="15.6" height="6.8" rx="4.68" ry="3.4" fill="#ffe4e4" stroke="#a6a6a6" stroke-width="0.75" transform="rotate(45 347.85 400.9)"/>
<polygon points="244.41,382.2 249.8,387.59 249.8,395.21 244.41,400.6 236.79,400.6 231.4,395.21 231.4,387.59 236.79,382.2" fill="#fde4e4" stroke="#a6a6a6" stroke-width="0.75" stroke-linejoin="round"/>
<polygon points="263.91,363.2 269.3,368.59 269.3,376.21 263.91,381.6 256.29,381.6 250.9,376.21 250.9,368.59 256.29,363.2" fill="#fff6f6" stroke="#a6a6a6" stroke-width="0.75" stroke-linejoin="round"/>
<polygon points="263.91,401.2 269.3,406.59 269.3,414.21 263.91,419.6 256.29,419.6 250.9,414.21 250.9,406.59 256.29,401.2" fill="#f6f6fe" stroke="#a6a6a6" stroke-width="0.75" stroke-linejoin="round"/>
<polygon points="283.41,382.2 288.8,387.59 288.8,395.21 283.41,400.6 275.79,400.6 270.4,395.21 270.4,387.59 275.79,382.2" fill="#d0d0fa" stroke="#a6a6a6" stroke-width="0.75" stroke-linejoin="round"/>
<polygon points="302.91,363.2 308.3,368.59 308.3,376.21 302.91,381.6 295.29,381.6 289.9,376.21 289.9,368.59 295.29,363.2" fill="#e4e4fc" stroke="#a6a6a6" stroke-width="0.75" stroke-linejoin="round"/>
<polygon points="302.91,401.2 308.3,406.59 308.3,414.21 302.91,419.6 295.29,419.6 289.9,414.21 289.9,406.59 295.29,401.2" fill="#a0a0f4" stroke="#a6a6a6" stroke-width="0.75" stroke-linejoin="round"/>
<polygon points="341.91,363.2 347.3,368.59 347.3,376.21 341.91,381.6 334.29,381.6 328.9,376.21 328.9,368.59 334.29,363.2" fill="#ffe6e6" stroke="#a6a6a6" stroke-width="0.75" stroke-linejoin="round"/>
<polygon points="341.91,401.2 347.3,406.59 347.3,414.21 341.91,419.6 334.29,419.6 328.9,414.21 328.9,406.59 334.29,401.2" fill="#ffe6e6" stroke="#a6a6a6" stroke-width="0.75" stroke-linejoin="round"/>
<polygon points="361.41,382.2 366.8,387.59 366.8,395.21 361.41,400.6 353.79,400.6 348.4,395.21 348.4,387.59 353.79,382.2" fill="#eeeefd" stroke="#a6a6a6" stroke-width="0.75" stroke-linejoin="round"/>
<polygon points="322.41,382.2 327.8,387.59 327.8,395.21 322.41,400.6 314.79,400.6 309.4,395.21 309.4,387.59 314.79,382.2" fill="#ff1010" stroke="#111" stroke-width="2.0" stroke-linejoin="round"/>
<rect x="403.45" y="378.5" width="15.6" height="6.8" rx="4.68" ry="3.4" fill="#fde8c8" stroke="#a6a6a6" stroke-width="0.75" transform="rotate(45 411.25 381.9)"/>
<rect x="403.45" y="397.5" width="15.6" height="6.8" rx="4.68" ry="3.4" fill="#fde8c8" stroke="#a6a6a6" stroke-width="0.75" transform="rotate(-45 411.25 400.9)"/>
<rect x="422.95" y="378.5" width="15.6" height="6.8" rx="4.68" ry="3.4" fill="#fdd080" stroke="#a6a6a6" stroke-width="0.75" transform="rotate(-45 430.75 381.9)"/>
<rect x="422.95" y="397.5" width="15.6" height="6.8" rx="4.68" ry="3.4" fill="#fde0b0" stroke="#a6a6a6" stroke-width="0.75" transform="rotate(45 430.75 400.9)"/>
<rect x="442.45" y="378.5" width="15.6" height="6.8" rx="4.68" ry="3.4" fill="#fde4b8" stroke="#a6a6a6" stroke-width="0.75" transform="rotate(45 450.25 381.9)"/>
<rect x="442.45" y="397.5" width="15.6" height="6.8" rx="4.68" ry="3.4" fill="#fdd890" stroke="#a6a6a6" stroke-width="0.75" transform="rotate(-45 450.25 400.9)"/>
<rect x="461.95" y="378.5" width="15.6" height="6.8" rx="4.68" ry="3.4" fill="#ffffff" stroke="#a6a6a6" stroke-width="0.75" transform="rotate(-45 469.75 381.9)"/>
<rect x="461.95" y="397.5" width="15.6" height="6.8" rx="4.68" ry="3.4" fill="#ffffff" stroke="#a6a6a6" stroke-width="0.75" transform="rotate(45 469.75 400.9)"/>
<rect x="481.45" y="378.5" width="15.6" height="6.8" rx="4.68" ry="3.4" fill="#ffffff" stroke="#a6a6a6" stroke-width="0.75" transform="rotate(45 489.25 381.9)"/>
<rect x="481.45" y="397.5" width="15.6" height="6.8" rx="4.68" ry="3.4" fill="#ffffff" stroke="#a6a6a6" stroke-width="0.75" transform="rotate(-45 489.25 400.9)"/>
<rect x="500.95" y="378.5" width="15.6" height="6.8" rx="4.68" ry="3.4" fill="#ffffff" stroke="#a6a6a6" stroke-width="0.75" transform="rotate(-45 508.75 381.9)"/>
<rect x="500.95" y="397.5" width="15.6" height="6.8" rx="4.68" ry="3.4" fill="#ffffff" stroke="#a6a6a6" stroke-width="0.75" transform="rotate(45 508.75 400.9)"/>
<polygon points="405.31,382.2 410.7,387.59 410.7,395.21 405.31,400.6 397.69,400.6 392.3,395.21 392.3,387.59 397.69,382.2" fill="#ffffff" stroke="#a6a6a6" stroke-width="0.75" stroke-linejoin="round"/>
<polygon points="424.81,363.2 430.2,368.59 430.2,376.21 424.81,381.6 417.19,381.6 411.8,376.21 411.8,368.59 417.19,363.2" fill="#fee8c8" stroke="#a6a6a6" stroke-width="0.75" stroke-linejoin="round"/>
<polygon points="424.81,401.2 430.2,406.59 430.2,414.21 424.81,419.6 417.19,419.6 411.8,414.21 411.8,406.59 417.19,401.2" fill="#feecd0" stroke="#a6a6a6" stroke-width="0.75" stroke-linejoin="round"/>
<polygon points="463.81,363.2 469.2,368.59 469.2,376.21 463.81,381.6 456.19,381.6 450.8,376.21 450.8,368.59 456.19,363.2" fill="#feefd4" stroke="#a6a6a6" stroke-width="0.75" stroke-linejoin="round"/>
<polygon points="463.81,401.2 469.2,406.59 469.2,414.21 463.81,419.6 456.19,419.6 450.8,414.21 450.8,406.59 456.19,401.2" fill="#fef4e0" stroke="#a6a6a6" stroke-width="0.75" stroke-linejoin="round"/>
<polygon points="483.31,382.2 488.7,387.59 488.7,395.21 483.31,400.6 475.69,400.6 470.3,395.21 470.3,387.59 475.69,382.2" fill="#ffffff" stroke="#a6a6a6" stroke-width="0.75" stroke-linejoin="round"/>
<polygon points="502.81,363.2 508.2,368.59 508.2,376.21 502.81,381.6 495.19,381.6 489.8,376.21 489.8,368.59 495.19,363.2" fill="#ffffff" stroke="#a6a6a6" stroke-width="0.75" stroke-linejoin="round"/>
<polygon points="502.81,401.2 508.2,406.59 508.2,414.21 502.81,419.6 495.19,419.6 489.8,414.21 489.8,406.59 495.19,401.2" fill="#ffffff" stroke="#a6a6a6" stroke-width="0.75" stroke-linejoin="round"/>
<polygon points="522.31,382.2 527.7,387.59 527.7,395.21 522.31,400.6 514.69,400.6 509.3,395.21 509.3,387.59 514.69,382.2" fill="#ffffff" stroke="#a6a6a6" stroke-width="0.75" stroke-linejoin="round"/>
<polygon points="444.31,382.2 449.7,387.59 449.7,395.21 444.31,400.6 436.69,400.6 431.3,395.21 431.3,387.59 436.69,382.2" fill="#fed080" stroke="#111" stroke-width="2.0" stroke-linejoin="round"/>
<rect x="548.45" y="378.5" width="15.6" height="6.8" rx="4.68" ry="3.4" fill="#ffffff" stroke="#a6a6a6" stroke-width="0.75" transform="rotate(45 556.25 381.9)"/>
<rect x="548.45" y="397.5" width="15.6" height="6.8" rx="4.68" ry="3.4" fill="#ffffff" stroke="#a6a6a6" stroke-width="0.75" transform="rotate(-45 556.25 400.9)"/>
<rect x="567.95" y="378.5" width="15.6" height="6.8" rx="4.68" ry="3.4" fill="#ffffff" stroke="#a6a6a6" stroke-width="0.75" transform="rotate(-45 575.75 381.9)"/>
<rect x="567.95" y="397.5" width="15.6" height="6.8" rx="4.68" ry="3.4" fill="#ffffff" stroke="#a6a6a6" stroke-width="0.75" transform="rotate(45 575.75 400.9)"/>
<rect x="587.45" y="378.5" width="15.6" height="6.8" rx="4.68" ry="3.4" fill="#fdecd0" stroke="#a6a6a6" stroke-width="0.75" transform="rotate(45 595.25 381.9)"/>
<rect x="587.45" y="397.5" width="15.6" height="6.8" rx="4.68" ry="3.4" fill="#fdf0dc" stroke="#a6a6a6" stroke-width="0.75" transform="rotate(-45 595.25 400.9)"/>
<rect x="606.95" y="378.5" width="15.6" height="6.8" rx="4.68" ry="3.4" fill="#fde0b0" stroke="#a6a6a6" stroke-width="0.75" transform="rotate(-45 614.75 381.9)"/>
<rect x="606.95" y="397.5" width="15.6" height="6.8" rx="4.68" ry="3.4" fill="#ffffff" stroke="#a6a6a6" stroke-width="0.75" transform="rotate(45 614.75 400.9)"/>
<rect x="626.45" y="378.5" width="15.6" height="6.8" rx="4.68" ry="3.4" fill="#fdd490" stroke="#a6a6a6" stroke-width="0.75" transform="rotate(45 634.25 381.9)"/>
<rect x="626.45" y="397.5" width="15.6" height="6.8" rx="4.68" ry="3.4" fill="#fdcc80" stroke="#a6a6a6" stroke-width="0.75" transform="rotate(-45 634.25 400.9)"/>
<rect x="645.95" y="378.5" width="15.6" height="6.8" rx="4.68" ry="3.4" fill="#fdf0dc" stroke="#a6a6a6" stroke-width="0.75" transform="rotate(-45 653.75 381.9)"/>
<rect x="645.95" y="397.5" width="15.6" height="6.8" rx="4.68" ry="3.4" fill="#fdf0dc" stroke="#a6a6a6" stroke-width="0.75" transform="rotate(45 653.75 400.9)"/>
<polygon points="550.31,382.2 555.7,387.59 555.7,395.21 550.31,400.6 542.69,400.6 537.3,395.21 537.3,387.59 542.69,382.2" fill="#ffffff" stroke="#a6a6a6" stroke-width="0.75" stroke-linejoin="round"/>
<polygon points="569.81,363.2 575.2,368.59 575.2,376.21 569.81,381.6 562.19,381.6 556.8,376.21 556.8,368.59 562.19,363.2" fill="#ffffff" stroke="#a6a6a6" stroke-width="0.75" stroke-linejoin="round"/>
<polygon points="569.81,401.2 575.2,406.59 575.2,414.21 569.81,419.6 562.19,419.6 556.8,414.21 556.8,406.59 562.19,401.2" fill="#ffffff" stroke="#a6a6a6" stroke-width="0.75" stroke-linejoin="round"/>
<polygon points="589.31,382.2 594.7,387.59 594.7,395.21 589.31,400.6 581.69,400.6 576.3,395.21 576.3,387.59 581.69,382.2" fill="#ffffff" stroke="#a6a6a6" stroke-width="0.75" stroke-linejoin="round"/>
<polygon points="608.81,363.2 614.2,368.59 614.2,376.21 608.81,381.6 601.19,381.6 595.8,376.21 595.8,368.59 601.19,363.2" fill="#fef4e4" stroke="#a6a6a6" stroke-width="0.75" stroke-linejoin="round"/>
<polygon points="608.81,401.2 614.2,406.59 614.2,414.21 608.81,419.6 601.19,419.6 595.8,414.21 595.8,406.59 601.19,401.2" fill="#fef0d8" stroke="#a6a6a6" stroke-width="0.75" stroke-linejoin="round"/>
<polygon points="647.81,363.2 653.2,368.59 653.2,376.21 647.81,381.6 640.19,381.6 634.8,376.21 634.8,368.59 640.19,363.2" fill="#fee8c4" stroke="#a6a6a6" stroke-width="0.75" stroke-linejoin="round"/>
<polygon points="647.81,401.2 653.2,406.59 653.2,414.21 647.81,419.6 640.19,419.6 634.8,414.21 634.8,406.59 640.19,401.2" fill="#feecd0" stroke="#a6a6a6" stroke-width="0.75" stroke-linejoin="round"/>
<polygon points="667.31,382.2 672.7,387.59 672.7,395.21 667.31,400.6 659.69,400.6 654.3,395.21 654.3,387.59 659.69,382.2" fill="#fff8ee" stroke="#a6a6a6" stroke-width="0.75" stroke-linejoin="round"/>
<polygon points="628.31,382.2 633.7,387.59 633.7,395.21 628.31,400.6 620.69,400.6 615.3,395.21 615.3,387.59 620.69,382.2" fill="#fed898" stroke="#111" stroke-width="2.0" stroke-linejoin="round"/>
<rect x="88.45" y="460.3" width="15.6" height="6.8" rx="4.68" ry="3.4" fill="#fff0f0" stroke="#a6a6a6" stroke-width="0.75" transform="rotate(45 96.25 463.7)"/>
<rect x="88.45" y="479.3" width="15.6" height="6.8" rx="4.68" ry="3.4" fill="#e6e6fc" stroke="#a6a6a6" stroke-width="0.75" transform="rotate(-45 96.25 482.7)"/>
<rect x="107.95" y="460.3" width="15.6" height="6.8" rx="4.68" ry="3.4" fill="#f01010" stroke="#a6a6a6" stroke-width="0.75" transform="rotate(-45 115.75 463.7)"/>
<rect x="107.95" y="479.3" width="15.6" height="6.8" rx="4.68" ry="3.4" fill="#fdd8d8" stroke="#a6a6a6" stroke-width="0.75" transform="rotate(45 115.75 482.7)"/>
<rect x="127.45" y="460.3" width="15.6" height="6.8" rx="4.68" ry="3.4" fill="#fdc0c0" stroke="#a6a6a6" stroke-width="0.75" transform="rotate(45 135.25 463.7)"/>
<rect x="127.45" y="479.3" width="15.6" height="6.8" rx="4.68" ry="3.4" fill="#0000c0" stroke="#a6a6a6" stroke-width="0.75" transform="rotate(-45 135.25 482.7)"/>
<rect x="146.95" y="460.3" width="15.6" height="6.8" rx="4.68" ry="3.4" fill="#6c6cf0" stroke="#a6a6a6" stroke-width="0.75" transform="rotate(-45 154.75 463.7)"/>
<rect x="146.95" y="479.3" width="15.6" height="6.8" rx="4.68" ry="3.4" fill="#5858ee" stroke="#a6a6a6" stroke-width="0.75" transform="rotate(45 154.75 482.7)"/>
<rect x="166.45" y="460.3" width="15.6" height="6.8" rx="4.68" ry="3.4" fill="#d0d0fa" stroke="#a6a6a6" stroke-width="0.75" transform="rotate(45 174.25 463.7)"/>
<rect x="166.45" y="479.3" width="15.6" height="6.8" rx="4.68" ry="3.4" fill="#d8d8fb" stroke="#a6a6a6" stroke-width="0.75" transform="rotate(-45 174.25 482.7)"/>
<rect x="185.95" y="460.3" width="15.6" height="6.8" rx="4.68" ry="3.4" fill="#eeeefd" stroke="#a6a6a6" stroke-width="0.75" transform="rotate(-45 193.75 463.7)"/>
<rect x="185.95" y="479.3" width="15.6" height="6.8" rx="4.68" ry="3.4" fill="#eaeafd" stroke="#a6a6a6" stroke-width="0.75" transform="rotate(45 193.75 482.7)"/>
<polygon points="90.31,464 95.7,469.39 95.7,477.01 90.31,482.4 82.69,482.4 77.3,477.01 77.3,469.39 82.69,464" fill="#f8f8fe" stroke="#a6a6a6" stroke-width="0.75" stroke-linejoin="round"/>
<polygon points="109.81,445 115.2,450.39 115.2,458.01 109.81,463.4 102.19,463.4 96.8,458.01 96.8,450.39 102.19,445" fill="#ffd0d0" stroke="#a6a6a6" stroke-width="0.75" stroke-linejoin="round"/>
<polygon points="109.81,483 115.2,488.39 115.2,496.01 109.81,501.4 102.19,501.4 96.8,496.01 96.8,488.39 102.19,483" fill="#eeeefd" stroke="#a6a6a6" stroke-width="0.75" stroke-linejoin="round"/>
<polygon points="148.81,445 154.2,450.39 154.2,458.01 148.81,463.4 141.19,463.4 135.8,458.01 135.8,450.39 141.19,445" fill="#dcdcfb" stroke="#a6a6a6" stroke-width="0.75" stroke-linejoin="round"/>
<polygon points="148.81,483 154.2,488.39 154.2,496.01 148.81,501.4 141.19,501.4 135.8,496.01 135.8,488.39 141.19,483" fill="#9494f2" stroke="#a6a6a6" stroke-width="0.75" stroke-linejoin="round"/>
<polygon points="168.31,464 173.7,469.39 173.7,477.01 168.31,482.4 160.69,482.4 155.3,477.01 155.3,469.39 160.69,464" fill="#b8b8f8" stroke="#a6a6a6" stroke-width="0.75" stroke-linejoin="round"/>
<polygon points="187.81,445 193.2,450.39 193.2,458.01 187.81,463.4 180.19,463.4 174.8,458.01 174.8,450.39 180.19,445" fill="#e4e4fc" stroke="#a6a6a6" stroke-width="0.75" stroke-linejoin="round"/>
<polygon points="187.81,483 193.2,488.39 193.2,496.01 187.81,501.4 180.19,501.4 174.8,496.01 174.8,488.39 180.19,483" fill="#e4e4fc" stroke="#a6a6a6" stroke-width="0.75" stroke-linejoin="round"/>
<polygon points="207.31,464 212.7,469.39 212.7,477.01 207.31,482.4 199.69,482.4 194.3,477.01 194.3,469.39 199.69,464" fill="#fffafa" stroke="#a6a6a6" stroke-width="0.75" stroke-linejoin="round"/>
<polygon points="129.31,464 134.7,469.39 134.7,477.01 129.31,482.4 121.69,482.4 116.3,477.01 116.3,469.39 121.69,464" fill="#7a0000" stroke="#111" stroke-width="2.0" stroke-linejoin="round"/>
<rect x="242.55" y="460.3" width="15.6" height="6.8" rx="4.68" ry="3.4" fill="#f4f4fe" stroke="#a6a6a6" stroke-width="0.75" transform="rotate(45 250.35 463.7)"/>
<rect x="242.55" y="479.3" width="15.6" height="6.8" rx="4.68" ry="3.4" fill="#f4f4fe" stroke="#a6a6a6" stroke-width="0.75" transform="rotate(-45 250.35 482.7)"/>
<rect x="262.05" y="460.3" width="15.6" height="6.8" rx="4.68" ry="3.4" fill="#f0f0fd" stroke="#a6a6a6" stroke-width="0.75" transform="rotate(-45 269.85 463.7)"/>
<rect x="262.05" y="479.3" width="15.6" height="6.8" rx="4.68" ry="3.4" fill="#f0f0fd" stroke="#a6a6a6" stroke-width="0.75" transform="rotate(45 269.85 482.7)"/>
<rect x="281.55" y="460.3" width="15.6" height="6.8" rx="4.68" ry="3.4" fill="#dcdcfb" stroke="#a6a6a6" stroke-width="0.75" transform="rotate(45 289.35 463.7)"/>
<rect x="281.55" y="479.3" width="15.6" height="6.8" rx="4.68" ry="3.4" fill="#9c9cf4" stroke="#a6a6a6" stroke-width="0.75" transform="rotate(-45 289.35 482.7)"/>
<rect x="301.05" y="460.3" width="15.6" height="6.8" rx="4.68" ry="3.4" fill="#f88080" stroke="#a6a6a6" stroke-width="0.75" transform="rotate(-45 308.85 463.7)"/>
<rect x="301.05" y="479.3" width="15.6" height="6.8" rx="4.68" ry="3.4" fill="#5050ee" stroke="#a6a6a6" stroke-width="0.75" transform="rotate(45 308.85 482.7)"/>
<rect x="320.55" y="460.3" width="15.6" height="6.8" rx="4.68" ry="3.4" fill="#e00000" stroke="#a6a6a6" stroke-width="0.75" transform="rotate(45 328.35 463.7)"/>
<rect x="320.55" y="479.3" width="15.6" height="6.8" rx="4.68" ry="3.4" fill="#1010f0" stroke="#a6a6a6" stroke-width="0.75" transform="rotate(-45 328.35 482.7)"/>
<rect x="340.05" y="460.3" width="15.6" height="6.8" rx="4.68" ry="3.4" fill="#e8e8fc" stroke="#a6a6a6" stroke-width="0.75" transform="rotate(-45 347.85 463.7)"/>
<rect x="340.05" y="479.3" width="15.6" height="6.8" rx="4.68" ry="3.4" fill="#9c9cf4" stroke="#a6a6a6" stroke-width="0.75" transform="rotate(45 347.85 482.7)"/>
<polygon points="244.41,464 249.8,469.39 249.8,477.01 244.41,482.4 236.79,482.4 231.4,477.01 231.4,469.39 236.79,464" fill="#fcfcff" stroke="#a6a6a6" stroke-width="0.75" stroke-linejoin="round"/>
<polygon points="263.91,445 269.3,450.39 269.3,458.01 263.91,463.4 256.29,463.4 250.9,458.01 250.9,450.39 256.29,445" fill="#f6f6fe" stroke="#a6a6a6" stroke-width="0.75" stroke-linejoin="round"/>
<polygon points="263.91,483 269.3,488.39 269.3,496.01 263.91,501.4 256.29,501.4 250.9,496.01 250.9,488.39 256.29,483" fill="#f4f4fe" stroke="#a6a6a6" stroke-width="0.75" stroke-linejoin="round"/>
<polygon points="283.41,464 288.8,469.39 288.8,477.01 283.41,482.4 275.79,482.4 270.4,477.01 270.4,469.39 275.79,464" fill="#e4e4fc" stroke="#a6a6a6" stroke-width="0.75" stroke-linejoin="round"/>
<polygon points="302.91,445 308.3,450.39 308.3,458.01 302.91,463.4 295.29,463.4 289.9,458.01 289.9,450.39 295.29,445" fill="#fff0f0" stroke="#a6a6a6" stroke-width="0.75" stroke-linejoin="round"/>
<polygon points="302.91,483 308.3,488.39 308.3,496.01 302.91,501.4 295.29,501.4 289.9,496.01 289.9,488.39 295.29,483" fill="#c8c8f8" stroke="#a6a6a6" stroke-width="0.75" stroke-linejoin="round"/>
<polygon points="341.91,445 347.3,450.39 347.3,458.01 341.91,463.4 334.29,463.4 328.9,458.01 328.9,450.39 334.29,445" fill="#ffdcdc" stroke="#a6a6a6" stroke-width="0.75" stroke-linejoin="round"/>
<polygon points="341.91,483 347.3,488.39 347.3,496.01 341.91,501.4 334.29,501.4 328.9,496.01 328.9,488.39 334.29,483" fill="#9898f4" stroke="#a6a6a6" stroke-width="0.75" stroke-linejoin="round"/>
<polygon points="361.41,464 366.8,469.39 366.8,477.01 361.41,482.4 353.79,482.4 348.4,477.01 348.4,469.39 353.79,464" fill="#eeeefd" stroke="#a6a6a6" stroke-width="0.75" stroke-linejoin="round"/>
<polygon points="322.41,464 327.8,469.39 327.8,477.01 322.41,482.4 314.79,482.4 309.4,477.01 309.4,469.39 314.79,464" fill="#7a0000" stroke="#111" stroke-width="2.0" stroke-linejoin="round"/>
<rect x="403.45" y="460.3" width="15.6" height="6.8" rx="4.68" ry="3.4" fill="#fef0dc" stroke="#a6a6a6" stroke-width="0.75" transform="rotate(45 411.25 463.7)"/>
<rect x="403.45" y="479.3" width="15.6" height="6.8" rx="4.68" ry="3.4" fill="#fef0dc" stroke="#a6a6a6" stroke-width="0.75" transform="rotate(-45 411.25 482.7)"/>
<rect x="422.95" y="460.3" width="15.6" height="6.8" rx="4.68" ry="3.4" fill="#fde0b0" stroke="#a6a6a6" stroke-width="0.75" transform="rotate(-45 430.75 463.7)"/>
<rect x="422.95" y="479.3" width="15.6" height="6.8" rx="4.68" ry="3.4" fill="#fddca8" stroke="#a6a6a6" stroke-width="0.75" transform="rotate(45 430.75 482.7)"/>
<rect x="442.45" y="460.3" width="15.6" height="6.8" rx="4.68" ry="3.4" fill="#fdecd0" stroke="#a6a6a6" stroke-width="0.75" transform="rotate(45 450.25 463.7)"/>
<rect x="442.45" y="479.3" width="15.6" height="6.8" rx="4.68" ry="3.4" fill="#fdecd0" stroke="#a6a6a6" stroke-width="0.75" transform="rotate(-45 450.25 482.7)"/>
<rect x="461.95" y="460.3" width="15.6" height="6.8" rx="4.68" ry="3.4" fill="#fde0b0" stroke="#a6a6a6" stroke-width="0.75" transform="rotate(-45 469.75 463.7)"/>
<rect x="461.95" y="479.3" width="15.6" height="6.8" rx="4.68" ry="3.4" fill="#fde0b0" stroke="#a6a6a6" stroke-width="0.75" transform="rotate(45 469.75 482.7)"/>
<rect x="481.45" y="460.3" width="15.6" height="6.8" rx="4.68" ry="3.4" fill="#fdf0dc" stroke="#a6a6a6" stroke-width="0.75" transform="rotate(45 489.25 463.7)"/>
<rect x="481.45" y="479.3" width="15.6" height="6.8" rx="4.68" ry="3.4" fill="#fdf0dc" stroke="#a6a6a6" stroke-width="0.75" transform="rotate(-45 489.25 482.7)"/>
<rect x="500.95" y="460.3" width="15.6" height="6.8" rx="4.68" ry="3.4" fill="#ffffff" stroke="#a6a6a6" stroke-width="0.75" transform="rotate(-45 508.75 463.7)"/>
<rect x="500.95" y="479.3" width="15.6" height="6.8" rx="4.68" ry="3.4" fill="#ffffff" stroke="#a6a6a6" stroke-width="0.75" transform="rotate(45 508.75 482.7)"/>
<polygon points="405.31,464 410.7,469.39 410.7,477.01 405.31,482.4 397.69,482.4 392.3,477.01 392.3,469.39 397.69,464" fill="#fff8ee" stroke="#a6a6a6" stroke-width="0.75" stroke-linejoin="round"/>
<polygon points="424.81,445 430.2,450.39 430.2,458.01 424.81,463.4 417.19,463.4 411.8,458.01 411.8,450.39 417.19,445" fill="#feefd8" stroke="#a6a6a6" stroke-width="0.75" stroke-linejoin="round"/>
<polygon points="424.81,483 430.2,488.39 430.2,496.01 424.81,501.4 417.19,501.4 411.8,496.01 411.8,488.39 417.19,483" fill="#ffffff" stroke="#a6a6a6" stroke-width="0.75" stroke-linejoin="round"/>
<polygon points="463.81,445 469.2,450.39 469.2,458.01 463.81,463.4 456.19,463.4 450.8,458.01 450.8,450.39 456.19,445" fill="#ffffff" stroke="#a6a6a6" stroke-width="0.75" stroke-linejoin="round"/>
<polygon points="463.81,483 469.2,488.39 469.2,496.01 463.81,501.4 456.19,501.4 450.8,496.01 450.8,488.39 456.19,483" fill="#fee4bc" stroke="#a6a6a6" stroke-width="0.75" stroke-linejoin="round"/>
<polygon points="483.31,464 488.7,469.39 488.7,477.01 483.31,482.4 475.69,482.4 470.3,477.01 470.3,469.39 475.69,464" fill="#fee8c8" stroke="#a6a6a6" stroke-width="0.75" stroke-linejoin="round"/>
<polygon points="502.81,445 508.2,450.39 508.2,458.01 502.81,463.4 495.19,463.4 489.8,458.01 489.8,450.39 495.19,445" fill="#ffffff" stroke="#a6a6a6" stroke-width="0.75" stroke-linejoin="round"/>
<polygon points="502.81,483 508.2,488.39 508.2,496.01 502.81,501.4 495.19,501.4 489.8,496.01 489.8,488.39 495.19,483" fill="#ffffff" stroke="#a6a6a6" stroke-width="0.75" stroke-linejoin="round"/>
<polygon points="522.31,464 527.7,469.39 527.7,477.01 522.31,482.4 514.69,482.4 509.3,477.01 509.3,469.39 514.69,464" fill="#ffffff" stroke="#a6a6a6" stroke-width="0.75" stroke-linejoin="round"/>
<polygon points="444.31,464 449.7,469.39 449.7,477.01 444.31,482.4 436.69,482.4 431.3,477.01 431.3,469.39 436.69,464" fill="#8a1008" stroke="#111" stroke-width="2.0" stroke-linejoin="round"/>
<rect x="548.45" y="460.3" width="15.6" height="6.8" rx="4.68" ry="3.4" fill="#fffaf0" stroke="#a6a6a6" stroke-width="0.75" transform="rotate(45 556.25 463.7)"/>
<rect x="548.45" y="479.3" width="15.6" height="6.8" rx="4.68" ry="3.4" fill="#fffaf0" stroke="#a6a6a6" stroke-width="0.75" transform="rotate(-45 556.25 482.7)"/>
<rect x="567.95" y="460.3" width="15.6" height="6.8" rx="4.68" ry="3.4" fill="#fef4e4" stroke="#a6a6a6" stroke-width="0.75" transform="rotate(-45 575.75 463.7)"/>
<rect x="567.95" y="479.3" width="15.6" height="6.8" rx="4.68" ry="3.4" fill="#fef4e4" stroke="#a6a6a6" stroke-width="0.75" transform="rotate(45 575.75 482.7)"/>
<rect x="587.45" y="460.3" width="15.6" height="6.8" rx="4.68" ry="3.4" fill="#fdd490" stroke="#a6a6a6" stroke-width="0.75" transform="rotate(45 595.25 463.7)"/>
<rect x="587.45" y="479.3" width="15.6" height="6.8" rx="4.68" ry="3.4" fill="#fdd490" stroke="#a6a6a6" stroke-width="0.75" transform="rotate(-45 595.25 482.7)"/>
<rect x="606.95" y="460.3" width="15.6" height="6.8" rx="4.68" ry="3.4" fill="#fbbf60" stroke="#a6a6a6" stroke-width="0.75" transform="rotate(-45 614.75 463.7)"/>
<rect x="606.95" y="479.3" width="15.6" height="6.8" rx="4.68" ry="3.4" fill="#fef0dc" stroke="#a6a6a6" stroke-width="0.75" transform="rotate(45 614.75 482.7)"/>
<rect x="626.45" y="460.3" width="15.6" height="6.8" rx="4.68" ry="3.4" fill="#fbc870" stroke="#a6a6a6" stroke-width="0.75" transform="rotate(45 634.25 463.7)"/>
<rect x="626.45" y="479.3" width="15.6" height="6.8" rx="4.68" ry="3.4" fill="#fcd088" stroke="#a6a6a6" stroke-width="0.75" transform="rotate(-45 634.25 482.7)"/>
<rect x="645.95" y="460.3" width="15.6" height="6.8" rx="4.68" ry="3.4" fill="#fef4e4" stroke="#a6a6a6" stroke-width="0.75" transform="rotate(-45 653.75 463.7)"/>
<rect x="645.95" y="479.3" width="15.6" height="6.8" rx="4.68" ry="3.4" fill="#fef4e4" stroke="#a6a6a6" stroke-width="0.75" transform="rotate(45 653.75 482.7)"/>
<polygon points="550.31,464 555.7,469.39 555.7,477.01 550.31,482.4 542.69,482.4 537.3,477.01 537.3,469.39 542.69,464" fill="#ffffff" stroke="#a6a6a6" stroke-width="0.75" stroke-linejoin="round"/>
<polygon points="569.81,445 575.2,450.39 575.2,458.01 569.81,463.4 562.19,463.4 556.8,458.01 556.8,450.39 562.19,445" fill="#fffcf6" stroke="#a6a6a6" stroke-width="0.75" stroke-linejoin="round"/>
<polygon points="569.81,483 575.2,488.39 575.2,496.01 569.81,501.4 562.19,501.4 556.8,496.01 556.8,488.39 562.19,483" fill="#fffcf6" stroke="#a6a6a6" stroke-width="0.75" stroke-linejoin="round"/>
<polygon points="589.31,464 594.7,469.39 594.7,477.01 589.31,482.4 581.69,482.4 576.3,477.01 576.3,469.39 581.69,464" fill="#feecd0" stroke="#a6a6a6" stroke-width="0.75" stroke-linejoin="round"/>
<polygon points="608.81,445 614.2,450.39 614.2,458.01 608.81,463.4 601.19,463.4 595.8,458.01 595.8,450.39 601.19,445" fill="#fee4bc" stroke="#a6a6a6" stroke-width="0.75" stroke-linejoin="round"/>
<polygon points="608.81,483 614.2,488.39 614.2,496.01 608.81,501.4 601.19,501.4 595.8,496.01 595.8,488.39 601.19,483" fill="#feefd8" stroke="#a6a6a6" stroke-width="0.75" stroke-linejoin="round"/>
<polygon points="647.81,445 653.2,450.39 653.2,458.01 647.81,463.4 640.19,463.4 634.8,458.01 634.8,450.39 640.19,445" fill="#feecd0" stroke="#a6a6a6" stroke-width="0.75" stroke-linejoin="round"/>
<polygon points="647.81,483 653.2,488.39 653.2,496.01 647.81,501.4 640.19,501.4 634.8,496.01 634.8,488.39 640.19,483" fill="#ffffff" stroke="#a6a6a6" stroke-width="0.75" stroke-linejoin="round"/>
<polygon points="667.31,464 672.7,469.39 672.7,477.01 667.31,482.4 659.69,482.4 654.3,477.01 654.3,469.39 659.69,464" fill="#fffaf2" stroke="#a6a6a6" stroke-width="0.75" stroke-linejoin="round"/>
<polygon points="628.31,464 633.7,469.39 633.7,477.01 628.31,482.4 620.69,482.4 615.3,477.01 615.3,469.39 620.69,464" fill="#800000" stroke="#111" stroke-width="2.0" stroke-linejoin="round"/>
<rect x="88.45" y="546.4" width="15.6" height="6.8" rx="4.68" ry="3.4" fill="#dcdcfb" stroke="#a6a6a6" stroke-width="0.75" transform="rotate(45 96.25 549.8)"/>
<rect x="88.45" y="565.4" width="15.6" height="6.8" rx="4.68" ry="3.4" fill="#e0e0fc" stroke="#a6a6a6" stroke-width="0.75" transform="rotate(-45 96.25 568.8)"/>
<rect x="107.95" y="546.4" width="15.6" height="6.8" rx="4.68" ry="3.4" fill="#fdd0d0" stroke="#a6a6a6" stroke-width="0.75" transform="rotate(-45 115.75 549.8)"/>
<rect x="107.95" y="565.4" width="15.6" height="6.8" rx="4.68" ry="3.4" fill="#e8e8fc" stroke="#a6a6a6" stroke-width="0.75" transform="rotate(45 115.75 568.8)"/>
<rect x="127.45" y="546.4" width="15.6" height="6.8" rx="4.68" ry="3.4" fill="#ee2020" stroke="#a6a6a6" stroke-width="0.75" transform="rotate(45 135.25 549.8)"/>
<rect x="127.45" y="565.4" width="15.6" height="6.8" rx="4.68" ry="3.4" fill="#0000d8" stroke="#a6a6a6" stroke-width="0.75" transform="rotate(-45 135.25 568.8)"/>
<rect x="146.95" y="546.4" width="15.6" height="6.8" rx="4.68" ry="3.4" fill="#fde8e8" stroke="#a6a6a6" stroke-width="0.75" transform="rotate(-45 154.75 549.8)"/>
<rect x="146.95" y="565.4" width="15.6" height="6.8" rx="4.68" ry="3.4" fill="#d8d8fb" stroke="#a6a6a6" stroke-width="0.75" transform="rotate(45 154.75 568.8)"/>
<rect x="166.45" y="546.4" width="15.6" height="6.8" rx="4.68" ry="3.4" fill="#fff0f0" stroke="#a6a6a6" stroke-width="0.75" transform="rotate(45 174.25 549.8)"/>
<rect x="166.45" y="565.4" width="15.6" height="6.8" rx="4.68" ry="3.4" fill="#eeeefd" stroke="#a6a6a6" stroke-width="0.75" transform="rotate(-45 174.25 568.8)"/>
<rect x="185.95" y="546.4" width="15.6" height="6.8" rx="4.68" ry="3.4" fill="#f6f6fe" stroke="#a6a6a6" stroke-width="0.75" transform="rotate(-45 193.75 549.8)"/>
<rect x="185.95" y="565.4" width="15.6" height="6.8" rx="4.68" ry="3.4" fill="#f6f6fe" stroke="#a6a6a6" stroke-width="0.75" transform="rotate(45 193.75 568.8)"/>
<polygon points="90.31,550.1 95.7,555.49 95.7,563.11 90.31,568.5 82.69,568.5 77.3,563.11 77.3,555.49 82.69,550.1" fill="#f0f0fd" stroke="#a6a6a6" stroke-width="0.75" stroke-linejoin="round"/>
<polygon points="109.81,531.1 115.2,536.49 115.2,544.11 109.81,549.5 102.19,549.5 96.8,544.11 96.8,536.49 102.19,531.1" fill="#f4f4fe" stroke="#a6a6a6" stroke-width="0.75" stroke-linejoin="round"/>
<polygon points="109.81,569.1 115.2,574.49 115.2,582.11 109.81,587.5 102.19,587.5 96.8,582.11 96.8,574.49 102.19,569.1" fill="#f8f8fe" stroke="#a6a6a6" stroke-width="0.75" stroke-linejoin="round"/>
<polygon points="148.81,531.1 154.2,536.49 154.2,544.11 148.81,549.5 141.19,549.5 135.8,544.11 135.8,536.49 141.19,531.1" fill="#ffe0e0" stroke="#a6a6a6" stroke-width="0.75" stroke-linejoin="round"/>
<polygon points="148.81,569.1 154.2,574.49 154.2,582.11 148.81,587.5 141.19,587.5 135.8,582.11 135.8,574.49 141.19,569.1" fill="#d0d0fa" stroke="#a6a6a6" stroke-width="0.75" stroke-linejoin="round"/>
<polygon points="168.31,550.1 173.7,555.49 173.7,563.11 168.31,568.5 160.69,568.5 155.3,563.11 155.3,555.49 160.69,550.1" fill="#fff8f8" stroke="#a6a6a6" stroke-width="0.75" stroke-linejoin="round"/>
<polygon points="187.81,531.1 193.2,536.49 193.2,544.11 187.81,549.5 180.19,549.5 174.8,544.11 174.8,536.49 180.19,531.1" fill="#fafaff" stroke="#a6a6a6" stroke-width="0.75" stroke-linejoin="round"/>
<polygon points="187.81,569.1 193.2,574.49 193.2,582.11 187.81,587.5 180.19,587.5 174.8,582.11 174.8,574.49 180.19,569.1" fill="#fffafa" stroke="#a6a6a6" stroke-width="0.75" stroke-linejoin="round"/>
<polygon points="207.31,550.1 212.7,555.49 212.7,563.11 207.31,568.5 199.69,568.5 194.3,563.11 194.3,555.49 199.69,550.1" fill="#fcfcff" stroke="#a6a6a6" stroke-width="0.75" stroke-linejoin="round"/>
<polygon points="129.31,550.1 134.7,555.49 134.7,563.11 129.31,568.5 121.69,568.5 116.3,563.11 116.3,555.49 121.69,550.1" fill="#f8aaaa" stroke="#111" stroke-width="2.0" stroke-linejoin="round"/>
<rect x="242.55" y="546.4" width="15.6" height="6.8" rx="4.68" ry="3.4" fill="#fcfcff" stroke="#a6a6a6" stroke-width="0.75" transform="rotate(45 250.35 549.8)"/>
<rect x="242.55" y="565.4" width="15.6" height="6.8" rx="4.68" ry="3.4" fill="#fcfcff" stroke="#a6a6a6" stroke-width="0.75" transform="rotate(-45 250.35 568.8)"/>
<rect x="262.05" y="546.4" width="15.6" height="6.8" rx="4.68" ry="3.4" fill="#fcfcff" stroke="#a6a6a6" stroke-width="0.75" transform="rotate(-45 269.85 549.8)"/>
<rect x="262.05" y="565.4" width="15.6" height="6.8" rx="4.68" ry="3.4" fill="#fcfcff" stroke="#a6a6a6" stroke-width="0.75" transform="rotate(45 269.85 568.8)"/>
<rect x="281.55" y="546.4" width="15.6" height="6.8" rx="4.68" ry="3.4" fill="#ffe0e0" stroke="#a6a6a6" stroke-width="0.75" transform="rotate(45 289.35 549.8)"/>
<rect x="281.55" y="565.4" width="15.6" height="6.8" rx="4.68" ry="3.4" fill="#ffd8d8" stroke="#a6a6a6" stroke-width="0.75" transform="rotate(-45 289.35 568.8)"/>
<rect x="301.05" y="546.4" width="15.6" height="6.8" rx="4.68" ry="3.4" fill="#fcb0b0" stroke="#a6a6a6" stroke-width="0.75" transform="rotate(-45 308.85 549.8)"/>
<rect x="301.05" y="565.4" width="15.6" height="6.8" rx="4.68" ry="3.4" fill="#6060ee" stroke="#a6a6a6" stroke-width="0.75" transform="rotate(45 308.85 568.8)"/>
<rect x="320.55" y="546.4" width="15.6" height="6.8" rx="4.68" ry="3.4" fill="#f04040" stroke="#a6a6a6" stroke-width="0.75" transform="rotate(45 328.35 549.8)"/>
<rect x="320.55" y="565.4" width="15.6" height="6.8" rx="4.68" ry="3.4" fill="#9090f2" stroke="#a6a6a6" stroke-width="0.75" transform="rotate(-45 328.35 568.8)"/>
<rect x="340.05" y="546.4" width="15.6" height="6.8" rx="4.68" ry="3.4" fill="#e0e0fc" stroke="#a6a6a6" stroke-width="0.75" transform="rotate(-45 347.85 549.8)"/>
<rect x="340.05" y="565.4" width="15.6" height="6.8" rx="4.68" ry="3.4" fill="#d8d8fb" stroke="#a6a6a6" stroke-width="0.75" transform="rotate(45 347.85 568.8)"/>
<polygon points="244.41,550.1 249.8,555.49 249.8,563.11 244.41,568.5 236.79,568.5 231.4,563.11 231.4,555.49 236.79,550.1" fill="#ffffff" stroke="#a6a6a6" stroke-width="0.75" stroke-linejoin="round"/>
<polygon points="263.91,531.1 269.3,536.49 269.3,544.11 263.91,549.5 256.29,549.5 250.9,544.11 250.9,536.49 256.29,531.1" fill="#fff4f4" stroke="#a6a6a6" stroke-width="0.75" stroke-linejoin="round"/>
<polygon points="263.91,569.1 269.3,574.49 269.3,582.11 263.91,587.5 256.29,587.5 250.9,582.11 250.9,574.49 256.29,569.1" fill="#fafaff" stroke="#a6a6a6" stroke-width="0.75" stroke-linejoin="round"/>
<polygon points="283.41,550.1 288.8,555.49 288.8,563.11 283.41,568.5 275.79,568.5 270.4,563.11 270.4,555.49 275.79,550.1" fill="#ffe8e8" stroke="#a6a6a6" stroke-width="0.75" stroke-linejoin="round"/>
<polygon points="302.91,531.1 308.3,536.49 308.3,544.11 302.91,549.5 295.29,549.5 289.9,544.11 289.9,536.49 295.29,531.1" fill="#fff2f2" stroke="#a6a6a6" stroke-width="0.75" stroke-linejoin="round"/>
<polygon points="302.91,569.1 308.3,574.49 308.3,582.11 302.91,587.5 295.29,587.5 289.9,582.11 289.9,574.49 295.29,569.1" fill="#fcfcff" stroke="#a6a6a6" stroke-width="0.75" stroke-linejoin="round"/>
<polygon points="341.91,531.1 347.3,536.49 347.3,544.11 341.91,549.5 334.29,549.5 328.9,544.11 328.9,536.49 334.29,531.1" fill="#fff4f4" stroke="#a6a6a6" stroke-width="0.75" stroke-linejoin="round"/>
<polygon points="341.91,569.1 347.3,574.49 347.3,582.11 341.91,587.5 334.29,587.5 328.9,582.11 328.9,574.49 334.29,569.1" fill="#ececfd" stroke="#a6a6a6" stroke-width="0.75" stroke-linejoin="round"/>
<polygon points="361.41,550.1 366.8,555.49 366.8,563.11 361.41,568.5 353.79,568.5 348.4,563.11 348.4,555.49 353.79,550.1" fill="#ffffff" stroke="#a6a6a6" stroke-width="0.75" stroke-linejoin="round"/>
<polygon points="322.41,550.1 327.8,555.49 327.8,563.11 322.41,568.5 314.79,568.5 309.4,563.11 309.4,555.49 314.79,550.1" fill="#f8b0b0" stroke="#111" stroke-width="2.0" stroke-linejoin="round"/>
<rect x="403.45" y="546.4" width="15.6" height="6.8" rx="4.68" ry="3.4" fill="#fef0dc" stroke="#a6a6a6" stroke-width="0.75" transform="rotate(45 411.25 549.8)"/>
<rect x="403.45" y="565.4" width="15.6" height="6.8" rx="4.68" ry="3.4" fill="#fef0dc" stroke="#a6a6a6" stroke-width="0.75" transform="rotate(-45 411.25 568.8)"/>
<rect x="422.95" y="546.4" width="15.6" height="6.8" rx="4.68" ry="3.4" fill="#e69a48" stroke="#a6a6a6" stroke-width="0.75" transform="rotate(-45 430.75 549.8)"/>
<rect x="422.95" y="565.4" width="15.6" height="6.8" rx="4.68" ry="3.4" fill="#f0b050" stroke="#a6a6a6" stroke-width="0.75" transform="rotate(45 430.75 568.8)"/>
<rect x="442.45" y="546.4" width="15.6" height="6.8" rx="4.68" ry="3.4" fill="#d8803c" stroke="#a6a6a6" stroke-width="0.75" transform="rotate(45 450.25 549.8)"/>
<rect x="442.45" y="565.4" width="15.6" height="6.8" rx="4.68" ry="3.4" fill="#d07830" stroke="#a6a6a6" stroke-width="0.75" transform="rotate(-45 450.25 568.8)"/>
<rect x="461.95" y="546.4" width="15.6" height="6.8" rx="4.68" ry="3.4" fill="#fde8c8" stroke="#a6a6a6" stroke-width="0.75" transform="rotate(-45 469.75 549.8)"/>
<rect x="461.95" y="565.4" width="15.6" height="6.8" rx="4.68" ry="3.4" fill="#fef0dc" stroke="#a6a6a6" stroke-width="0.75" transform="rotate(45 469.75 568.8)"/>
<rect x="481.45" y="546.4" width="15.6" height="6.8" rx="4.68" ry="3.4" fill="#fffcf8" stroke="#a6a6a6" stroke-width="0.75" transform="rotate(45 489.25 549.8)"/>
<rect x="481.45" y="565.4" width="15.6" height="6.8" rx="4.68" ry="3.4" fill="#fffcf8" stroke="#a6a6a6" stroke-width="0.75" transform="rotate(-45 489.25 568.8)"/>
<rect x="500.95" y="546.4" width="15.6" height="6.8" rx="4.68" ry="3.4" fill="#ffffff" stroke="#a6a6a6" stroke-width="0.75" transform="rotate(-45 508.75 549.8)"/>
<rect x="500.95" y="565.4" width="15.6" height="6.8" rx="4.68" ry="3.4" fill="#ffffff" stroke="#a6a6a6" stroke-width="0.75" transform="rotate(45 508.75 568.8)"/>
<polygon points="405.31,550.1 410.7,555.49 410.7,563.11 405.31,568.5 397.69,568.5 392.3,563.11 392.3,555.49 397.69,550.1" fill="#ffffff" stroke="#a6a6a6" stroke-width="0.75" stroke-linejoin="round"/>
<polygon points="424.81,531.1 430.2,536.49 430.2,544.11 424.81,549.5 417.19,549.5 411.8,544.11 411.8,536.49 417.19,531.1" fill="#feecd0" stroke="#a6a6a6" stroke-width="0.75" stroke-linejoin="round"/>
<polygon points="424.81,569.1 430.2,574.49 430.2,582.11 424.81,587.5 417.19,587.5 411.8,582.11 411.8,574.49 417.19,569.1" fill="#fee4bc" stroke="#a6a6a6" stroke-width="0.75" stroke-linejoin="round"/>
<polygon points="463.81,531.1 469.2,536.49 469.2,544.11 463.81,549.5 456.19,549.5 450.8,544.11 450.8,536.49 456.19,531.1" fill="#feecd0" stroke="#a6a6a6" stroke-width="0.75" stroke-linejoin="round"/>
<polygon points="463.81,569.1 469.2,574.49 469.2,582.11 463.81,587.5 456.19,587.5 450.8,582.11 450.8,574.49 456.19,569.1" fill="#fee8c8" stroke="#a6a6a6" stroke-width="0.75" stroke-linejoin="round"/>
<polygon points="483.31,550.1 488.7,555.49 488.7,563.11 483.31,568.5 475.69,568.5 470.3,563.11 470.3,555.49 475.69,550.1" fill="#fff6ea" stroke="#a6a6a6" stroke-width="0.75" stroke-linejoin="round"/>
<polygon points="502.81,531.1 508.2,536.49 508.2,544.11 502.81,549.5 495.19,549.5 489.8,544.11 489.8,536.49 495.19,531.1" fill="#ffffff" stroke="#a6a6a6" stroke-width="0.75" stroke-linejoin="round"/>
<polygon points="502.81,569.1 508.2,574.49 508.2,582.11 502.81,587.5 495.19,587.5 489.8,582.11 489.8,574.49 495.19,569.1" fill="#ffffff" stroke="#a6a6a6" stroke-width="0.75" stroke-linejoin="round"/>
<polygon points="522.31,550.1 527.7,555.49 527.7,563.11 522.31,568.5 514.69,568.5 509.3,563.11 509.3,555.49 514.69,550.1" fill="#ffffff" stroke="#a6a6a6" stroke-width="0.75" stroke-linejoin="round"/>
<polygon points="444.31,550.1 449.7,555.49 449.7,563.11 444.31,568.5 436.69,568.5 431.3,563.11 431.3,555.49 436.69,550.1" fill="#feeed4" stroke="#111" stroke-width="2.0" stroke-linejoin="round"/>
<rect x="548.45" y="546.4" width="15.6" height="6.8" rx="4.68" ry="3.4" fill="#ffffff" stroke="#a6a6a6" stroke-width="0.75" transform="rotate(45 556.25 549.8)"/>
<rect x="548.45" y="565.4" width="15.6" height="6.8" rx="4.68" ry="3.4" fill="#ffffff" stroke="#a6a6a6" stroke-width="0.75" transform="rotate(-45 556.25 568.8)"/>
<rect x="567.95" y="546.4" width="15.6" height="6.8" rx="4.68" ry="3.4" fill="#fef4e4" stroke="#a6a6a6" stroke-width="0.75" transform="rotate(-45 575.75 549.8)"/>
<rect x="567.95" y="565.4" width="15.6" height="6.8" rx="4.68" ry="3.4" fill="#fefaf4" stroke="#a6a6a6" stroke-width="0.75" transform="rotate(45 575.75 568.8)"/>
<rect x="587.45" y="546.4" width="15.6" height="6.8" rx="4.68" ry="3.4" fill="#fddca0" stroke="#a6a6a6" stroke-width="0.75" transform="rotate(45 595.25 549.8)"/>
<rect x="587.45" y="565.4" width="15.6" height="6.8" rx="4.68" ry="3.4" fill="#fefaf4" stroke="#a6a6a6" stroke-width="0.75" transform="rotate(-45 595.25 568.8)"/>
<rect x="606.95" y="546.4" width="15.6" height="6.8" rx="4.68" ry="3.4" fill="#d88038" stroke="#a6a6a6" stroke-width="0.75" transform="rotate(-45 614.75 549.8)"/>
<rect x="606.95" y="565.4" width="15.6" height="6.8" rx="4.68" ry="3.4" fill="#fcd080" stroke="#a6a6a6" stroke-width="0.75" transform="rotate(45 614.75 568.8)"/>
<rect x="626.45" y="546.4" width="15.6" height="6.8" rx="4.68" ry="3.4" fill="#981810" stroke="#a6a6a6" stroke-width="0.75" transform="rotate(45 634.25 549.8)"/>
<rect x="626.45" y="565.4" width="15.6" height="6.8" rx="4.68" ry="3.4" fill="#e8a050" stroke="#a6a6a6" stroke-width="0.75" transform="rotate(-45 634.25 568.8)"/>
<rect x="645.95" y="546.4" width="15.6" height="6.8" rx="4.68" ry="3.4" fill="#fde8c8" stroke="#a6a6a6" stroke-width="0.75" transform="rotate(-45 653.75 549.8)"/>
<rect x="645.95" y="565.4" width="15.6" height="6.8" rx="4.68" ry="3.4" fill="#fef4e4" stroke="#a6a6a6" stroke-width="0.75" transform="rotate(45 653.75 568.8)"/>
<polygon points="550.31,550.1 555.7,555.49 555.7,563.11 550.31,568.5 542.69,568.5 537.3,563.11 537.3,555.49 542.69,550.1" fill="#ffffff" stroke="#a6a6a6" stroke-width="0.75" stroke-linejoin="round"/>
<polygon points="569.81,531.1 575.2,536.49 575.2,544.11 569.81,549.5 562.19,549.5 556.8,544.11 556.8,536.49 562.19,531.1" fill="#ffffff" stroke="#a6a6a6" stroke-width="0.75" stroke-linejoin="round"/>
<polygon points="569.81,569.1 575.2,574.49 575.2,582.11 569.81,587.5 562.19,587.5 556.8,582.11 556.8,574.49 562.19,569.1" fill="#ffffff" stroke="#a6a6a6" stroke-width="0.75" stroke-linejoin="round"/>
<polygon points="589.31,550.1 594.7,555.49 594.7,563.11 589.31,568.5 581.69,568.5 576.3,563.11 576.3,555.49 581.69,550.1" fill="#fff4e4" stroke="#a6a6a6" stroke-width="0.75" stroke-linejoin="round"/>
<polygon points="608.81,531.1 614.2,536.49 614.2,544.11 608.81,549.5 601.19,549.5 595.8,544.11 595.8,536.49 601.19,531.1" fill="#feecd0" stroke="#a6a6a6" stroke-width="0.75" stroke-linejoin="round"/>
<polygon points="608.81,569.1 614.2,574.49 614.2,582.11 608.81,587.5 601.19,587.5 595.8,582.11 595.8,574.49 601.19,569.1" fill="#fff4e4" stroke="#a6a6a6" stroke-width="0.75" stroke-linejoin="round"/>
<polygon points="647.81,531.1 653.2,536.49 653.2,544.11 647.81,549.5 640.19,549.5 634.8,544.11 634.8,536.49 640.19,531.1" fill="#fed890" stroke="#a6a6a6" stroke-width="0.75" stroke-linejoin="round"/>
<polygon points="647.81,569.1 653.2,574.49 653.2,582.11 647.81,587.5 640.19,587.5 634.8,582.11 634.8,574.49 640.19,569.1" fill="#fee6c0" stroke="#a6a6a6" stroke-width="0.75" stroke-linejoin="round"/>
<polygon points="667.31,550.1 672.7,555.49 672.7,563.11 667.31,568.5 659.69,568.5 654.3,563.11 654.3,555.49 659.69,550.1" fill="#fff4e4" stroke="#a6a6a6" stroke-width="0.75" stroke-linejoin="round"/>
<polygon points="628.31,550.1 633.7,555.49 633.7,563.11 628.31,568.5 620.69,568.5 615.3,563.11 615.3,555.49 620.69,550.1" fill="#feecd0" stroke="#111" stroke-width="2.0" stroke-linejoin="round"/>
<rect x="153.9" y="603.3" width="111.8" height="5.5" fill="url(#gseis)" stroke="#000" stroke-width="0.7"/>
<line x1="164.9" y1="608.8" x2="164.9" y2="612.9" stroke="#000" stroke-width="0.9"/>
<text x="164.9" y="624.7" font-size="9.5" text-anchor="middle" fill="#000">−5</text>
<line x1="210.1" y1="608.8" x2="210.1" y2="612.9" stroke="#000" stroke-width="0.9"/>
<text x="210.1" y="624.7" font-size="9.5" text-anchor="middle" fill="#000">0</text>
<line x1="255.5" y1="608.8" x2="255.5" y2="612.9" stroke="#000" stroke-width="0.9"/>
<text x="255.5" y="624.7" font-size="9.5" text-anchor="middle" fill="#000">5</text>
<text x="211.0" y="640.1" font-size="9.6" text-anchor="middle">∂<tspan font-style="italic">g</tspan><tspan font-size="5.8" dy="-3.5">*</tspan><tspan dy="3.5">/∂</tspan><tspan font-style="italic">V</tspan> (10<tspan font-size="5.8" dy="-3.5">−4</tspan><tspan dy="3.5">/mV)</tspan></text>
<rect x="473.3" y="600.2" width="106.9" height="5.7" fill="url(#gorb)" stroke="#000" stroke-width="0.7"/>
<line x1="473.9" y1="605.9" x2="473.9" y2="610" stroke="#000" stroke-width="0.9"/>
<text x="473.9" y="621.7" font-size="9.5" text-anchor="middle" fill="#000">0.0</text>
<line x1="523.8" y1="605.9" x2="523.8" y2="610" stroke="#000" stroke-width="0.9"/>
<text x="523.8" y="621.7" font-size="9.5" text-anchor="middle" fill="#000">0.1</text>
<line x1="573.8" y1="605.9" x2="573.8" y2="610" stroke="#000" stroke-width="0.9"/>
<text x="573.8" y="621.7" font-size="9.5" text-anchor="middle" fill="#000">0.2</text>
<text x="527.0" y="636.0" font-size="9.6" text-anchor="middle"><tspan font-style="italic">f</tspan><tspan font-size="6.5" dy="2" dx="0.3">R</tspan><tspan dy="-2">/</tspan><tspan font-style="italic">A</tspan> (MHz/mV)</text>
</svg>
</body></html>
